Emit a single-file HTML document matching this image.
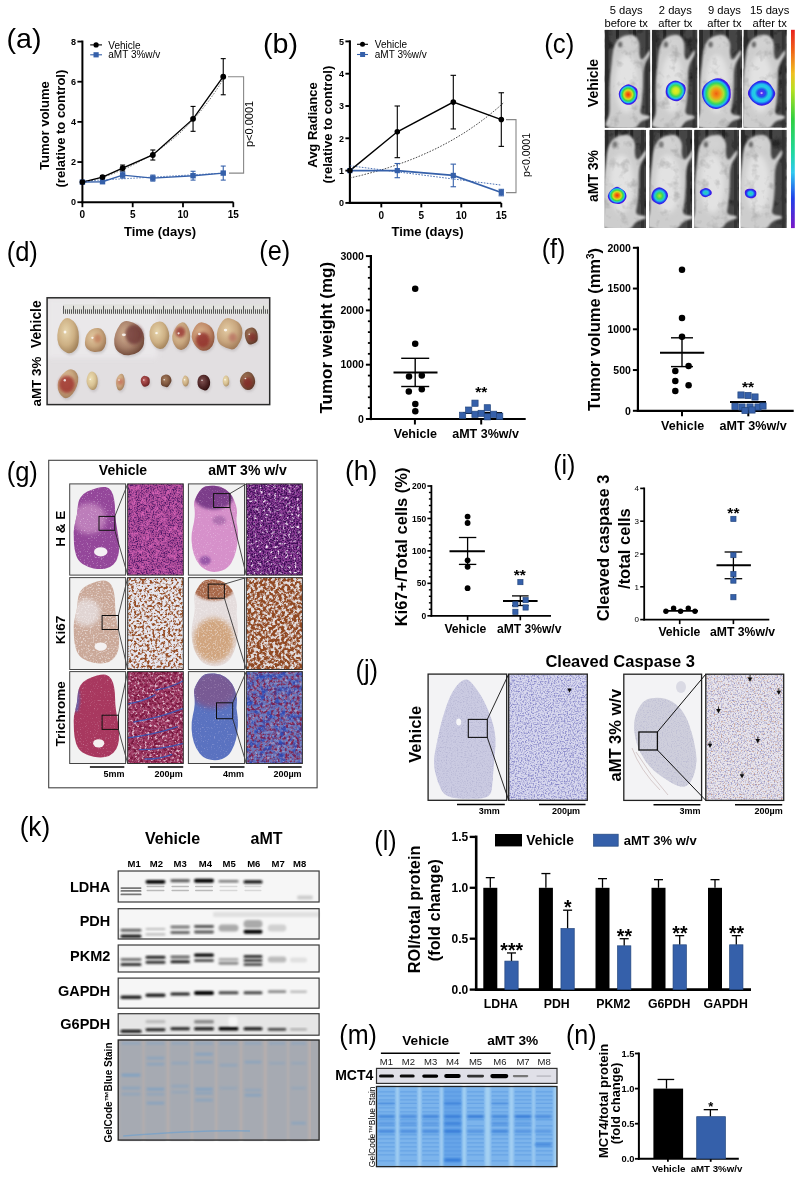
<!DOCTYPE html>
<html><head><meta charset="utf-8"><style>
html,body{margin:0;padding:0;background:#fff;}
svg{display:block;}
text{font-family:"Liberation Sans",sans-serif;}
</style></head><body>
<svg width="808" height="1178" viewBox="0 0 808 1178">
<defs><filter id="gblur" x="0" y="0" width="100%" height="100%"><feGaussianBlur stdDeviation="0.45"/></filter></defs>
<rect width="808" height="1178" fill="#fff"/>
<g filter="url(#gblur)">
<rect width="808" height="1178" fill="#fff"/>
<text transform="translate(6.48 47.97) scale(1.050 1)" font-size="27.27">(a)</text>
<text transform="translate(262.98 53.37) scale(1.050 1)" font-size="27.27">(b)</text>
<text transform="translate(544.25 53.28) scale(0.933 1)" font-size="27.70">(c)</text>
<text transform="translate(6.67 260.68) scale(0.922 1)" font-size="27.70">(d)</text>
<text transform="translate(259.28 260.48) scale(0.912 1)" font-size="27.70">(e)</text>
<text transform="translate(541.69 258.28) scale(0.911 1)" font-size="27.70">(f)</text>
<text transform="translate(6.67 480.68) scale(0.922 1)" font-size="27.70">(g)</text>
<text transform="translate(344.90 480.48) scale(0.962 1)" font-size="27.70">(h)</text>
<text transform="translate(553.19 474.18) scale(0.906 1)" font-size="27.70">(i)</text>
<text transform="translate(355.47 678.78) scale(0.920 1)" font-size="27.70">(j)</text>
<text transform="translate(19.63 835.68) scale(0.947 1)" font-size="27.70">(k)</text>
<text transform="translate(374.29 849.78) scale(0.906 1)" font-size="27.70">(l)</text>
<text transform="translate(339.29 1044.47) scale(0.920 1)" font-size="27.27">(m)</text>
<text transform="translate(565.99 1044.38) scale(0.909 1)" font-size="27.70">(n)</text>
<line x1="82.40" y1="40.56" x2="82.40" y2="203.20" stroke="#000" stroke-width="2"/>
<line x1="77.40" y1="202.20" x2="82.40" y2="202.20" stroke="#000" stroke-width="1.8"/>
<text x="75.90" y="205.44" font-size="9" font-weight="bold" text-anchor="end" fill="#000">0</text>
<line x1="77.40" y1="162.04" x2="82.40" y2="162.04" stroke="#000" stroke-width="1.8"/>
<text x="75.90" y="165.28" font-size="9" font-weight="bold" text-anchor="end" fill="#000">2</text>
<line x1="77.40" y1="121.88" x2="82.40" y2="121.88" stroke="#000" stroke-width="1.8"/>
<text x="75.90" y="125.12" font-size="9" font-weight="bold" text-anchor="end" fill="#000">4</text>
<line x1="77.40" y1="81.72" x2="82.40" y2="81.72" stroke="#000" stroke-width="1.8"/>
<text x="75.90" y="84.96" font-size="9" font-weight="bold" text-anchor="end" fill="#000">6</text>
<line x1="77.40" y1="41.56" x2="82.40" y2="41.56" stroke="#000" stroke-width="1.8"/>
<text x="75.90" y="44.80" font-size="9" font-weight="bold" text-anchor="end" fill="#000">8</text>
<line x1="81.40" y1="202.20" x2="233.40" y2="202.20" stroke="#000" stroke-width="2"/>
<line x1="82.40" y1="202.20" x2="82.40" y2="207.20" stroke="#000" stroke-width="1.8"/>
<text x="82.40" y="218.40" font-size="10" font-weight="bold" text-anchor="middle" fill="#000">0</text>
<line x1="132.70" y1="202.20" x2="132.70" y2="207.20" stroke="#000" stroke-width="1.8"/>
<text x="132.70" y="218.40" font-size="10" font-weight="bold" text-anchor="middle" fill="#000">5</text>
<line x1="183.00" y1="202.20" x2="183.00" y2="207.20" stroke="#000" stroke-width="1.8"/>
<text x="183.00" y="218.40" font-size="10" font-weight="bold" text-anchor="middle" fill="#000">10</text>
<line x1="233.30" y1="202.20" x2="233.30" y2="207.20" stroke="#000" stroke-width="1.8"/>
<text x="233.30" y="218.40" font-size="10" font-weight="bold" text-anchor="middle" fill="#000">15</text>
<text x="160.00" y="235.68" font-size="13" font-weight="bold" text-anchor="middle" fill="#000">Time (days)</text>
<text x="48.68" y="125.60" font-size="13" font-weight="bold" text-anchor="middle" fill="#000" transform="rotate(-90 48.68 125.60)">Tumor volume</text>
<text x="64.58" y="128.60" font-size="13" font-weight="bold" text-anchor="middle" fill="#000" transform="rotate(-90 64.58 128.60)">(relative to control)</text>
<path d="M82.4,183.1 L87.4,181.8 L92.5,180.4 L97.5,178.9 L102.5,177.3 L107.6,175.6 L112.6,173.8 L117.6,171.8 L122.6,169.7 L127.7,167.5 L132.7,165.1 L137.7,162.6 L142.8,159.8 L147.8,156.9 L152.8,153.8 L157.9,150.5 L162.9,146.9 L167.9,143.1 L172.9,139.1 L178.0,134.7 L183.0,130.1 L188.0,125.1 L193.1,119.8 L198.1,114.1 L203.1,108.1 L208.2,101.6 L213.2,94.7 L218.2,87.3 L223.2,79.4" fill="none" stroke="#555" stroke-width="0.8" stroke-dasharray="1.5,1.5"/>
<path d="M82.4,181.1 L223.2,173.1" fill="none" stroke="#3560aa" stroke-width="0.8" stroke-dasharray="1.5,1.5"/>
<line x1="102.52" y1="175.69" x2="102.52" y2="178.51" stroke="#000" stroke-width="1.1"/>
<line x1="100.02" y1="175.69" x2="105.02" y2="175.69" stroke="#000" stroke-width="1.1"/>
<line x1="100.02" y1="178.51" x2="105.02" y2="178.51" stroke="#000" stroke-width="1.1"/>
<line x1="122.64" y1="165.05" x2="122.64" y2="171.08" stroke="#000" stroke-width="1.1"/>
<line x1="120.14" y1="165.05" x2="125.14" y2="165.05" stroke="#000" stroke-width="1.1"/>
<line x1="120.14" y1="171.08" x2="125.14" y2="171.08" stroke="#000" stroke-width="1.1"/>
<line x1="152.82" y1="149.99" x2="152.82" y2="160.03" stroke="#000" stroke-width="1.1"/>
<line x1="150.32" y1="149.99" x2="155.32" y2="149.99" stroke="#000" stroke-width="1.1"/>
<line x1="150.32" y1="160.03" x2="155.32" y2="160.03" stroke="#000" stroke-width="1.1"/>
<line x1="193.06" y1="106.42" x2="193.06" y2="131.32" stroke="#000" stroke-width="1.1"/>
<line x1="190.56" y1="106.42" x2="195.56" y2="106.42" stroke="#000" stroke-width="1.1"/>
<line x1="190.56" y1="131.32" x2="195.56" y2="131.32" stroke="#000" stroke-width="1.1"/>
<line x1="223.24" y1="58.63" x2="223.24" y2="94.77" stroke="#000" stroke-width="1.1"/>
<line x1="220.74" y1="58.63" x2="225.74" y2="58.63" stroke="#000" stroke-width="1.1"/>
<line x1="220.74" y1="94.77" x2="225.74" y2="94.77" stroke="#000" stroke-width="1.1"/>
<line x1="102.52" y1="180.71" x2="102.52" y2="182.72" stroke="#3560aa" stroke-width="1.1"/>
<line x1="100.02" y1="180.71" x2="105.02" y2="180.71" stroke="#3560aa" stroke-width="1.1"/>
<line x1="100.02" y1="182.72" x2="105.02" y2="182.72" stroke="#3560aa" stroke-width="1.1"/>
<line x1="122.64" y1="172.08" x2="122.64" y2="178.10" stroke="#3560aa" stroke-width="1.1"/>
<line x1="120.14" y1="172.08" x2="125.14" y2="172.08" stroke="#3560aa" stroke-width="1.1"/>
<line x1="120.14" y1="178.10" x2="125.14" y2="178.10" stroke="#3560aa" stroke-width="1.1"/>
<line x1="152.82" y1="175.09" x2="152.82" y2="181.12" stroke="#3560aa" stroke-width="1.1"/>
<line x1="150.32" y1="175.09" x2="155.32" y2="175.09" stroke="#3560aa" stroke-width="1.1"/>
<line x1="150.32" y1="181.12" x2="155.32" y2="181.12" stroke="#3560aa" stroke-width="1.1"/>
<line x1="193.06" y1="171.28" x2="193.06" y2="180.11" stroke="#3560aa" stroke-width="1.1"/>
<line x1="190.56" y1="171.28" x2="195.56" y2="171.28" stroke="#3560aa" stroke-width="1.1"/>
<line x1="190.56" y1="180.11" x2="195.56" y2="180.11" stroke="#3560aa" stroke-width="1.1"/>
<line x1="223.24" y1="166.06" x2="223.24" y2="180.11" stroke="#3560aa" stroke-width="1.1"/>
<line x1="220.74" y1="166.06" x2="225.74" y2="166.06" stroke="#3560aa" stroke-width="1.1"/>
<line x1="220.74" y1="180.11" x2="225.74" y2="180.11" stroke="#3560aa" stroke-width="1.1"/>
<path d="M82.4,182.1 L102.5,177.1 L122.6,168.1 L152.8,155.0 L193.1,118.9 L223.2,76.7" fill="none" stroke="#000" stroke-width="1.4"/>
<path d="M82.4,182.1 L102.5,181.7 L122.6,175.1 L152.8,178.1 L193.1,175.7 L223.2,173.1" fill="none" stroke="#3560aa" stroke-width="1.4"/>
<rect x="79.70" y="179.42" width="5.40" height="5.40" fill="#3560aa"/>
<rect x="99.82" y="179.02" width="5.40" height="5.40" fill="#3560aa"/>
<rect x="119.94" y="172.39" width="5.40" height="5.40" fill="#3560aa"/>
<rect x="150.12" y="175.40" width="5.40" height="5.40" fill="#3560aa"/>
<rect x="190.36" y="172.99" width="5.40" height="5.40" fill="#3560aa"/>
<rect x="220.54" y="170.38" width="5.40" height="5.40" fill="#3560aa"/>
<circle cx="82.40" cy="182.12" r="2.90" fill="#000"/>
<circle cx="102.52" cy="177.10" r="2.90" fill="#000"/>
<circle cx="122.64" cy="168.06" r="2.90" fill="#000"/>
<circle cx="152.82" cy="155.01" r="2.90" fill="#000"/>
<circle cx="193.06" cy="118.87" r="2.90" fill="#000"/>
<circle cx="223.24" cy="76.70" r="2.90" fill="#000"/>
<line x1="90.20" y1="44.90" x2="102.00" y2="44.90" stroke="#000" stroke-width="1.1"/>
<circle cx="96.10" cy="44.90" r="2.60" fill="#000"/>
<text x="108.30" y="48.50" font-size="10" text-anchor="start" fill="#000">Vehicle</text>
<line x1="90.20" y1="54.80" x2="102.00" y2="54.80" stroke="#3560aa" stroke-width="1.1"/>
<rect x="93.50" y="52.20" width="5.20" height="5.20" fill="#3560aa"/>
<text x="108.30" y="58.40" font-size="10" text-anchor="start" fill="#000">aMT 3%w/v</text>
<path d="M228,76.7 L243.6,76.7 L243.6,173.1 L229,173.1" fill="none" stroke="#888" stroke-width="1.1"/>
<text x="252.97" y="123.90" font-size="11" text-anchor="middle" fill="#000" transform="rotate(-90 252.97 123.90)">p&lt;0.0001</text>
<line x1="349.90" y1="40.35" x2="349.90" y2="203.95" stroke="#000" stroke-width="2.1"/>
<line x1="345.40" y1="202.90" x2="349.90" y2="202.90" stroke="#000" stroke-width="1.8900000000000001"/>
<text x="343.90" y="206.14" font-size="9" font-weight="bold" text-anchor="end" fill="#000">0</text>
<line x1="345.40" y1="170.60" x2="349.90" y2="170.60" stroke="#000" stroke-width="1.8900000000000001"/>
<text x="343.90" y="173.84" font-size="9" font-weight="bold" text-anchor="end" fill="#000">1</text>
<line x1="345.40" y1="138.30" x2="349.90" y2="138.30" stroke="#000" stroke-width="1.8900000000000001"/>
<text x="343.90" y="141.54" font-size="9" font-weight="bold" text-anchor="end" fill="#000">2</text>
<line x1="345.40" y1="106.00" x2="349.90" y2="106.00" stroke="#000" stroke-width="1.8900000000000001"/>
<text x="343.90" y="109.24" font-size="9" font-weight="bold" text-anchor="end" fill="#000">3</text>
<line x1="345.40" y1="73.70" x2="349.90" y2="73.70" stroke="#000" stroke-width="1.8900000000000001"/>
<text x="343.90" y="76.94" font-size="9" font-weight="bold" text-anchor="end" fill="#000">4</text>
<line x1="345.40" y1="41.40" x2="349.90" y2="41.40" stroke="#000" stroke-width="1.8900000000000001"/>
<text x="343.90" y="44.64" font-size="9" font-weight="bold" text-anchor="end" fill="#000">5</text>
<line x1="348.85" y1="202.90" x2="501.30" y2="202.90" stroke="#000" stroke-width="2.1"/>
<line x1="381.30" y1="202.90" x2="381.30" y2="207.40" stroke="#000" stroke-width="1.8900000000000001"/>
<text x="381.30" y="218.90" font-size="10" font-weight="bold" text-anchor="middle" fill="#000">0</text>
<line x1="421.30" y1="202.90" x2="421.30" y2="207.40" stroke="#000" stroke-width="1.8900000000000001"/>
<text x="421.30" y="218.90" font-size="10" font-weight="bold" text-anchor="middle" fill="#000">5</text>
<line x1="461.30" y1="202.90" x2="461.30" y2="207.40" stroke="#000" stroke-width="1.8900000000000001"/>
<text x="461.30" y="218.90" font-size="10" font-weight="bold" text-anchor="middle" fill="#000">10</text>
<line x1="501.30" y1="202.90" x2="501.30" y2="207.40" stroke="#000" stroke-width="1.8900000000000001"/>
<text x="501.30" y="218.90" font-size="10" font-weight="bold" text-anchor="middle" fill="#000">15</text>
<text x="427.50" y="236.08" font-size="13" font-weight="bold" text-anchor="middle" fill="#000">Time (days)</text>
<text x="316.98" y="125.00" font-size="13" font-weight="bold" text-anchor="middle" fill="#000" transform="rotate(-90 316.98 125.00)">Avg Radiance</text>
<text x="331.68" y="124.60" font-size="13" font-weight="bold" text-anchor="middle" fill="#000" transform="rotate(-90 331.68 124.60)">(relative to control)</text>
<path d="M349.9,178.0 L353.1,177.3 L356.3,176.5 L359.5,175.8 L362.7,175.0 L365.9,174.1 L369.1,173.3 L372.3,172.4 L375.5,171.5 L378.7,170.6 L381.9,169.7 L385.1,168.7 L388.3,167.7 L391.5,166.6 L394.7,165.6 L397.9,164.5 L401.1,163.3 L404.3,162.2 L407.5,161.0 L410.7,159.7 L413.9,158.5 L417.1,157.2 L420.3,155.8 L423.5,154.4 L426.7,153.0 L429.9,151.5 L433.1,150.0 L436.3,148.5 L439.5,146.9 L442.7,145.2 L445.9,143.5 L449.1,141.8 L452.3,140.0 L455.5,138.1 L458.7,136.2 L461.9,134.3 L465.1,132.3 L468.3,130.2 L471.5,128.0 L474.7,125.8 L477.9,123.6 L481.1,121.2 L484.3,118.8 L487.5,116.4 L490.7,113.8 L493.9,111.2 L497.1,108.5 L500.3,105.7 L503.5,102.8" fill="none" stroke="#333" stroke-width="0.9" stroke-dasharray="1.6,1.4"/>
<path d="M349.9,165.8 L501.3,185.1" fill="none" stroke="#3560aa" stroke-width="0.9" stroke-dasharray="1.6,1.4"/>
<line x1="397.30" y1="106.00" x2="397.30" y2="157.68" stroke="#000" stroke-width="1.1"/>
<line x1="394.55" y1="106.00" x2="400.05" y2="106.00" stroke="#000" stroke-width="1.1"/>
<line x1="394.55" y1="157.68" x2="400.05" y2="157.68" stroke="#000" stroke-width="1.1"/>
<line x1="453.30" y1="75.32" x2="453.30" y2="128.93" stroke="#000" stroke-width="1.1"/>
<line x1="450.55" y1="75.32" x2="456.05" y2="75.32" stroke="#000" stroke-width="1.1"/>
<line x1="450.55" y1="128.93" x2="456.05" y2="128.93" stroke="#000" stroke-width="1.1"/>
<line x1="501.30" y1="92.76" x2="501.30" y2="146.38" stroke="#000" stroke-width="1.1"/>
<line x1="498.55" y1="92.76" x2="504.05" y2="92.76" stroke="#000" stroke-width="1.1"/>
<line x1="498.55" y1="146.38" x2="504.05" y2="146.38" stroke="#000" stroke-width="1.1"/>
<line x1="397.30" y1="163.49" x2="397.30" y2="177.71" stroke="#3560aa" stroke-width="1.1"/>
<line x1="394.55" y1="163.49" x2="400.05" y2="163.49" stroke="#3560aa" stroke-width="1.1"/>
<line x1="394.55" y1="177.71" x2="400.05" y2="177.71" stroke="#3560aa" stroke-width="1.1"/>
<line x1="453.30" y1="164.14" x2="453.30" y2="186.75" stroke="#3560aa" stroke-width="1.1"/>
<line x1="450.55" y1="164.14" x2="456.05" y2="164.14" stroke="#3560aa" stroke-width="1.1"/>
<line x1="450.55" y1="186.75" x2="456.05" y2="186.75" stroke="#3560aa" stroke-width="1.1"/>
<line x1="501.30" y1="189.33" x2="501.30" y2="195.79" stroke="#3560aa" stroke-width="1.1"/>
<line x1="498.55" y1="189.33" x2="504.05" y2="189.33" stroke="#3560aa" stroke-width="1.1"/>
<line x1="498.55" y1="195.79" x2="504.05" y2="195.79" stroke="#3560aa" stroke-width="1.1"/>
<path d="M349.9,170.6 L397.3,131.8 L453.3,102.1 L501.3,119.6" fill="none" stroke="#000" stroke-width="1.4"/>
<path d="M349.9,170.6 L397.3,170.6 L453.3,175.4 L501.3,192.6" fill="none" stroke="#3560aa" stroke-width="1.6"/>
<rect x="347.30" y="168.00" width="5.20" height="5.20" fill="#3560aa"/>
<rect x="394.70" y="168.00" width="5.20" height="5.20" fill="#3560aa"/>
<rect x="450.70" y="172.84" width="5.20" height="5.20" fill="#3560aa"/>
<rect x="498.70" y="189.96" width="5.20" height="5.20" fill="#3560aa"/>
<circle cx="349.90" cy="170.60" r="2.80" fill="#000"/>
<circle cx="397.30" cy="131.84" r="2.80" fill="#000"/>
<circle cx="453.30" cy="102.12" r="2.80" fill="#000"/>
<circle cx="501.30" cy="119.57" r="2.80" fill="#000"/>
<line x1="357.00" y1="44.30" x2="368.00" y2="44.30" stroke="#000" stroke-width="1.1"/>
<circle cx="362.50" cy="44.30" r="2.50" fill="#000"/>
<text x="374.80" y="47.90" font-size="10" text-anchor="start" fill="#000">Vehicle</text>
<line x1="357.00" y1="54.50" x2="368.00" y2="54.50" stroke="#3560aa" stroke-width="1.1"/>
<rect x="360.10" y="52.00" width="5.00" height="5.00" fill="#3560aa"/>
<text x="374.80" y="58.10" font-size="10" text-anchor="start" fill="#000">aMT 3%w/v</text>
<path d="M506,119.6 L516,119.6 L516,192.6 L506,192.6" fill="none" stroke="#888" stroke-width="1.1"/>
<text x="529.63" y="155.00" font-size="10.5" text-anchor="middle" fill="#000" transform="rotate(-90 529.63 155.00)">p&lt;0.0001</text>
<line x1="370.90" y1="255.00" x2="370.90" y2="420.10" stroke="#000" stroke-width="2.2"/>
<line x1="365.90" y1="419.00" x2="370.90" y2="419.00" stroke="#000" stroke-width="1.9800000000000002"/>
<text x="363.90" y="422.78" font-size="10.5" font-weight="bold" text-anchor="end" fill="#000">0</text>
<line x1="365.90" y1="364.70" x2="370.90" y2="364.70" stroke="#000" stroke-width="1.9800000000000002"/>
<text x="363.90" y="368.48" font-size="10.5" font-weight="bold" text-anchor="end" fill="#000">1000</text>
<line x1="365.90" y1="310.40" x2="370.90" y2="310.40" stroke="#000" stroke-width="1.9800000000000002"/>
<text x="363.90" y="314.18" font-size="10.5" font-weight="bold" text-anchor="end" fill="#000">2000</text>
<line x1="365.90" y1="256.10" x2="370.90" y2="256.10" stroke="#000" stroke-width="1.9800000000000002"/>
<text x="363.90" y="259.88" font-size="10.5" font-weight="bold" text-anchor="end" fill="#000">3000</text>
<line x1="367.90" y1="408.14" x2="370.90" y2="408.14" stroke="#000" stroke-width="1.7600000000000002"/>
<line x1="367.90" y1="397.28" x2="370.90" y2="397.28" stroke="#000" stroke-width="1.7600000000000002"/>
<line x1="367.90" y1="386.42" x2="370.90" y2="386.42" stroke="#000" stroke-width="1.7600000000000002"/>
<line x1="367.90" y1="375.56" x2="370.90" y2="375.56" stroke="#000" stroke-width="1.7600000000000002"/>
<line x1="367.90" y1="353.84" x2="370.90" y2="353.84" stroke="#000" stroke-width="1.7600000000000002"/>
<line x1="367.90" y1="342.98" x2="370.90" y2="342.98" stroke="#000" stroke-width="1.7600000000000002"/>
<line x1="367.90" y1="332.12" x2="370.90" y2="332.12" stroke="#000" stroke-width="1.7600000000000002"/>
<line x1="367.90" y1="321.26" x2="370.90" y2="321.26" stroke="#000" stroke-width="1.7600000000000002"/>
<line x1="367.90" y1="299.54" x2="370.90" y2="299.54" stroke="#000" stroke-width="1.7600000000000002"/>
<line x1="367.90" y1="288.68" x2="370.90" y2="288.68" stroke="#000" stroke-width="1.7600000000000002"/>
<line x1="367.90" y1="277.82" x2="370.90" y2="277.82" stroke="#000" stroke-width="1.7600000000000002"/>
<line x1="367.90" y1="266.96" x2="370.90" y2="266.96" stroke="#000" stroke-width="1.7600000000000002"/>
<line x1="369.80" y1="419.00" x2="525.70" y2="419.00" stroke="#000" stroke-width="2.2"/>
<line x1="414.90" y1="419.00" x2="414.90" y2="424.50" stroke="#000" stroke-width="1.9800000000000002"/>
<line x1="481.20" y1="419.00" x2="481.20" y2="424.50" stroke="#000" stroke-width="1.9800000000000002"/>
<text x="415.30" y="437.70" font-size="12.5" font-weight="bold" text-anchor="middle" fill="#000">Vehicle</text>
<text x="485.60" y="437.70" font-size="12.5" font-weight="bold" text-anchor="middle" fill="#000">aMT 3%w/v</text>
<text x="331.62" y="337.70" font-size="17" font-weight="bold" text-anchor="middle" fill="#000" transform="rotate(-90 331.62 337.70)">Tumor weight (mg)</text>
<line x1="393.50" y1="372.40" x2="437.50" y2="372.40" stroke="#000" stroke-width="2"/>
<line x1="415.20" y1="358.30" x2="415.20" y2="386.50" stroke="#000" stroke-width="1.4"/>
<line x1="401.20" y1="358.30" x2="429.20" y2="358.30" stroke="#000" stroke-width="1.4"/>
<line x1="401.20" y1="386.50" x2="429.20" y2="386.50" stroke="#000" stroke-width="1.4"/>
<circle cx="415.20" cy="288.80" r="3.25" fill="#000"/>
<circle cx="415.20" cy="343.80" r="3.25" fill="#000"/>
<circle cx="409.00" cy="376.50" r="3.25" fill="#000"/>
<circle cx="421.80" cy="375.50" r="3.25" fill="#000"/>
<circle cx="408.80" cy="391.50" r="3.25" fill="#000"/>
<circle cx="421.80" cy="389.30" r="3.25" fill="#000"/>
<circle cx="415.30" cy="404.10" r="3.25" fill="#000"/>
<circle cx="415.30" cy="411.20" r="3.25" fill="#000"/>
<line x1="463.00" y1="413.00" x2="502.00" y2="413.00" stroke="#000" stroke-width="2"/>
<rect x="471.90" y="400.10" width="6.20" height="6.20" fill="#3560aa" stroke="#24477f" stroke-width="0.7"/>
<rect x="465.60" y="407.00" width="6.20" height="6.20" fill="#3560aa" stroke="#24477f" stroke-width="0.7"/>
<rect x="459.50" y="412.20" width="6.20" height="6.20" fill="#3560aa" stroke="#24477f" stroke-width="0.7"/>
<rect x="471.90" y="411.20" width="6.20" height="6.20" fill="#3560aa" stroke="#24477f" stroke-width="0.7"/>
<rect x="478.10" y="410.30" width="6.20" height="6.20" fill="#3560aa" stroke="#24477f" stroke-width="0.7"/>
<rect x="484.20" y="404.70" width="6.20" height="6.20" fill="#3560aa" stroke="#24477f" stroke-width="0.7"/>
<rect x="484.20" y="413.70" width="6.20" height="6.20" fill="#3560aa" stroke="#24477f" stroke-width="0.7"/>
<rect x="490.50" y="411.20" width="6.20" height="6.20" fill="#3560aa" stroke="#24477f" stroke-width="0.7"/>
<rect x="496.60" y="413.10" width="6.20" height="6.20" fill="#3560aa" stroke="#24477f" stroke-width="0.7"/>
<text x="481.20" y="397.20" font-size="15.5" font-weight="bold" text-anchor="middle" fill="#000">**</text>
<line x1="637.90" y1="246.70" x2="637.90" y2="411.90" stroke="#000" stroke-width="2.2"/>
<line x1="632.90" y1="410.80" x2="637.90" y2="410.80" stroke="#000" stroke-width="1.9800000000000002"/>
<text x="630.90" y="414.58" font-size="10.5" font-weight="bold" text-anchor="end" fill="#000">0</text>
<line x1="632.90" y1="370.05" x2="637.90" y2="370.05" stroke="#000" stroke-width="1.9800000000000002"/>
<text x="630.90" y="373.83" font-size="10.5" font-weight="bold" text-anchor="end" fill="#000">500</text>
<line x1="632.90" y1="329.30" x2="637.90" y2="329.30" stroke="#000" stroke-width="1.9800000000000002"/>
<text x="630.90" y="333.08" font-size="10.5" font-weight="bold" text-anchor="end" fill="#000">1000</text>
<line x1="632.90" y1="288.55" x2="637.90" y2="288.55" stroke="#000" stroke-width="1.9800000000000002"/>
<text x="630.90" y="292.33" font-size="10.5" font-weight="bold" text-anchor="end" fill="#000">1500</text>
<line x1="632.90" y1="247.80" x2="637.90" y2="247.80" stroke="#000" stroke-width="1.9800000000000002"/>
<text x="630.90" y="251.58" font-size="10.5" font-weight="bold" text-anchor="end" fill="#000">2000</text>
<line x1="636.80" y1="410.80" x2="793.70" y2="410.80" stroke="#000" stroke-width="2.2"/>
<line x1="682.00" y1="410.80" x2="682.00" y2="416.30" stroke="#000" stroke-width="1.9800000000000002"/>
<line x1="748.30" y1="410.80" x2="748.30" y2="416.30" stroke="#000" stroke-width="1.9800000000000002"/>
<text x="682.60" y="430.20" font-size="12.5" font-weight="bold" text-anchor="middle" fill="#000">Vehicle</text>
<text x="753.10" y="430.24" font-size="12.6" font-weight="bold" text-anchor="middle" fill="#000">aMT 3%w/v</text>
<text x="600.04" y="329.40" font-size="16.5" font-weight="bold" text-anchor="middle" fill="#000" transform="rotate(-90 600.04 329.40)">Tumor volume (mm<tspan font-size="10" dy="-6">3</tspan><tspan dy="6">)</tspan></text>
<line x1="660.00" y1="352.70" x2="704.20" y2="352.70" stroke="#000" stroke-width="2"/>
<line x1="682.00" y1="337.80" x2="682.00" y2="366.60" stroke="#000" stroke-width="1.4"/>
<line x1="671.00" y1="337.80" x2="693.00" y2="337.80" stroke="#000" stroke-width="1.4"/>
<line x1="671.00" y1="366.60" x2="693.00" y2="366.60" stroke="#000" stroke-width="1.4"/>
<circle cx="682.00" cy="269.80" r="3.25" fill="#000"/>
<circle cx="682.00" cy="317.90" r="3.25" fill="#000"/>
<circle cx="682.00" cy="336.80" r="3.25" fill="#000"/>
<circle cx="688.60" cy="366.00" r="3.25" fill="#000"/>
<circle cx="675.30" cy="371.00" r="3.25" fill="#000"/>
<circle cx="675.30" cy="381.00" r="3.25" fill="#000"/>
<circle cx="688.60" cy="385.20" r="3.25" fill="#000"/>
<circle cx="675.30" cy="390.90" r="3.25" fill="#000"/>
<line x1="730.00" y1="402.00" x2="766.00" y2="402.00" stroke="#000" stroke-width="2"/>
<rect x="737.90" y="391.90" width="6.20" height="6.20" fill="#3560aa" stroke="#24477f" stroke-width="0.7"/>
<rect x="744.90" y="392.40" width="6.20" height="6.20" fill="#3560aa" stroke="#24477f" stroke-width="0.7"/>
<rect x="751.90" y="393.90" width="6.20" height="6.20" fill="#3560aa" stroke="#24477f" stroke-width="0.7"/>
<rect x="731.90" y="403.40" width="6.20" height="6.20" fill="#3560aa" stroke="#24477f" stroke-width="0.7"/>
<rect x="738.90" y="403.90" width="6.20" height="6.20" fill="#3560aa" stroke="#24477f" stroke-width="0.7"/>
<rect x="746.90" y="403.90" width="6.20" height="6.20" fill="#3560aa" stroke="#24477f" stroke-width="0.7"/>
<rect x="754.90" y="403.90" width="6.20" height="6.20" fill="#3560aa" stroke="#24477f" stroke-width="0.7"/>
<rect x="741.90" y="407.40" width="6.20" height="6.20" fill="#3560aa" stroke="#24477f" stroke-width="0.7"/>
<rect x="748.90" y="406.90" width="6.20" height="6.20" fill="#3560aa" stroke="#24477f" stroke-width="0.7"/>
<rect x="759.90" y="402.90" width="6.20" height="6.20" fill="#3560aa" stroke="#24477f" stroke-width="0.7"/>
<text x="748.00" y="392.10" font-size="15.5" font-weight="bold" text-anchor="middle" fill="#000">**</text>
<line x1="431.40" y1="485.10" x2="431.40" y2="616.70" stroke="#000" stroke-width="1.8"/>
<line x1="427.40" y1="615.80" x2="431.40" y2="615.80" stroke="#000" stroke-width="1.62"/>
<text x="426.20" y="618.86" font-size="8.5" font-weight="bold" text-anchor="end" fill="#000">0</text>
<line x1="427.40" y1="583.35" x2="431.40" y2="583.35" stroke="#000" stroke-width="1.62"/>
<text x="426.20" y="586.41" font-size="8.5" font-weight="bold" text-anchor="end" fill="#000">50</text>
<line x1="427.40" y1="550.90" x2="431.40" y2="550.90" stroke="#000" stroke-width="1.62"/>
<text x="426.20" y="553.96" font-size="8.5" font-weight="bold" text-anchor="end" fill="#000">100</text>
<line x1="427.40" y1="518.45" x2="431.40" y2="518.45" stroke="#000" stroke-width="1.62"/>
<text x="426.20" y="521.51" font-size="8.5" font-weight="bold" text-anchor="end" fill="#000">150</text>
<line x1="427.40" y1="486.00" x2="431.40" y2="486.00" stroke="#000" stroke-width="1.62"/>
<text x="426.20" y="489.06" font-size="8.5" font-weight="bold" text-anchor="end" fill="#000">200</text>
<line x1="428.90" y1="609.31" x2="431.40" y2="609.31" stroke="#000" stroke-width="1.4400000000000002"/>
<line x1="428.90" y1="602.82" x2="431.40" y2="602.82" stroke="#000" stroke-width="1.4400000000000002"/>
<line x1="428.90" y1="596.33" x2="431.40" y2="596.33" stroke="#000" stroke-width="1.4400000000000002"/>
<line x1="428.90" y1="589.84" x2="431.40" y2="589.84" stroke="#000" stroke-width="1.4400000000000002"/>
<line x1="428.90" y1="576.86" x2="431.40" y2="576.86" stroke="#000" stroke-width="1.4400000000000002"/>
<line x1="428.90" y1="570.37" x2="431.40" y2="570.37" stroke="#000" stroke-width="1.4400000000000002"/>
<line x1="428.90" y1="563.88" x2="431.40" y2="563.88" stroke="#000" stroke-width="1.4400000000000002"/>
<line x1="428.90" y1="557.39" x2="431.40" y2="557.39" stroke="#000" stroke-width="1.4400000000000002"/>
<line x1="428.90" y1="544.41" x2="431.40" y2="544.41" stroke="#000" stroke-width="1.4400000000000002"/>
<line x1="428.90" y1="537.92" x2="431.40" y2="537.92" stroke="#000" stroke-width="1.4400000000000002"/>
<line x1="428.90" y1="531.43" x2="431.40" y2="531.43" stroke="#000" stroke-width="1.4400000000000002"/>
<line x1="428.90" y1="524.94" x2="431.40" y2="524.94" stroke="#000" stroke-width="1.4400000000000002"/>
<line x1="428.90" y1="511.96" x2="431.40" y2="511.96" stroke="#000" stroke-width="1.4400000000000002"/>
<line x1="428.90" y1="505.47" x2="431.40" y2="505.47" stroke="#000" stroke-width="1.4400000000000002"/>
<line x1="428.90" y1="498.98" x2="431.40" y2="498.98" stroke="#000" stroke-width="1.4400000000000002"/>
<line x1="428.90" y1="492.49" x2="431.40" y2="492.49" stroke="#000" stroke-width="1.4400000000000002"/>
<line x1="430.50" y1="615.80" x2="551.00" y2="615.80" stroke="#000" stroke-width="1.8"/>
<line x1="467.60" y1="615.80" x2="467.60" y2="620.30" stroke="#000" stroke-width="1.62"/>
<line x1="520.30" y1="615.80" x2="520.30" y2="620.30" stroke="#000" stroke-width="1.62"/>
<text x="465.40" y="632.69" font-size="12.2" font-weight="bold" text-anchor="middle" fill="#000">Vehicle</text>
<text x="529.20" y="632.66" font-size="12.1" font-weight="bold" text-anchor="middle" fill="#000">aMT 3%w/v</text>
<text x="406.84" y="546.90" font-size="16.5" font-weight="bold" text-anchor="middle" fill="#000" transform="rotate(-90 406.84 546.90)">Ki67+/Total cells (%)</text>
<line x1="449.50" y1="551.20" x2="484.90" y2="551.20" stroke="#000" stroke-width="2"/>
<line x1="467.60" y1="537.50" x2="467.60" y2="564.40" stroke="#000" stroke-width="1.3"/>
<line x1="458.90" y1="537.50" x2="476.30" y2="537.50" stroke="#000" stroke-width="1.3"/>
<line x1="458.90" y1="564.40" x2="476.30" y2="564.40" stroke="#000" stroke-width="1.3"/>
<circle cx="467.60" cy="516.60" r="2.90" fill="#000"/>
<circle cx="467.60" cy="523.00" r="2.90" fill="#000"/>
<circle cx="467.60" cy="560.30" r="2.90" fill="#000"/>
<circle cx="467.60" cy="566.80" r="2.90" fill="#000"/>
<circle cx="467.60" cy="588.20" r="2.90" fill="#000"/>
<line x1="503.00" y1="601.00" x2="537.60" y2="601.00" stroke="#000" stroke-width="2"/>
<line x1="520.30" y1="595.90" x2="520.30" y2="605.50" stroke="#000" stroke-width="1.3"/>
<line x1="512.00" y1="595.90" x2="528.60" y2="595.90" stroke="#000" stroke-width="1.3"/>
<line x1="512.00" y1="605.50" x2="528.60" y2="605.50" stroke="#000" stroke-width="1.3"/>
<rect x="517.80" y="579.50" width="5.20" height="5.20" fill="#3560aa" stroke="#24477f" stroke-width="0.7"/>
<rect x="523.00" y="597.50" width="5.20" height="5.20" fill="#3560aa" stroke="#24477f" stroke-width="0.7"/>
<rect x="512.80" y="601.70" width="5.20" height="5.20" fill="#3560aa" stroke="#24477f" stroke-width="0.7"/>
<rect x="523.00" y="604.90" width="5.20" height="5.20" fill="#3560aa" stroke="#24477f" stroke-width="0.7"/>
<rect x="512.80" y="609.20" width="5.20" height="5.20" fill="#3560aa" stroke="#24477f" stroke-width="0.7"/>
<text x="519.70" y="580.40" font-size="15.5" font-weight="bold" text-anchor="middle" fill="#000">**</text>
<line x1="644.20" y1="487.50" x2="644.20" y2="620.50" stroke="#000" stroke-width="1.8"/>
<line x1="640.20" y1="619.60" x2="644.20" y2="619.60" stroke="#000" stroke-width="1.62"/>
<text x="639.00" y="622.48" font-size="8" text-anchor="end" fill="#000">0</text>
<line x1="640.20" y1="586.80" x2="644.20" y2="586.80" stroke="#000" stroke-width="1.62"/>
<text x="639.00" y="589.68" font-size="8" text-anchor="end" fill="#000">1</text>
<line x1="640.20" y1="554.00" x2="644.20" y2="554.00" stroke="#000" stroke-width="1.62"/>
<text x="639.00" y="556.88" font-size="8" text-anchor="end" fill="#000">2</text>
<line x1="640.20" y1="521.20" x2="644.20" y2="521.20" stroke="#000" stroke-width="1.62"/>
<text x="639.00" y="524.08" font-size="8" text-anchor="end" fill="#000">3</text>
<line x1="640.20" y1="488.40" x2="644.20" y2="488.40" stroke="#000" stroke-width="1.62"/>
<text x="639.00" y="491.28" font-size="8" text-anchor="end" fill="#000">4</text>
<line x1="643.30" y1="619.60" x2="769.30" y2="619.60" stroke="#000" stroke-width="1.8"/>
<line x1="679.70" y1="619.60" x2="679.70" y2="624.10" stroke="#000" stroke-width="1.62"/>
<line x1="733.40" y1="619.60" x2="733.40" y2="624.10" stroke="#000" stroke-width="1.62"/>
<text x="679.40" y="636.19" font-size="12.2" font-weight="bold" text-anchor="middle" fill="#000">Vehicle</text>
<text x="742.60" y="636.19" font-size="12.2" font-weight="bold" text-anchor="middle" fill="#000">aMT 3%w/v</text>
<text x="609.24" y="547.90" font-size="16.5" font-weight="bold" text-anchor="middle" fill="#000" transform="rotate(-90 609.24 547.90)">Cleaved caspase 3</text>
<text x="629.84" y="548.60" font-size="16.5" font-weight="bold" text-anchor="middle" fill="#000" transform="rotate(-90 629.84 548.60)">/total cells</text>
<line x1="664.00" y1="610.80" x2="698.00" y2="610.80" stroke="#000" stroke-width="1.8"/>
<circle cx="665.90" cy="611.30" r="2.70" fill="#000"/>
<circle cx="673.60" cy="608.30" r="2.70" fill="#000"/>
<circle cx="680.60" cy="611.30" r="2.70" fill="#000"/>
<circle cx="688.30" cy="608.30" r="2.70" fill="#000"/>
<circle cx="695.00" cy="611.30" r="2.70" fill="#000"/>
<line x1="716.50" y1="565.20" x2="750.90" y2="565.20" stroke="#000" stroke-width="2"/>
<line x1="733.40" y1="552.00" x2="733.40" y2="578.70" stroke="#000" stroke-width="1.3"/>
<line x1="724.60" y1="552.00" x2="742.20" y2="552.00" stroke="#000" stroke-width="1.3"/>
<line x1="724.60" y1="578.70" x2="742.20" y2="578.70" stroke="#000" stroke-width="1.3"/>
<rect x="730.80" y="516.30" width="5.20" height="5.20" fill="#3560aa" stroke="#24477f" stroke-width="0.7"/>
<rect x="730.80" y="552.50" width="5.20" height="5.20" fill="#3560aa" stroke="#24477f" stroke-width="0.7"/>
<rect x="730.80" y="571.50" width="5.20" height="5.20" fill="#3560aa" stroke="#24477f" stroke-width="0.7"/>
<rect x="730.80" y="578.00" width="5.20" height="5.20" fill="#3560aa" stroke="#24477f" stroke-width="0.7"/>
<rect x="730.80" y="594.60" width="5.20" height="5.20" fill="#3560aa" stroke="#24477f" stroke-width="0.7"/>
<text x="733.40" y="517.90" font-size="15.5" font-weight="bold" text-anchor="middle" fill="#000">**</text>
<line x1="476.20" y1="835.60" x2="476.20" y2="990.90" stroke="#000" stroke-width="2.6"/>
<line x1="469.70" y1="989.60" x2="476.20" y2="989.60" stroke="#000" stroke-width="2.3400000000000003"/>
<text x="468.20" y="993.92" font-size="12" font-weight="bold" text-anchor="end" fill="#000">0.0</text>
<line x1="469.70" y1="938.70" x2="476.20" y2="938.70" stroke="#000" stroke-width="2.3400000000000003"/>
<text x="468.20" y="943.02" font-size="12" font-weight="bold" text-anchor="end" fill="#000">0.5</text>
<line x1="469.70" y1="887.80" x2="476.20" y2="887.80" stroke="#000" stroke-width="2.3400000000000003"/>
<text x="468.20" y="892.12" font-size="12" font-weight="bold" text-anchor="end" fill="#000">1.0</text>
<line x1="469.70" y1="836.90" x2="476.20" y2="836.90" stroke="#000" stroke-width="2.3400000000000003"/>
<text x="468.20" y="841.22" font-size="12" font-weight="bold" text-anchor="end" fill="#000">1.5</text>
<line x1="474.90" y1="989.60" x2="751.00" y2="989.60" stroke="#000" stroke-width="2.6"/>
<line x1="490.30" y1="877.62" x2="490.30" y2="887.80" stroke="#000" stroke-width="1.3"/>
<line x1="485.80" y1="877.62" x2="494.80" y2="877.62" stroke="#000" stroke-width="1.3"/>
<rect x="483.30" y="887.80" width="14.00" height="101.80" fill="#000"/>
<line x1="511.50" y1="952.95" x2="511.50" y2="961.10" stroke="#000" stroke-width="1.3"/>
<line x1="507.00" y1="952.95" x2="516.00" y2="952.95" stroke="#000" stroke-width="1.3"/>
<rect x="504.85" y="961.10" width="13.30" height="28.50" fill="#3560aa" stroke="#24477f" stroke-width="0.7"/>
<text x="511.70" y="957.10" font-size="19.5" font-weight="bold" text-anchor="middle" fill="#000">***</text>
<text x="500.90" y="1007.83" font-size="12.3" font-weight="bold" text-anchor="middle" fill="#000">LDHA</text>
<line x1="545.90" y1="873.55" x2="545.90" y2="887.80" stroke="#000" stroke-width="1.3"/>
<line x1="541.40" y1="873.55" x2="550.40" y2="873.55" stroke="#000" stroke-width="1.3"/>
<rect x="538.90" y="887.80" width="14.00" height="101.80" fill="#000"/>
<line x1="567.60" y1="910.20" x2="567.60" y2="928.52" stroke="#000" stroke-width="1.3"/>
<line x1="563.10" y1="910.20" x2="572.10" y2="910.20" stroke="#000" stroke-width="1.3"/>
<rect x="560.95" y="928.52" width="13.30" height="61.08" fill="#3560aa" stroke="#24477f" stroke-width="0.7"/>
<text x="567.80" y="914.34" font-size="19.5" font-weight="bold" text-anchor="middle" fill="#000">*</text>
<text x="556.75" y="1007.83" font-size="12.3" font-weight="bold" text-anchor="middle" fill="#000">PDH</text>
<line x1="602.50" y1="878.64" x2="602.50" y2="887.80" stroke="#000" stroke-width="1.3"/>
<line x1="598.00" y1="878.64" x2="607.00" y2="878.64" stroke="#000" stroke-width="1.3"/>
<rect x="595.50" y="887.80" width="14.00" height="101.80" fill="#000"/>
<line x1="624.20" y1="938.70" x2="624.20" y2="945.83" stroke="#000" stroke-width="1.3"/>
<line x1="619.70" y1="938.70" x2="628.70" y2="938.70" stroke="#000" stroke-width="1.3"/>
<rect x="617.55" y="945.83" width="13.30" height="43.77" fill="#3560aa" stroke="#24477f" stroke-width="0.7"/>
<text x="624.40" y="942.85" font-size="19.5" font-weight="bold" text-anchor="middle" fill="#000">**</text>
<text x="613.35" y="1007.83" font-size="12.3" font-weight="bold" text-anchor="middle" fill="#000">PKM2</text>
<line x1="658.50" y1="879.66" x2="658.50" y2="887.80" stroke="#000" stroke-width="1.3"/>
<line x1="654.00" y1="879.66" x2="663.00" y2="879.66" stroke="#000" stroke-width="1.3"/>
<rect x="651.50" y="887.80" width="14.00" height="101.80" fill="#000"/>
<line x1="679.70" y1="935.65" x2="679.70" y2="944.81" stroke="#000" stroke-width="1.3"/>
<line x1="675.20" y1="935.65" x2="684.20" y2="935.65" stroke="#000" stroke-width="1.3"/>
<rect x="673.05" y="944.81" width="13.30" height="44.79" fill="#3560aa" stroke="#24477f" stroke-width="0.7"/>
<text x="679.90" y="939.79" font-size="19.5" font-weight="bold" text-anchor="middle" fill="#000">**</text>
<text x="669.10" y="1007.83" font-size="12.3" font-weight="bold" text-anchor="middle" fill="#000">G6PDH</text>
<line x1="715.00" y1="879.66" x2="715.00" y2="887.80" stroke="#000" stroke-width="1.3"/>
<line x1="710.50" y1="879.66" x2="719.50" y2="879.66" stroke="#000" stroke-width="1.3"/>
<rect x="708.00" y="887.80" width="14.00" height="101.80" fill="#000"/>
<line x1="736.30" y1="935.65" x2="736.30" y2="944.81" stroke="#000" stroke-width="1.3"/>
<line x1="731.80" y1="935.65" x2="740.80" y2="935.65" stroke="#000" stroke-width="1.3"/>
<rect x="729.65" y="944.81" width="13.30" height="44.79" fill="#3560aa" stroke="#24477f" stroke-width="0.7"/>
<text x="736.50" y="939.79" font-size="19.5" font-weight="bold" text-anchor="middle" fill="#000">**</text>
<text x="725.65" y="1007.83" font-size="12.3" font-weight="bold" text-anchor="middle" fill="#000">GAPDH</text>
<rect x="495.00" y="834.00" width="27.00" height="12.40" fill="#000"/>
<text x="526.30" y="845.27" font-size="13.8" font-weight="bold" text-anchor="start" fill="#000">Vehicle</text>
<rect x="593.60" y="834.20" width="24.60" height="12.00" fill="#3560aa" stroke="#24477f" stroke-width="0.7"/>
<text x="623.70" y="844.98" font-size="13" font-weight="bold" text-anchor="start" fill="#000">aMT 3% w/v</text>
<text x="420.27" y="909.40" font-size="16.3" font-weight="bold" text-anchor="middle" fill="#000" transform="rotate(-90 420.27 909.40)">ROI/total protein</text>
<text x="439.87" y="910.10" font-size="16.3" font-weight="bold" text-anchor="middle" fill="#000" transform="rotate(-90 439.87 910.10)">(fold change)</text>
<line x1="638.90" y1="1052.50" x2="638.90" y2="1159.80" stroke="#000" stroke-width="2"/>
<line x1="634.90" y1="1158.80" x2="638.90" y2="1158.80" stroke="#000" stroke-width="1.8"/>
<text x="634.50" y="1162.15" font-size="9.3" font-weight="bold" text-anchor="end" fill="#000">0.0</text>
<line x1="634.90" y1="1123.70" x2="638.90" y2="1123.70" stroke="#000" stroke-width="1.8"/>
<text x="634.50" y="1127.05" font-size="9.3" font-weight="bold" text-anchor="end" fill="#000">0.5</text>
<line x1="634.90" y1="1088.60" x2="638.90" y2="1088.60" stroke="#000" stroke-width="1.8"/>
<text x="634.50" y="1091.95" font-size="9.3" font-weight="bold" text-anchor="end" fill="#000">1.0</text>
<line x1="634.90" y1="1053.50" x2="638.90" y2="1053.50" stroke="#000" stroke-width="1.8"/>
<text x="634.50" y="1056.85" font-size="9.3" font-weight="bold" text-anchor="end" fill="#000">1.5</text>
<line x1="637.90" y1="1158.80" x2="738.80" y2="1158.80" stroke="#000" stroke-width="2"/>
<line x1="667.90" y1="1158.80" x2="667.90" y2="1161.80" stroke="#000" stroke-width="1.8"/>
<line x1="710.70" y1="1158.80" x2="710.70" y2="1161.80" stroke="#000" stroke-width="1.8"/>
<line x1="666.50" y1="1079.47" x2="666.50" y2="1088.60" stroke="#000" stroke-width="1.3"/>
<line x1="657.60" y1="1079.47" x2="674.20" y2="1079.47" stroke="#000" stroke-width="1.3"/>
<rect x="653.40" y="1088.60" width="29.70" height="70.20" fill="#000"/>
<line x1="710.40" y1="1109.66" x2="710.40" y2="1116.68" stroke="#000" stroke-width="1.3"/>
<line x1="703.70" y1="1109.66" x2="718.00" y2="1109.66" stroke="#000" stroke-width="1.3"/>
<rect x="696.70" y="1116.68" width="28.70" height="42.12" fill="#3560aa" stroke="#24477f" stroke-width="0.7"/>
<text x="710.80" y="1110.73" font-size="13" font-weight="bold" text-anchor="middle" fill="#000">*</text>
<text x="668.60" y="1172.29" font-size="9.7" font-weight="bold" text-anchor="middle" fill="#000">Vehicle</text>
<text x="716.50" y="1172.29" font-size="9.7" font-weight="bold" text-anchor="middle" fill="#000">aMT 3%w/v</text>
<text x="608.48" y="1100.90" font-size="13" font-weight="bold" text-anchor="middle" fill="#000" transform="rotate(-90 608.48 1100.90)">MCT4/total protein</text>
<text x="620.18" y="1103.50" font-size="13" font-weight="bold" text-anchor="middle" fill="#000" transform="rotate(-90 620.18 1103.50)">(fold change)</text>
<defs><filter id="b04" x="-50%" y="-50%" width="200%" height="200%"><feGaussianBlur stdDeviation="0.4"/></filter><filter id="b06" x="-50%" y="-50%" width="200%" height="200%"><feGaussianBlur stdDeviation="0.6"/></filter><filter id="b08" x="-50%" y="-50%" width="200%" height="200%"><feGaussianBlur stdDeviation="0.8"/></filter><filter id="b10" x="-50%" y="-50%" width="200%" height="200%"><feGaussianBlur stdDeviation="1.0"/></filter><filter id="b13" x="-50%" y="-50%" width="200%" height="200%"><feGaussianBlur stdDeviation="1.3"/></filter><filter id="b16" x="-50%" y="-50%" width="200%" height="200%"><feGaussianBlur stdDeviation="1.6"/></filter><filter id="b20" x="-50%" y="-50%" width="200%" height="200%"><feGaussianBlur stdDeviation="2.0"/></filter><filter id="b25" x="-50%" y="-50%" width="200%" height="200%"><feGaussianBlur stdDeviation="2.5"/></filter><filter id="nHEd" x="0" y="0" width="100%" height="100%" color-interpolation-filters="sRGB"><feTurbulence type="fractalNoise" baseFrequency="0.75" numOctaves="2" seed="3"/><feColorMatrix type="matrix" values="0 0 0 0 0.314 0 0 0 0 0.098 0 0 0 0 0.412 3.6 0 0 0 -1.5"/><feComposite in2="SourceGraphic" operator="in"/></filter><filter id="nHEp" x="0" y="0" width="100%" height="100%" color-interpolation-filters="sRGB"><feTurbulence type="fractalNoise" baseFrequency="0.22" numOctaves="2" seed="8"/><feColorMatrix type="matrix" values="0 0 0 0 0.922 0 0 0 0 0.431 0 0 0 0 0.765 0 3.2 0 0 -1.4"/><feComposite in2="SourceGraphic" operator="in"/></filter><filter id="nHEd2" x="0" y="0" width="100%" height="100%" color-interpolation-filters="sRGB"><feTurbulence type="fractalNoise" baseFrequency="0.65" numOctaves="2" seed="4"/><feColorMatrix type="matrix" values="0 0 0 0 0.235 0 0 0 0 0.059 0 0 0 0 0.333 3.8 0 0 0 -1.5"/><feComposite in2="SourceGraphic" operator="in"/></filter><filter id="nHEw" x="0" y="0" width="100%" height="100%" color-interpolation-filters="sRGB"><feTurbulence type="fractalNoise" baseFrequency="0.35" numOctaves="2" seed="5"/><feColorMatrix type="matrix" values="0 0 0 0 0.980 0 0 0 0 0.941 0 0 0 0 0.980 0 0 4.0 0 -2.3"/><feComposite in2="SourceGraphic" operator="in"/></filter><filter id="nKi" x="0" y="0" width="100%" height="100%" color-interpolation-filters="sRGB"><feTurbulence type="fractalNoise" baseFrequency="0.38" numOctaves="3" seed="4"/><feColorMatrix type="matrix" values="0 0 0 0 0.588 0 0 0 0 0.306 0 0 0 0 0.149 4.6 0 0 0 -2.1"/><feComposite in2="SourceGraphic" operator="in"/></filter><filter id="nKi2" x="0" y="0" width="100%" height="100%" color-interpolation-filters="sRGB"><feTurbulence type="fractalNoise" baseFrequency="0.33" numOctaves="3" seed="9"/><feColorMatrix type="matrix" values="0 0 0 0 0.569 0 0 0 0 0.282 0 0 0 0 0.137 4.5 0 0 0 -1.65"/><feComposite in2="SourceGraphic" operator="in"/></filter><filter id="nTr" x="0" y="0" width="100%" height="100%" color-interpolation-filters="sRGB"><feTurbulence type="fractalNoise" baseFrequency="0.4" numOctaves="2" seed="6"/><feColorMatrix type="matrix" values="0 0 0 0 0.980 0 0 0 0 0.922 0 0 0 0 0.961 4.0 0 0 0 -2.1"/><feComposite in2="SourceGraphic" operator="in"/></filter><filter id="nTrr" x="0" y="0" width="100%" height="100%" color-interpolation-filters="sRGB"><feTurbulence type="fractalNoise" baseFrequency="0.35" numOctaves="2" seed="7"/><feColorMatrix type="matrix" values="0 0 0 0 0.471 0 0 0 0 0.078 0 0 0 0 0.235 4.0 0 0 0 -1.7"/><feComposite in2="SourceGraphic" operator="in"/></filter><filter id="nTrr2" x="0" y="0" width="100%" height="100%" color-interpolation-filters="sRGB"><feTurbulence type="fractalNoise" baseFrequency="0.35" numOctaves="2" seed="17"/><feColorMatrix type="matrix" values="0 0 0 0 0.490 0 0 0 0 0.137 0 0 0 0 0.314 4.0 0 0 0 -1.7"/><feComposite in2="SourceGraphic" operator="in"/></filter><filter id="nTrb2" x="0" y="0" width="100%" height="100%" color-interpolation-filters="sRGB"><feTurbulence type="fractalNoise" baseFrequency="0.15" numOctaves="2" seed="18"/><feColorMatrix type="matrix" values="0 0 0 0 0.157 0 0 0 0 0.294 0 0 0 0 0.725 0 4.0 0 0 -2.0"/><feComposite in2="SourceGraphic" operator="in"/></filter><filter id="nCC" x="0" y="0" width="100%" height="100%" color-interpolation-filters="sRGB"><feTurbulence type="fractalNoise" baseFrequency="0.7" numOctaves="2" seed="12"/><feColorMatrix type="matrix" values="0 0 0 0 0.529 0 0 0 0 0.529 0 0 0 0 0.784 3.0 0 0 0 -1.3"/><feComposite in2="SourceGraphic" operator="in"/></filter><filter id="nCC2" x="0" y="0" width="100%" height="100%" color-interpolation-filters="sRGB"><feTurbulence type="fractalNoise" baseFrequency="0.7" numOctaves="2" seed="22"/><feColorMatrix type="matrix" values="0 0 0 0 0.588 0 0 0 0 0.580 0 0 0 0 0.765 3.0 0 0 0 -1.4"/><feComposite in2="SourceGraphic" operator="in"/></filter><filter id="nCCw" x="0" y="0" width="100%" height="100%" color-interpolation-filters="sRGB"><feTurbulence type="fractalNoise" baseFrequency="0.3" numOctaves="2" seed="13"/><feColorMatrix type="matrix" values="0 0 0 0 0.980 0 0 0 0 0.980 0 0 0 0 0.988 0 4.0 0 0 -2.0"/><feComposite in2="SourceGraphic" operator="in"/></filter><filter id="nCCbr" x="0" y="0" width="100%" height="100%" color-interpolation-filters="sRGB"><feTurbulence type="fractalNoise" baseFrequency="0.7" numOctaves="1" seed="14"/><feColorMatrix type="matrix" values="0 0 0 0 0.784 0 0 0 0 0.588 0 0 0 0 0.490 0 0 4.0 0 -2.3"/><feComposite in2="SourceGraphic" operator="in"/></filter><filter id="nWS" x="0" y="0" width="100%" height="100%" color-interpolation-filters="sRGB"><feTurbulence type="fractalNoise" baseFrequency="0.5" numOctaves="2" seed="21"/><feColorMatrix type="matrix" values="0 0 0 0 0.471 0 0 0 0 0.431 0 0 0 0 0.627 3.0 0 0 0 -1.5"/><feComposite in2="SourceGraphic" operator="in"/></filter><filter id="nMouse" x="0" y="0" width="100%" height="100%" color-interpolation-filters="sRGB"><feTurbulence type="fractalNoise" baseFrequency="0.08" numOctaves="3" seed="31"/><feColorMatrix type="matrix" values="0 0 0 0 0.118 0 0 0 0 0.118 0 0 0 0 0.118 3.0 0 0 0 -1.5"/><feComposite in2="SourceGraphic" operator="in"/></filter><filter id="nMouseL" x="0" y="0" width="100%" height="100%" color-interpolation-filters="sRGB"><feTurbulence type="fractalNoise" baseFrequency="0.1" numOctaves="3" seed="32"/><feColorMatrix type="matrix" values="0 0 0 0 0.588 0 0 0 0 0.588 0 0 0 0 0.588 0 3.0 0 0 -1.6"/><feComposite in2="SourceGraphic" operator="in"/></filter><filter id="nGel" x="0" y="0" width="100%" height="100%" color-interpolation-filters="sRGB"><feTurbulence type="fractalNoise" baseFrequency="0.5" numOctaves="1" seed="41"/><feColorMatrix type="matrix" values="0 0 0 0 1.000 0 0 0 0 1.000 0 0 0 0 1.000 0 0 3.0 0 -1.8"/><feComposite in2="SourceGraphic" operator="in"/></filter><filter id="nSecHE" x="0" y="0" width="100%" height="100%" color-interpolation-filters="sRGB"><feTurbulence type="fractalNoise" baseFrequency="0.7" numOctaves="2" seed="51"/><feColorMatrix type="matrix" values="0 0 0 0 0.980 0 0 0 0 0.922 0 0 0 0 0.980 3.5 0 0 0 -2.1"/><feComposite in2="SourceGraphic" operator="in"/></filter><filter id="nSecKi" x="0" y="0" width="100%" height="100%" color-interpolation-filters="sRGB"><feTurbulence type="fractalNoise" baseFrequency="0.6" numOctaves="2" seed="52"/><feColorMatrix type="matrix" values="0 0 0 0 0.961 0 0 0 0 0.941 0 0 0 0 0.941 3.5 0 0 0 -1.7"/><feComposite in2="SourceGraphic" operator="in"/></filter><filter id="nSecKi2" x="0" y="0" width="100%" height="100%" color-interpolation-filters="sRGB"><feTurbulence type="fractalNoise" baseFrequency="0.6" numOctaves="2" seed="53"/><feColorMatrix type="matrix" values="0 0 0 0 0.549 0 0 0 0 0.275 0 0 0 0 0.137 0 3.5 0 0 -1.8"/><feComposite in2="SourceGraphic" operator="in"/></filter><filter id="nSecJ" x="0" y="0" width="100%" height="100%" color-interpolation-filters="sRGB"><feTurbulence type="fractalNoise" baseFrequency="0.8" numOctaves="2" seed="54"/><feColorMatrix type="matrix" values="0 0 0 0 0.647 0 0 0 0 0.647 0 0 0 0 0.784 3.0 0 0 0 -1.4"/><feComposite in2="SourceGraphic" operator="in"/></filter><linearGradient id="cbar" x1="0" y1="0" x2="0" y2="1"><stop offset="0" stop-color="#e8221e"/><stop offset="0.1" stop-color="#f06018"/><stop offset="0.22" stop-color="#f0c020"/><stop offset="0.3" stop-color="#b8e020"/><stop offset="0.45" stop-color="#30d040"/><stop offset="0.62" stop-color="#20d8a0"/><stop offset="0.72" stop-color="#30c8f0"/><stop offset="0.85" stop-color="#2040e8"/><stop offset="1" stop-color="#7a18c8"/></linearGradient><radialGradient id="bl_hot" cx="0.5" cy="0.5" r="0.5"><stop offset="0" stop-color="#f03010"/><stop offset="0.25" stop-color="#f08010"/><stop offset="0.45" stop-color="#d0e020"/><stop offset="0.62" stop-color="#40d840"/><stop offset="0.78" stop-color="#20c8e0"/><stop offset="0.9" stop-color="#2030f0"/><stop offset="1" stop-color="#6010e0"/></radialGradient><radialGradient id="bl_yel" cx="0.5" cy="0.5" r="0.5"><stop offset="0" stop-color="#e8f020"/><stop offset="0.3" stop-color="#c8e828"/><stop offset="0.55" stop-color="#40d850"/><stop offset="0.75" stop-color="#20c8e8"/><stop offset="0.9" stop-color="#2030f0"/><stop offset="1" stop-color="#5010e0"/></radialGradient><radialGradient id="bl_big" cx="0.5" cy="0.5" r="0.5"><stop offset="0" stop-color="#f06010"/><stop offset="0.3" stop-color="#f0a018"/><stop offset="0.5" stop-color="#b0e030"/><stop offset="0.68" stop-color="#30d860"/><stop offset="0.82" stop-color="#20b8f0"/><stop offset="0.93" stop-color="#2030f0"/><stop offset="1" stop-color="#5010e0"/></radialGradient><radialGradient id="bl_ring" cx="0.5" cy="0.5" r="0.5"><stop offset="0" stop-color="#f0f0ff"/><stop offset="0.12" stop-color="#5030f0"/><stop offset="0.3" stop-color="#2050f0"/><stop offset="0.5" stop-color="#20d0e0"/><stop offset="0.7" stop-color="#20c0f0"/><stop offset="0.88" stop-color="#2030f0"/><stop offset="1" stop-color="#5010e0"/></radialGradient><radialGradient id="bl_g" cx="0.5" cy="0.5" r="0.5"><stop offset="0" stop-color="#c0e030"/><stop offset="0.35" stop-color="#40d850"/><stop offset="0.6" stop-color="#20c8e0"/><stop offset="0.85" stop-color="#2030f0"/><stop offset="1" stop-color="#5010e0"/></radialGradient><radialGradient id="bl_c" cx="0.5" cy="0.5" r="0.5"><stop offset="0" stop-color="#30d0a0"/><stop offset="0.4" stop-color="#20c0e8"/><stop offset="0.75" stop-color="#2030f0"/><stop offset="1" stop-color="#5010e0"/></radialGradient><radialGradient id="tu_beige" cx="0.4" cy="0.38" r="0.65"><stop offset="0" stop-color="#e6d4ac"/><stop offset="0.6" stop-color="#cdb084"/><stop offset="1" stop-color="#a4845c"/></radialGradient><radialGradient id="tu_beige2" cx="0.4" cy="0.38" r="0.65"><stop offset="0" stop-color="#e4cca4"/><stop offset="0.6" stop-color="#c8a67e"/><stop offset="1" stop-color="#a07a58"/></radialGradient><radialGradient id="tu_yel" cx="0.4" cy="0.38" r="0.65"><stop offset="0" stop-color="#eee0b4"/><stop offset="0.6" stop-color="#d8c294"/><stop offset="1" stop-color="#b09468"/></radialGradient><radialGradient id="tu_brn" cx="0.4" cy="0.38" r="0.65"><stop offset="0" stop-color="#a88060"/><stop offset="0.6" stop-color="#805840"/><stop offset="1" stop-color="#5a3828"/></radialGradient><radialGradient id="tu_pink" cx="0.4" cy="0.38" r="0.65"><stop offset="0" stop-color="#dcb890"/><stop offset="0.6" stop-color="#c08a68"/><stop offset="1" stop-color="#905840"/></radialGradient><radialGradient id="tu_red" cx="0.4" cy="0.38" r="0.65"><stop offset="0" stop-color="#c06060"/><stop offset="0.6" stop-color="#903838"/><stop offset="1" stop-color="#682020"/></radialGradient><radialGradient id="tu_dark" cx="0.4" cy="0.38" r="0.65"><stop offset="0" stop-color="#805050"/><stop offset="0.6" stop-color="#502828"/><stop offset="1" stop-color="#301010"/></radialGradient><radialGradient id="tu_big" cx="0.4" cy="0.38" r="0.65"><stop offset="0" stop-color="#d8b898"/><stop offset="0.6" stop-color="#a8806a"/><stop offset="1" stop-color="#704838"/></radialGradient><radialGradient id="mbody" cx="0.5" cy="0.5" r="0.55"><stop offset="0" stop-color="#e6e6e6"/><stop offset="0.75" stop-color="#d8d8d8"/><stop offset="1" stop-color="#b0b0b0"/></radialGradient></defs>
<text x="626.20" y="13.73" font-size="11.2" text-anchor="middle" fill="#000">5 days</text>
<text x="626.20" y="26.83" font-size="11.2" text-anchor="middle" fill="#000">before tx</text>
<text x="675.30" y="13.73" font-size="11.2" text-anchor="middle" fill="#000">2 days</text>
<text x="675.30" y="26.83" font-size="11.2" text-anchor="middle" fill="#000">after tx</text>
<text x="724.40" y="13.73" font-size="11.2" text-anchor="middle" fill="#000">9 days</text>
<text x="724.40" y="26.83" font-size="11.2" text-anchor="middle" fill="#000">after tx</text>
<text x="769.70" y="13.73" font-size="11.2" text-anchor="middle" fill="#000">15 days</text>
<text x="769.70" y="26.83" font-size="11.2" text-anchor="middle" fill="#000">after tx</text>
<text x="598.04" y="83.00" font-size="14" font-weight="bold" text-anchor="middle" fill="#000" transform="rotate(-90 598.04 83.00)">Vehicle</text>
<text x="598.04" y="176.00" font-size="14" font-weight="bold" text-anchor="middle" fill="#000" transform="rotate(-90 598.04 176.00)">aMT 3%</text>
<clipPath id="mc0"><rect x="604.5" y="29.8" width="45.9" height="98.0"/></clipPath>
<g clip-path="url(#mc0)">
<rect x="604.50" y="29.80" width="45.90" height="98.00" fill="#454545"/>
<rect x="604.50" y="29.80" width="45.90" height="98.00" fill="#000" filter="url(#nMouse)"/>
<rect x="605.00" y="29.80" width="3.50" height="98.00" fill="#2c2c2c" filter="url(#b06)"/>
<rect x="645.40" y="29.80" width="3.00" height="98.00" fill="#333" filter="url(#b06)"/>
<rect x="615.98" y="29.80" width="3.00" height="9.00" fill="#222"/>
<rect x="632.96" y="29.80" width="3.00" height="9.00" fill="#222"/>
<path d="M620.5,38.3 Q624.4,35.8 629.7,35.1 Q634.9,34.5 637.5,38.9 Q640.1,43.2 639.5,48.2 Q638.8,53.2 640.1,57.6 Q641.4,61.9 645.1,56.4 Q648.8,50.9 649.4,50.2 Q649.9,49.5 650.3,52.0 Q650.6,54.5 646.8,60.3 Q643.0,66.1 643.1,76.5 Q643.2,86.9 642.4,96.3 Q641.5,105.7 640.6,110.1 Q639.6,114.6 644.7,115.1 Q649.8,115.5 650.0,117.0 Q650.3,118.5 644.9,120.0 Q639.6,121.4 637.7,125.6 Q635.7,129.8 626.8,129.8 Q617.9,129.8 612.0,128.3 Q606.0,126.8 605.6,125.3 Q605.2,123.9 607.6,119.1 Q610.0,114.3 609.7,106.8 Q609.5,99.4 609.5,90.0 Q609.5,80.7 610.5,72.6 Q611.5,64.5 612.2,57.0 Q612.9,49.5 614.7,45.1 Q616.5,40.8 620.5,38.3 Z" fill="#cdcdcd" filter="url(#b08)"/>
<ellipse cx="626.5" cy="83.7" rx="11.5" ry="29.4" fill="#e2e2e2" filter="url(#b25)"/>
<ellipse cx="627.0" cy="43.5" rx="8.0" ry="6.9" fill="#d2d2d2" filter="url(#b20)"/>
<ellipse cx="620.2" cy="44.5" rx="2.2" ry="3" fill="#6a6a6a" filter="url(#b08)"/>
<path d="M620.5,38.3 Q624.4,35.8 629.7,35.1 Q634.9,34.5 637.5,38.9 Q640.1,43.2 639.5,48.2 Q638.8,53.2 640.1,57.6 Q641.4,61.9 645.1,56.4 Q648.8,50.9 649.4,50.2 Q649.9,49.5 650.3,52.0 Q650.6,54.5 646.8,60.3 Q643.0,66.1 643.1,76.5 Q643.2,86.9 642.4,96.3 Q641.5,105.7 640.6,110.1 Q639.6,114.6 644.7,115.1 Q649.8,115.5 650.0,117.0 Q650.3,118.5 644.9,120.0 Q639.6,121.4 637.7,125.6 Q635.7,129.8 626.8,129.8 Q617.9,129.8 612.0,128.3 Q606.0,126.8 605.6,125.3 Q605.2,123.9 607.6,119.1 Q610.0,114.3 609.7,106.8 Q609.5,99.4 609.5,90.0 Q609.5,80.7 610.5,72.6 Q611.5,64.5 612.2,57.0 Q612.9,49.5 614.7,45.1 Q616.5,40.8 620.5,38.3 Z" fill="#000" filter="url(#nMouseL)" opacity="0.5"/>
<path d="M637.3,96.9 Q636.9,99.5 635.3,101.6 Q633.6,103.8 631.1,104.5 Q628.5,105.1 626.0,104.4 Q623.4,103.7 621.8,101.6 Q620.1,99.5 619.2,96.9 Q618.2,94.3 619.1,91.7 Q620.0,89.0 621.9,87.4 Q623.9,85.8 626.2,84.8 Q628.5,83.9 630.8,84.9 Q633.0,85.9 635.3,87.3 Q637.6,88.7 637.7,91.5 Q637.7,94.3 637.3,96.9 Z" fill="url(#bl_hot)"/>
</g>
<clipPath id="mc1"><rect x="651.8" y="29.8" width="45.7" height="98.0"/></clipPath>
<g clip-path="url(#mc1)">
<rect x="651.80" y="29.80" width="45.70" height="98.00" fill="#454545"/>
<rect x="651.80" y="29.80" width="45.70" height="98.00" fill="#000" filter="url(#nMouse)"/>
<rect x="652.30" y="29.80" width="3.50" height="98.00" fill="#2c2c2c" filter="url(#b06)"/>
<rect x="692.50" y="29.80" width="3.00" height="98.00" fill="#333" filter="url(#b06)"/>
<rect x="663.22" y="29.80" width="3.00" height="9.00" fill="#222"/>
<rect x="680.13" y="29.80" width="3.00" height="9.00" fill="#222"/>
<path d="M666.2,38.3 Q670.0,35.8 675.0,35.1 Q680.1,34.5 682.6,38.9 Q685.1,43.2 684.5,48.2 Q683.9,53.2 685.1,57.6 Q686.4,61.9 689.9,56.4 Q693.5,50.9 694.0,50.2 Q694.5,49.5 694.9,52.0 Q695.2,54.5 691.5,60.3 Q687.9,66.1 688.0,76.5 Q688.1,86.9 687.3,96.3 Q686.5,105.7 685.5,110.1 Q684.6,114.6 689.5,115.1 Q694.4,115.5 694.6,117.0 Q694.9,118.5 689.7,120.0 Q684.6,121.4 682.7,125.6 Q680.9,129.8 672.3,129.8 Q663.7,129.8 658.0,128.3 Q652.3,126.8 651.9,125.3 Q651.5,123.9 653.8,119.1 Q656.1,114.3 655.9,106.8 Q655.7,99.4 655.7,90.0 Q655.7,80.7 656.6,72.6 Q657.5,64.5 658.2,57.0 Q658.9,49.5 660.7,45.1 Q662.4,40.8 666.2,38.3 Z" fill="#cdcdcd" filter="url(#b08)"/>
<ellipse cx="672.0" cy="83.7" rx="11.1" ry="29.4" fill="#e2e2e2" filter="url(#b25)"/>
<ellipse cx="672.5" cy="43.5" rx="7.7" ry="6.9" fill="#d2d2d2" filter="url(#b20)"/>
<ellipse cx="665.9" cy="44.5" rx="2.2" ry="3" fill="#6a6a6a" filter="url(#b08)"/>
<path d="M666.2,38.3 Q670.0,35.8 675.0,35.1 Q680.1,34.5 682.6,38.9 Q685.1,43.2 684.5,48.2 Q683.9,53.2 685.1,57.6 Q686.4,61.9 689.9,56.4 Q693.5,50.9 694.0,50.2 Q694.5,49.5 694.9,52.0 Q695.2,54.5 691.5,60.3 Q687.9,66.1 688.0,76.5 Q688.1,86.9 687.3,96.3 Q686.5,105.7 685.5,110.1 Q684.6,114.6 689.5,115.1 Q694.4,115.5 694.6,117.0 Q694.9,118.5 689.7,120.0 Q684.6,121.4 682.7,125.6 Q680.9,129.8 672.3,129.8 Q663.7,129.8 658.0,128.3 Q652.3,126.8 651.9,125.3 Q651.5,123.9 653.8,119.1 Q656.1,114.3 655.9,106.8 Q655.7,99.4 655.7,90.0 Q655.7,80.7 656.6,72.6 Q657.5,64.5 658.2,57.0 Q658.9,49.5 660.7,45.1 Q662.4,40.8 666.2,38.3 Z" fill="#000" filter="url(#nMouseL)" opacity="0.5"/>
<path d="M685.1,93.0 Q684.1,95.5 682.6,97.8 Q681.1,100.2 678.3,100.9 Q675.5,101.6 672.9,100.5 Q670.3,99.5 668.2,97.7 Q666.2,95.9 665.8,93.2 Q665.5,90.6 666.1,88.1 Q666.8,85.7 668.6,83.8 Q670.4,82.0 673.0,81.0 Q675.5,80.0 678.0,81.0 Q680.5,82.1 682.9,83.6 Q685.3,85.1 685.7,87.8 Q686.1,90.6 685.1,93.0 Z" fill="url(#bl_yel)"/>
</g>
<clipPath id="mc2"><rect x="699.0" y="29.8" width="43.2" height="98.0"/></clipPath>
<g clip-path="url(#mc2)">
<rect x="699.00" y="29.80" width="43.20" height="98.00" fill="#454545"/>
<rect x="699.00" y="29.80" width="43.20" height="98.00" fill="#000" filter="url(#nMouse)"/>
<rect x="699.50" y="29.80" width="3.50" height="98.00" fill="#2c2c2c" filter="url(#b06)"/>
<rect x="737.20" y="29.80" width="3.00" height="98.00" fill="#333" filter="url(#b06)"/>
<rect x="709.80" y="29.80" width="3.00" height="9.00" fill="#222"/>
<rect x="725.78" y="29.80" width="3.00" height="9.00" fill="#222"/>
<path d="M710.9,38.3 Q714.9,35.8 720.2,35.1 Q725.5,34.5 728.1,38.9 Q730.8,43.2 730.1,48.2 Q729.5,53.2 730.8,57.6 Q732.1,61.9 735.9,56.4 Q739.6,50.9 740.1,50.2 Q740.7,49.5 741.1,52.0 Q741.4,54.5 737.5,60.3 Q733.7,66.1 733.8,76.5 Q733.9,86.9 733.1,96.3 Q732.2,105.7 731.2,110.1 Q730.3,114.6 735.4,115.1 Q740.6,115.5 740.8,117.0 Q741.1,118.5 735.7,120.0 Q730.3,121.4 728.3,125.6 Q726.3,129.8 717.3,129.8 Q708.3,129.8 702.3,128.3 Q696.3,126.8 695.8,125.3 Q695.4,123.9 697.8,119.1 Q700.3,114.3 700.0,106.8 Q699.8,99.4 699.8,90.0 Q699.8,80.7 700.8,72.6 Q701.8,64.5 702.5,57.0 Q703.3,49.5 705.1,45.1 Q706.9,40.8 710.9,38.3 Z" fill="#cdcdcd" filter="url(#b08)"/>
<ellipse cx="717.0" cy="83.7" rx="11.7" ry="29.4" fill="#e2e2e2" filter="url(#b25)"/>
<ellipse cx="717.5" cy="43.5" rx="8.1" ry="6.9" fill="#d2d2d2" filter="url(#b20)"/>
<ellipse cx="710.6" cy="44.5" rx="2.2" ry="3" fill="#6a6a6a" filter="url(#b08)"/>
<path d="M710.9,38.3 Q714.9,35.8 720.2,35.1 Q725.5,34.5 728.1,38.9 Q730.8,43.2 730.1,48.2 Q729.5,53.2 730.8,57.6 Q732.1,61.9 735.9,56.4 Q739.6,50.9 740.1,50.2 Q740.7,49.5 741.1,52.0 Q741.4,54.5 737.5,60.3 Q733.7,66.1 733.8,76.5 Q733.9,86.9 733.1,96.3 Q732.2,105.7 731.2,110.1 Q730.3,114.6 735.4,115.1 Q740.6,115.5 740.8,117.0 Q741.1,118.5 735.7,120.0 Q730.3,121.4 728.3,125.6 Q726.3,129.8 717.3,129.8 Q708.3,129.8 702.3,128.3 Q696.3,126.8 695.8,125.3 Q695.4,123.9 697.8,119.1 Q700.3,114.3 700.0,106.8 Q699.8,99.4 699.8,90.0 Q699.8,80.7 700.8,72.6 Q701.8,64.5 702.5,57.0 Q703.3,49.5 705.1,45.1 Q706.9,40.8 710.9,38.3 Z" fill="#000" filter="url(#nMouseL)" opacity="0.5"/>
<path d="M730.6,97.5 Q730.1,101.5 727.0,104.0 Q723.9,106.5 720.3,108.1 Q716.7,109.8 712.8,108.6 Q709.0,107.4 706.4,104.3 Q703.8,101.3 702.5,97.4 Q701.2,93.5 702.3,89.5 Q703.4,85.5 706.5,83.2 Q709.7,80.8 713.2,79.2 Q716.7,77.6 720.6,78.6 Q724.4,79.6 727.2,82.6 Q729.9,85.6 730.5,89.5 Q731.0,93.5 730.6,97.5 Z" fill="url(#bl_big)"/>
</g>
<clipPath id="mc3"><rect x="743.4" y="29.8" width="43.4" height="98.0"/></clipPath>
<g clip-path="url(#mc3)">
<rect x="743.40" y="29.80" width="43.40" height="98.00" fill="#454545"/>
<rect x="743.40" y="29.80" width="43.40" height="98.00" fill="#000" filter="url(#nMouse)"/>
<rect x="743.90" y="29.80" width="3.50" height="98.00" fill="#2c2c2c" filter="url(#b06)"/>
<rect x="781.80" y="29.80" width="3.00" height="98.00" fill="#333" filter="url(#b06)"/>
<rect x="754.25" y="29.80" width="3.00" height="9.00" fill="#222"/>
<rect x="770.31" y="29.80" width="3.00" height="9.00" fill="#222"/>
<path d="M754.2,38.3 Q758.3,35.8 763.8,35.1 Q769.3,34.5 772.0,38.9 Q774.7,43.2 774.0,48.2 Q773.4,53.2 774.7,57.6 Q776.1,61.9 779.9,56.4 Q783.8,50.9 784.4,50.2 Q784.9,49.5 785.3,52.0 Q785.7,54.5 781.7,60.3 Q777.7,66.1 777.8,76.5 Q778.0,86.9 777.1,96.3 Q776.2,105.7 775.2,110.1 Q774.2,114.6 779.5,115.1 Q784.8,115.5 785.0,117.0 Q785.3,118.5 779.7,120.0 Q774.2,121.4 772.1,125.6 Q770.1,129.8 760.8,129.8 Q751.5,129.8 745.3,128.3 Q739.1,126.8 738.7,125.3 Q738.2,123.9 740.7,119.1 Q743.2,114.3 743.0,106.8 Q742.8,99.4 742.8,90.0 Q742.8,80.7 743.8,72.6 Q744.8,64.5 745.6,57.0 Q746.3,49.5 748.2,45.1 Q750.1,40.8 754.2,38.3 Z" fill="#cdcdcd" filter="url(#b08)"/>
<ellipse cx="760.5" cy="83.7" rx="12.0" ry="29.4" fill="#e2e2e2" filter="url(#b25)"/>
<ellipse cx="761.0" cy="43.5" rx="8.3" ry="6.9" fill="#d2d2d2" filter="url(#b20)"/>
<ellipse cx="753.9" cy="44.5" rx="2.2" ry="3" fill="#6a6a6a" filter="url(#b08)"/>
<path d="M754.2,38.3 Q758.3,35.8 763.8,35.1 Q769.3,34.5 772.0,38.9 Q774.7,43.2 774.0,48.2 Q773.4,53.2 774.7,57.6 Q776.1,61.9 779.9,56.4 Q783.8,50.9 784.4,50.2 Q784.9,49.5 785.3,52.0 Q785.7,54.5 781.7,60.3 Q777.7,66.1 777.8,76.5 Q778.0,86.9 777.1,96.3 Q776.2,105.7 775.2,110.1 Q774.2,114.6 779.5,115.1 Q784.8,115.5 785.0,117.0 Q785.3,118.5 779.7,120.0 Q774.2,121.4 772.1,125.6 Q770.1,129.8 760.8,129.8 Q751.5,129.8 745.3,128.3 Q739.1,126.8 738.7,125.3 Q738.2,123.9 740.7,119.1 Q743.2,114.3 743.0,106.8 Q742.8,99.4 742.8,90.0 Q742.8,80.7 743.8,72.6 Q744.8,64.5 745.6,57.0 Q746.3,49.5 748.2,45.1 Q750.1,40.8 754.2,38.3 Z" fill="#000" filter="url(#nMouseL)" opacity="0.5"/>
<path d="M774.6,96.3 Q773.1,99.4 770.7,101.9 Q768.3,104.4 764.8,105.3 Q761.2,106.2 757.9,104.9 Q754.6,103.5 752.3,101.3 Q750.1,99.0 748.6,96.1 Q747.2,93.2 748.6,90.3 Q750.0,87.3 752.2,85.0 Q754.4,82.6 757.8,81.2 Q761.2,79.9 764.9,80.8 Q768.5,81.7 770.5,84.5 Q772.4,87.3 774.2,90.3 Q776.1,93.2 774.6,96.3 Z" fill="url(#bl_ring)"/>
</g>
<clipPath id="mc4"><rect x="604.5" y="129.8" width="41.5" height="98.2"/></clipPath>
<g clip-path="url(#mc4)">
<rect x="604.50" y="129.80" width="41.50" height="98.20" fill="#454545"/>
<rect x="604.50" y="129.80" width="41.50" height="98.20" fill="#000" filter="url(#nMouse)"/>
<rect x="605.00" y="129.80" width="3.50" height="98.20" fill="#2c2c2c" filter="url(#b06)"/>
<rect x="641.00" y="129.80" width="3.00" height="98.20" fill="#333" filter="url(#b06)"/>
<rect x="614.88" y="129.80" width="3.00" height="9.00" fill="#222"/>
<rect x="630.23" y="129.80" width="3.00" height="9.00" fill="#222"/>
<path d="M615.2,138.3 Q619.3,135.8 624.8,135.2 Q630.3,134.5 633.0,138.9 Q635.7,143.3 635.0,148.3 Q634.4,153.3 635.7,157.6 Q637.1,162.0 640.9,156.5 Q644.8,150.9 645.4,150.2 Q645.9,149.5 646.3,152.0 Q646.7,154.5 642.7,160.3 Q638.7,166.1 638.8,176.6 Q639.0,187.1 638.1,196.4 Q637.2,205.8 636.2,210.3 Q635.2,214.7 640.5,215.2 Q645.8,215.7 646.0,217.2 Q646.3,218.7 640.7,220.1 Q635.2,221.6 633.1,225.8 Q631.1,230.0 621.8,230.0 Q612.5,230.0 606.3,228.5 Q600.1,227.0 599.7,225.5 Q599.2,224.1 601.7,219.3 Q604.2,214.4 604.0,207.0 Q603.8,199.5 603.8,190.1 Q603.8,180.8 604.8,172.7 Q605.8,164.6 606.6,157.1 Q607.3,149.5 609.2,145.2 Q611.1,140.8 615.2,138.3 Z" fill="#cdcdcd" filter="url(#b08)"/>
<ellipse cx="621.5" cy="183.8" rx="12.0" ry="29.5" fill="#e2e2e2" filter="url(#b25)"/>
<ellipse cx="622.0" cy="143.5" rx="8.3" ry="6.9" fill="#d2d2d2" filter="url(#b20)"/>
<ellipse cx="614.9" cy="144.5" rx="2.2" ry="3" fill="#6a6a6a" filter="url(#b08)"/>
<path d="M615.2,138.3 Q619.3,135.8 624.8,135.2 Q630.3,134.5 633.0,138.9 Q635.7,143.3 635.0,148.3 Q634.4,153.3 635.7,157.6 Q637.1,162.0 640.9,156.5 Q644.8,150.9 645.4,150.2 Q645.9,149.5 646.3,152.0 Q646.7,154.5 642.7,160.3 Q638.7,166.1 638.8,176.6 Q639.0,187.1 638.1,196.4 Q637.2,205.8 636.2,210.3 Q635.2,214.7 640.5,215.2 Q645.8,215.7 646.0,217.2 Q646.3,218.7 640.7,220.1 Q635.2,221.6 633.1,225.8 Q631.1,230.0 621.8,230.0 Q612.5,230.0 606.3,228.5 Q600.1,227.0 599.7,225.5 Q599.2,224.1 601.7,219.3 Q604.2,214.4 604.0,207.0 Q603.8,199.5 603.8,190.1 Q603.8,180.8 604.8,172.7 Q605.8,164.6 606.6,157.1 Q607.3,149.5 609.2,145.2 Q611.1,140.8 615.2,138.3 Z" fill="#000" filter="url(#nMouseL)" opacity="0.5"/>
<path d="M626.2,198.0 Q625.4,200.4 623.6,202.0 Q621.8,203.6 619.4,203.9 Q617.0,204.1 614.8,203.6 Q612.5,203.1 610.6,201.7 Q608.8,200.3 608.1,198.0 Q607.3,195.7 608.5,193.7 Q609.6,191.6 611.1,190.1 Q612.6,188.5 614.8,187.4 Q617.0,186.3 619.2,187.4 Q621.3,188.5 623.2,189.9 Q625.2,191.2 626.0,193.4 Q626.9,195.7 626.2,198.0 Z" fill="url(#bl_hot)"/>
</g>
<clipPath id="mc5"><rect x="649.3" y="129.8" width="42.9" height="98.2"/></clipPath>
<g clip-path="url(#mc5)">
<rect x="649.30" y="129.80" width="42.90" height="98.20" fill="#454545"/>
<rect x="649.30" y="129.80" width="42.90" height="98.20" fill="#000" filter="url(#nMouse)"/>
<rect x="649.80" y="129.80" width="3.50" height="98.20" fill="#2c2c2c" filter="url(#b06)"/>
<rect x="687.20" y="129.80" width="3.00" height="98.20" fill="#333" filter="url(#b06)"/>
<rect x="660.02" y="129.80" width="3.00" height="9.00" fill="#222"/>
<rect x="675.90" y="129.80" width="3.00" height="9.00" fill="#222"/>
<path d="M661.5,138.3 Q665.8,135.8 671.4,135.2 Q677.0,134.5 679.8,138.9 Q682.6,143.3 681.9,148.3 Q681.2,153.3 682.6,157.6 Q684.1,162.0 688.0,156.5 Q692.0,150.9 692.6,150.2 Q693.2,149.5 693.5,152.0 Q693.9,154.5 689.8,160.3 Q685.7,166.1 685.9,176.6 Q686.0,187.1 685.1,196.4 Q684.2,205.8 683.1,210.3 Q682.1,214.7 687.5,215.2 Q693.0,215.7 693.3,217.2 Q693.5,218.7 687.8,220.1 Q682.1,221.6 680.0,225.8 Q677.9,230.0 668.3,230.0 Q658.7,230.0 652.4,228.5 Q646.0,227.0 645.5,225.5 Q645.1,224.1 647.6,219.3 Q650.2,214.4 650.0,207.0 Q649.8,199.5 649.8,190.1 Q649.8,180.8 650.8,172.7 Q651.8,164.6 652.6,157.1 Q653.4,149.5 655.3,145.2 Q657.3,140.8 661.5,138.3 Z" fill="#cdcdcd" filter="url(#b08)"/>
<ellipse cx="668.0" cy="183.8" rx="12.4" ry="29.5" fill="#e2e2e2" filter="url(#b25)"/>
<ellipse cx="668.5" cy="143.5" rx="8.6" ry="6.9" fill="#d2d2d2" filter="url(#b20)"/>
<ellipse cx="661.2" cy="144.5" rx="2.2" ry="3" fill="#6a6a6a" filter="url(#b08)"/>
<path d="M661.5,138.3 Q665.8,135.8 671.4,135.2 Q677.0,134.5 679.8,138.9 Q682.6,143.3 681.9,148.3 Q681.2,153.3 682.6,157.6 Q684.1,162.0 688.0,156.5 Q692.0,150.9 692.6,150.2 Q693.2,149.5 693.5,152.0 Q693.9,154.5 689.8,160.3 Q685.7,166.1 685.9,176.6 Q686.0,187.1 685.1,196.4 Q684.2,205.8 683.1,210.3 Q682.1,214.7 687.5,215.2 Q693.0,215.7 693.3,217.2 Q693.5,218.7 687.8,220.1 Q682.1,221.6 680.0,225.8 Q677.9,230.0 668.3,230.0 Q658.7,230.0 652.4,228.5 Q646.0,227.0 645.5,225.5 Q645.1,224.1 647.6,219.3 Q650.2,214.4 650.0,207.0 Q649.8,199.5 649.8,190.1 Q649.8,180.8 650.8,172.7 Q651.8,164.6 652.6,157.1 Q653.4,149.5 655.3,145.2 Q657.3,140.8 661.5,138.3 Z" fill="#000" filter="url(#nMouseL)" opacity="0.5"/>
<path d="M667.5,197.8 Q666.6,199.8 665.2,201.6 Q663.8,203.4 661.6,204.1 Q659.4,204.8 657.3,203.8 Q655.3,202.8 653.5,201.5 Q651.7,200.1 651.4,197.9 Q651.1,195.7 651.8,193.7 Q652.4,191.7 653.8,190.1 Q655.3,188.5 657.3,187.7 Q659.4,186.9 661.4,187.8 Q663.4,188.8 665.2,190.0 Q666.9,191.3 667.7,193.5 Q668.4,195.7 667.5,197.8 Z" fill="url(#bl_g)"/>
</g>
<clipPath id="mc6"><rect x="694.2" y="129.8" width="44.8" height="98.2"/></clipPath>
<g clip-path="url(#mc6)">
<rect x="694.20" y="129.80" width="44.80" height="98.20" fill="#454545"/>
<rect x="694.20" y="129.80" width="44.80" height="98.20" fill="#000" filter="url(#nMouse)"/>
<rect x="694.70" y="129.80" width="3.50" height="98.20" fill="#2c2c2c" filter="url(#b06)"/>
<rect x="734.00" y="129.80" width="3.00" height="98.20" fill="#333" filter="url(#b06)"/>
<rect x="705.40" y="129.80" width="3.00" height="9.00" fill="#222"/>
<rect x="721.98" y="129.80" width="3.00" height="9.00" fill="#222"/>
<path d="M706.2,138.3 Q710.3,135.8 715.8,135.2 Q721.3,134.5 724.0,138.9 Q726.7,143.3 726.0,148.3 Q725.4,153.3 726.7,157.6 Q728.1,162.0 731.9,156.5 Q735.8,150.9 736.4,150.2 Q736.9,149.5 737.3,152.0 Q737.7,154.5 733.7,160.3 Q729.7,166.1 729.8,176.6 Q730.0,187.1 729.1,196.4 Q728.2,205.8 727.2,210.3 Q726.2,214.7 731.5,215.2 Q736.8,215.7 737.0,217.2 Q737.3,218.7 731.7,220.1 Q726.2,221.6 724.1,225.8 Q722.1,230.0 712.8,230.0 Q703.5,230.0 697.3,228.5 Q691.1,227.0 690.7,225.5 Q690.2,224.1 692.7,219.3 Q695.2,214.4 695.0,207.0 Q694.8,199.5 694.8,190.1 Q694.8,180.8 695.8,172.7 Q696.8,164.6 697.6,157.1 Q698.3,149.5 700.2,145.2 Q702.1,140.8 706.2,138.3 Z" fill="#cdcdcd" filter="url(#b08)"/>
<ellipse cx="712.5" cy="183.8" rx="12.0" ry="29.5" fill="#e2e2e2" filter="url(#b25)"/>
<ellipse cx="713.0" cy="143.5" rx="8.3" ry="6.9" fill="#d2d2d2" filter="url(#b20)"/>
<ellipse cx="705.9" cy="144.5" rx="2.2" ry="3" fill="#6a6a6a" filter="url(#b08)"/>
<path d="M706.2,138.3 Q710.3,135.8 715.8,135.2 Q721.3,134.5 724.0,138.9 Q726.7,143.3 726.0,148.3 Q725.4,153.3 726.7,157.6 Q728.1,162.0 731.9,156.5 Q735.8,150.9 736.4,150.2 Q736.9,149.5 737.3,152.0 Q737.7,154.5 733.7,160.3 Q729.7,166.1 729.8,176.6 Q730.0,187.1 729.1,196.4 Q728.2,205.8 727.2,210.3 Q726.2,214.7 731.5,215.2 Q736.8,215.7 737.0,217.2 Q737.3,218.7 731.7,220.1 Q726.2,221.6 724.1,225.8 Q722.1,230.0 712.8,230.0 Q703.5,230.0 697.3,228.5 Q691.1,227.0 690.7,225.5 Q690.2,224.1 692.7,219.3 Q695.2,214.4 695.0,207.0 Q694.8,199.5 694.8,190.1 Q694.8,180.8 695.8,172.7 Q696.8,164.6 697.6,157.1 Q698.3,149.5 700.2,145.2 Q702.1,140.8 706.2,138.3 Z" fill="#000" filter="url(#nMouseL)" opacity="0.5"/>
<path d="M711.7,193.8 Q711.3,195.0 709.9,195.6 Q708.6,196.2 707.2,196.8 Q705.8,197.4 704.2,197.1 Q702.6,196.7 701.8,195.7 Q701.0,194.7 700.2,193.6 Q699.5,192.6 699.9,191.4 Q700.4,190.2 701.7,189.6 Q702.9,188.9 704.4,188.3 Q705.8,187.8 707.3,188.3 Q708.7,188.8 709.8,189.6 Q711.0,190.4 711.5,191.5 Q712.0,192.6 711.7,193.8 Z" fill="url(#bl_c)"/>
</g>
<clipPath id="mc7"><rect x="740.7" y="129.8" width="46.1" height="98.2"/></clipPath>
<g clip-path="url(#mc7)">
<rect x="740.70" y="129.80" width="46.10" height="98.20" fill="#454545"/>
<rect x="740.70" y="129.80" width="46.10" height="98.20" fill="#000" filter="url(#nMouse)"/>
<rect x="741.20" y="129.80" width="3.50" height="98.20" fill="#2c2c2c" filter="url(#b06)"/>
<rect x="781.80" y="129.80" width="3.00" height="98.20" fill="#333" filter="url(#b06)"/>
<rect x="752.23" y="129.80" width="3.00" height="9.00" fill="#222"/>
<rect x="769.28" y="129.80" width="3.00" height="9.00" fill="#222"/>
<path d="M751.2,138.3 Q755.3,135.8 760.8,135.2 Q766.3,134.5 769.0,138.9 Q771.7,143.3 771.0,148.3 Q770.4,153.3 771.7,157.6 Q773.1,162.0 776.9,156.5 Q780.8,150.9 781.4,150.2 Q781.9,149.5 782.3,152.0 Q782.7,154.5 778.7,160.3 Q774.7,166.1 774.8,176.6 Q775.0,187.1 774.1,196.4 Q773.2,205.8 772.2,210.3 Q771.2,214.7 776.5,215.2 Q781.8,215.7 782.0,217.2 Q782.3,218.7 776.7,220.1 Q771.2,221.6 769.1,225.8 Q767.1,230.0 757.8,230.0 Q748.5,230.0 742.3,228.5 Q736.1,227.0 735.7,225.5 Q735.2,224.1 737.7,219.3 Q740.2,214.4 740.0,207.0 Q739.8,199.5 739.8,190.1 Q739.8,180.8 740.8,172.7 Q741.8,164.6 742.6,157.1 Q743.3,149.5 745.2,145.2 Q747.1,140.8 751.2,138.3 Z" fill="#cdcdcd" filter="url(#b08)"/>
<ellipse cx="757.5" cy="183.8" rx="12.0" ry="29.5" fill="#e2e2e2" filter="url(#b25)"/>
<ellipse cx="758.0" cy="143.5" rx="8.3" ry="6.9" fill="#d2d2d2" filter="url(#b20)"/>
<ellipse cx="750.9" cy="144.5" rx="2.2" ry="3" fill="#6a6a6a" filter="url(#b08)"/>
<path d="M751.2,138.3 Q755.3,135.8 760.8,135.2 Q766.3,134.5 769.0,138.9 Q771.7,143.3 771.0,148.3 Q770.4,153.3 771.7,157.6 Q773.1,162.0 776.9,156.5 Q780.8,150.9 781.4,150.2 Q781.9,149.5 782.3,152.0 Q782.7,154.5 778.7,160.3 Q774.7,166.1 774.8,176.6 Q775.0,187.1 774.1,196.4 Q773.2,205.8 772.2,210.3 Q771.2,214.7 776.5,215.2 Q781.8,215.7 782.0,217.2 Q782.3,218.7 776.7,220.1 Q771.2,221.6 769.1,225.8 Q767.1,230.0 757.8,230.0 Q748.5,230.0 742.3,228.5 Q736.1,227.0 735.7,225.5 Q735.2,224.1 737.7,219.3 Q740.2,214.4 740.0,207.0 Q739.8,199.5 739.8,190.1 Q739.8,180.8 740.8,172.7 Q741.8,164.6 742.6,157.1 Q743.3,149.5 745.2,145.2 Q747.1,140.8 751.2,138.3 Z" fill="#000" filter="url(#nMouseL)" opacity="0.5"/>
<path d="M756.3,194.7 Q756.0,195.9 755.0,197.0 Q753.9,198.1 752.3,198.3 Q750.6,198.5 749.1,198.1 Q747.5,197.7 746.5,196.8 Q745.4,195.8 745.1,194.6 Q744.8,193.4 744.8,192.1 Q744.8,190.7 746.1,189.8 Q747.4,188.9 749.0,188.7 Q750.6,188.6 752.2,188.8 Q753.7,189.0 754.9,189.9 Q756.1,190.8 756.3,192.1 Q756.5,193.4 756.3,194.7 Z" fill="url(#bl_c)"/>
</g>
<rect x="791.00" y="29.80" width="3.80" height="198.30" fill="url(#cbar)"/>
<rect x="47.10" y="297.80" width="222.60" height="106.80" fill="#e2dfe1"/>
<rect x="47.1" y="297.8" width="110" height="60" fill="#eeecee" opacity="0.7" filter="url(#b25)"/>
<rect x="63.50" y="304.30" width="205.00" height="9.90" fill="#e2e2de"/>
<line x1="63.50" y1="305.80" x2="63.50" y2="313.80" stroke="#333" stroke-width="0.8"/>
<line x1="65.50" y1="309.30" x2="65.50" y2="313.80" stroke="#333" stroke-width="0.8"/>
<line x1="67.50" y1="309.30" x2="67.50" y2="313.80" stroke="#333" stroke-width="0.8"/>
<line x1="69.50" y1="309.30" x2="69.50" y2="313.80" stroke="#333" stroke-width="0.8"/>
<line x1="71.50" y1="309.30" x2="71.50" y2="313.80" stroke="#333" stroke-width="0.8"/>
<line x1="73.50" y1="305.80" x2="73.50" y2="313.80" stroke="#333" stroke-width="0.8"/>
<line x1="75.50" y1="309.30" x2="75.50" y2="313.80" stroke="#333" stroke-width="0.8"/>
<line x1="77.50" y1="309.30" x2="77.50" y2="313.80" stroke="#333" stroke-width="0.8"/>
<line x1="79.50" y1="309.30" x2="79.50" y2="313.80" stroke="#333" stroke-width="0.8"/>
<line x1="81.50" y1="309.30" x2="81.50" y2="313.80" stroke="#333" stroke-width="0.8"/>
<line x1="83.50" y1="305.80" x2="83.50" y2="313.80" stroke="#333" stroke-width="0.8"/>
<line x1="85.50" y1="309.30" x2="85.50" y2="313.80" stroke="#333" stroke-width="0.8"/>
<line x1="87.50" y1="309.30" x2="87.50" y2="313.80" stroke="#333" stroke-width="0.8"/>
<line x1="89.50" y1="309.30" x2="89.50" y2="313.80" stroke="#333" stroke-width="0.8"/>
<line x1="91.50" y1="309.30" x2="91.50" y2="313.80" stroke="#333" stroke-width="0.8"/>
<line x1="93.50" y1="305.80" x2="93.50" y2="313.80" stroke="#333" stroke-width="0.8"/>
<line x1="95.50" y1="309.30" x2="95.50" y2="313.80" stroke="#333" stroke-width="0.8"/>
<line x1="97.50" y1="309.30" x2="97.50" y2="313.80" stroke="#333" stroke-width="0.8"/>
<line x1="99.50" y1="309.30" x2="99.50" y2="313.80" stroke="#333" stroke-width="0.8"/>
<line x1="101.50" y1="309.30" x2="101.50" y2="313.80" stroke="#333" stroke-width="0.8"/>
<line x1="103.50" y1="305.80" x2="103.50" y2="313.80" stroke="#333" stroke-width="0.8"/>
<line x1="105.50" y1="309.30" x2="105.50" y2="313.80" stroke="#333" stroke-width="0.8"/>
<line x1="107.50" y1="309.30" x2="107.50" y2="313.80" stroke="#333" stroke-width="0.8"/>
<line x1="109.50" y1="309.30" x2="109.50" y2="313.80" stroke="#333" stroke-width="0.8"/>
<line x1="111.50" y1="309.30" x2="111.50" y2="313.80" stroke="#333" stroke-width="0.8"/>
<line x1="113.50" y1="305.80" x2="113.50" y2="313.80" stroke="#333" stroke-width="0.8"/>
<line x1="115.50" y1="309.30" x2="115.50" y2="313.80" stroke="#333" stroke-width="0.8"/>
<line x1="117.50" y1="309.30" x2="117.50" y2="313.80" stroke="#333" stroke-width="0.8"/>
<line x1="119.50" y1="309.30" x2="119.50" y2="313.80" stroke="#333" stroke-width="0.8"/>
<line x1="121.50" y1="309.30" x2="121.50" y2="313.80" stroke="#333" stroke-width="0.8"/>
<line x1="123.50" y1="305.80" x2="123.50" y2="313.80" stroke="#333" stroke-width="0.8"/>
<line x1="125.50" y1="309.30" x2="125.50" y2="313.80" stroke="#333" stroke-width="0.8"/>
<line x1="127.50" y1="309.30" x2="127.50" y2="313.80" stroke="#333" stroke-width="0.8"/>
<line x1="129.50" y1="309.30" x2="129.50" y2="313.80" stroke="#333" stroke-width="0.8"/>
<line x1="131.50" y1="309.30" x2="131.50" y2="313.80" stroke="#333" stroke-width="0.8"/>
<line x1="133.50" y1="305.80" x2="133.50" y2="313.80" stroke="#333" stroke-width="0.8"/>
<line x1="135.50" y1="309.30" x2="135.50" y2="313.80" stroke="#333" stroke-width="0.8"/>
<line x1="137.50" y1="309.30" x2="137.50" y2="313.80" stroke="#333" stroke-width="0.8"/>
<line x1="139.50" y1="309.30" x2="139.50" y2="313.80" stroke="#333" stroke-width="0.8"/>
<line x1="141.50" y1="309.30" x2="141.50" y2="313.80" stroke="#333" stroke-width="0.8"/>
<line x1="143.50" y1="305.80" x2="143.50" y2="313.80" stroke="#333" stroke-width="0.8"/>
<line x1="145.50" y1="309.30" x2="145.50" y2="313.80" stroke="#333" stroke-width="0.8"/>
<line x1="147.50" y1="309.30" x2="147.50" y2="313.80" stroke="#333" stroke-width="0.8"/>
<line x1="149.50" y1="309.30" x2="149.50" y2="313.80" stroke="#333" stroke-width="0.8"/>
<line x1="151.50" y1="309.30" x2="151.50" y2="313.80" stroke="#333" stroke-width="0.8"/>
<line x1="153.50" y1="305.80" x2="153.50" y2="313.80" stroke="#333" stroke-width="0.8"/>
<line x1="155.50" y1="309.30" x2="155.50" y2="313.80" stroke="#333" stroke-width="0.8"/>
<line x1="157.50" y1="309.30" x2="157.50" y2="313.80" stroke="#333" stroke-width="0.8"/>
<line x1="159.50" y1="309.30" x2="159.50" y2="313.80" stroke="#333" stroke-width="0.8"/>
<line x1="161.50" y1="309.30" x2="161.50" y2="313.80" stroke="#333" stroke-width="0.8"/>
<line x1="163.50" y1="305.80" x2="163.50" y2="313.80" stroke="#333" stroke-width="0.8"/>
<line x1="165.50" y1="309.30" x2="165.50" y2="313.80" stroke="#333" stroke-width="0.8"/>
<line x1="167.50" y1="309.30" x2="167.50" y2="313.80" stroke="#333" stroke-width="0.8"/>
<line x1="169.50" y1="309.30" x2="169.50" y2="313.80" stroke="#333" stroke-width="0.8"/>
<line x1="171.50" y1="309.30" x2="171.50" y2="313.80" stroke="#333" stroke-width="0.8"/>
<line x1="173.50" y1="305.80" x2="173.50" y2="313.80" stroke="#333" stroke-width="0.8"/>
<line x1="175.50" y1="309.30" x2="175.50" y2="313.80" stroke="#333" stroke-width="0.8"/>
<line x1="177.50" y1="309.30" x2="177.50" y2="313.80" stroke="#333" stroke-width="0.8"/>
<line x1="179.50" y1="309.30" x2="179.50" y2="313.80" stroke="#333" stroke-width="0.8"/>
<line x1="181.50" y1="309.30" x2="181.50" y2="313.80" stroke="#333" stroke-width="0.8"/>
<line x1="183.50" y1="305.80" x2="183.50" y2="313.80" stroke="#333" stroke-width="0.8"/>
<line x1="185.50" y1="309.30" x2="185.50" y2="313.80" stroke="#333" stroke-width="0.8"/>
<line x1="187.50" y1="309.30" x2="187.50" y2="313.80" stroke="#333" stroke-width="0.8"/>
<line x1="189.50" y1="309.30" x2="189.50" y2="313.80" stroke="#333" stroke-width="0.8"/>
<line x1="191.50" y1="309.30" x2="191.50" y2="313.80" stroke="#333" stroke-width="0.8"/>
<line x1="193.50" y1="305.80" x2="193.50" y2="313.80" stroke="#333" stroke-width="0.8"/>
<line x1="195.50" y1="309.30" x2="195.50" y2="313.80" stroke="#333" stroke-width="0.8"/>
<line x1="197.50" y1="309.30" x2="197.50" y2="313.80" stroke="#333" stroke-width="0.8"/>
<line x1="199.50" y1="309.30" x2="199.50" y2="313.80" stroke="#333" stroke-width="0.8"/>
<line x1="201.50" y1="309.30" x2="201.50" y2="313.80" stroke="#333" stroke-width="0.8"/>
<line x1="203.50" y1="305.80" x2="203.50" y2="313.80" stroke="#333" stroke-width="0.8"/>
<line x1="205.50" y1="309.30" x2="205.50" y2="313.80" stroke="#333" stroke-width="0.8"/>
<line x1="207.50" y1="309.30" x2="207.50" y2="313.80" stroke="#333" stroke-width="0.8"/>
<line x1="209.50" y1="309.30" x2="209.50" y2="313.80" stroke="#333" stroke-width="0.8"/>
<line x1="211.50" y1="309.30" x2="211.50" y2="313.80" stroke="#333" stroke-width="0.8"/>
<line x1="213.50" y1="305.80" x2="213.50" y2="313.80" stroke="#333" stroke-width="0.8"/>
<line x1="215.50" y1="309.30" x2="215.50" y2="313.80" stroke="#333" stroke-width="0.8"/>
<line x1="217.50" y1="309.30" x2="217.50" y2="313.80" stroke="#333" stroke-width="0.8"/>
<line x1="219.50" y1="309.30" x2="219.50" y2="313.80" stroke="#333" stroke-width="0.8"/>
<line x1="221.50" y1="309.30" x2="221.50" y2="313.80" stroke="#333" stroke-width="0.8"/>
<line x1="223.50" y1="305.80" x2="223.50" y2="313.80" stroke="#333" stroke-width="0.8"/>
<line x1="225.50" y1="309.30" x2="225.50" y2="313.80" stroke="#333" stroke-width="0.8"/>
<line x1="227.50" y1="309.30" x2="227.50" y2="313.80" stroke="#333" stroke-width="0.8"/>
<line x1="229.50" y1="309.30" x2="229.50" y2="313.80" stroke="#333" stroke-width="0.8"/>
<line x1="231.50" y1="309.30" x2="231.50" y2="313.80" stroke="#333" stroke-width="0.8"/>
<line x1="233.50" y1="305.80" x2="233.50" y2="313.80" stroke="#333" stroke-width="0.8"/>
<line x1="235.50" y1="309.30" x2="235.50" y2="313.80" stroke="#333" stroke-width="0.8"/>
<line x1="237.50" y1="309.30" x2="237.50" y2="313.80" stroke="#333" stroke-width="0.8"/>
<line x1="239.50" y1="309.30" x2="239.50" y2="313.80" stroke="#333" stroke-width="0.8"/>
<line x1="241.50" y1="309.30" x2="241.50" y2="313.80" stroke="#333" stroke-width="0.8"/>
<line x1="243.50" y1="305.80" x2="243.50" y2="313.80" stroke="#333" stroke-width="0.8"/>
<line x1="245.50" y1="309.30" x2="245.50" y2="313.80" stroke="#333" stroke-width="0.8"/>
<line x1="247.50" y1="309.30" x2="247.50" y2="313.80" stroke="#333" stroke-width="0.8"/>
<line x1="249.50" y1="309.30" x2="249.50" y2="313.80" stroke="#333" stroke-width="0.8"/>
<line x1="251.50" y1="309.30" x2="251.50" y2="313.80" stroke="#333" stroke-width="0.8"/>
<line x1="253.50" y1="305.80" x2="253.50" y2="313.80" stroke="#333" stroke-width="0.8"/>
<line x1="255.50" y1="309.30" x2="255.50" y2="313.80" stroke="#333" stroke-width="0.8"/>
<line x1="257.50" y1="309.30" x2="257.50" y2="313.80" stroke="#333" stroke-width="0.8"/>
<line x1="259.50" y1="309.30" x2="259.50" y2="313.80" stroke="#333" stroke-width="0.8"/>
<line x1="261.50" y1="309.30" x2="261.50" y2="313.80" stroke="#333" stroke-width="0.8"/>
<line x1="263.50" y1="305.80" x2="263.50" y2="313.80" stroke="#333" stroke-width="0.8"/>
<line x1="265.50" y1="309.30" x2="265.50" y2="313.80" stroke="#333" stroke-width="0.8"/>
<line x1="267.50" y1="309.30" x2="267.50" y2="313.80" stroke="#333" stroke-width="0.8"/>
<path d="M79.6,344.2 Q78.9,350.0 75.4,353.1 Q71.9,356.3 68.3,354.9 Q64.8,353.6 62.0,350.5 Q59.1,347.5 58.5,342.1 Q57.9,336.7 59.2,331.2 Q60.5,325.8 63.8,322.3 Q67.1,318.8 70.6,320.6 Q74.0,322.3 76.4,325.6 Q78.7,328.8 79.5,333.6 Q80.2,338.5 79.6,344.2 Z" fill="#bbb6b8" opacity="0.6" filter="url(#b13)"/>
<path d="M78.6,342.2 Q77.9,348.0 74.4,351.1 Q70.9,354.3 67.3,352.9 Q63.8,351.6 61.0,348.5 Q58.1,345.5 57.5,340.1 Q56.9,334.7 58.2,329.2 Q59.5,323.8 62.8,320.3 Q66.1,316.8 69.6,318.6 Q73.0,320.3 75.4,323.6 Q77.7,326.8 78.5,331.6 Q79.2,336.5 78.6,342.2 Z" fill="url(#tu_beige)"/>
<ellipse cx="65.0" cy="332.0" rx="1.4" ry="1.5" fill="#fff" opacity="0.8"/>
<path d="M105.7,348.9 Q103.8,352.9 100.4,353.6 Q97.0,354.3 94.2,353.8 Q91.4,353.3 88.7,351.2 Q86.0,349.1 85.9,344.7 Q85.8,340.3 87.7,336.5 Q89.6,332.7 92.8,331.3 Q96.0,329.9 99.1,330.1 Q102.3,330.2 104.4,333.2 Q106.5,336.2 107.1,340.5 Q107.7,344.8 105.7,348.9 Z" fill="#bbb6b8" opacity="0.6" filter="url(#b13)"/>
<path d="M104.7,346.9 Q102.8,350.9 99.4,351.6 Q96.0,352.3 93.2,351.8 Q90.4,351.3 87.7,349.2 Q85.0,347.1 84.9,342.7 Q84.8,338.3 86.7,334.5 Q88.6,330.7 91.8,329.3 Q95.0,327.9 98.1,328.1 Q101.3,328.2 103.4,331.2 Q105.5,334.2 106.1,338.5 Q106.7,342.8 104.7,346.9 Z" fill="url(#tu_beige2)"/>
<ellipse cx="97.5" cy="338.5" rx="4" ry="4.4" fill="#c07858" opacity="0.75" filter="url(#b16)"/>
<ellipse cx="92.4" cy="337.8" rx="1.2" ry="1.1" fill="#fff" opacity="0.8"/>
<path d="M144.9,345.7 Q143.9,351.0 139.5,353.9 Q135.1,356.8 129.9,357.3 Q124.6,357.8 120.2,354.5 Q115.8,351.2 115.3,345.8 Q114.8,340.4 116.3,335.8 Q117.9,331.2 121.1,326.6 Q124.3,322.1 129.6,323.3 Q134.9,324.4 138.9,327.5 Q142.9,330.6 144.4,335.5 Q145.9,340.4 144.9,345.7 Z" fill="#bbb6b8" opacity="0.6" filter="url(#b13)"/>
<path d="M143.9,343.7 Q142.9,349.0 138.5,351.9 Q134.1,354.8 128.9,355.3 Q123.6,355.8 119.2,352.5 Q114.8,349.2 114.3,343.8 Q113.8,338.4 115.3,333.8 Q116.9,329.2 120.1,324.6 Q123.3,320.1 128.6,321.3 Q133.9,322.4 137.9,325.5 Q141.9,328.6 143.4,333.5 Q144.9,338.4 143.9,343.7 Z" fill="url(#tu_big)"/>
<ellipse cx="134" cy="334.4" rx="9" ry="9.9" fill="#6a3030" opacity="0.75" filter="url(#b16)"/>
<ellipse cx="123.9" cy="334.8" rx="2.0" ry="1.4" fill="#fff" opacity="0.8"/>
<path d="M169.7,341.8 Q168.6,345.7 166.3,348.5 Q164.0,351.4 160.8,351.0 Q157.6,350.6 155.3,348.1 Q152.9,345.6 151.5,341.8 Q150.2,338.0 150.6,333.3 Q151.1,328.7 154.1,326.0 Q157.1,323.3 160.7,323.4 Q164.2,323.4 166.6,326.8 Q168.9,330.1 169.8,334.1 Q170.8,338.0 169.7,341.8 Z" fill="#bbb6b8" opacity="0.6" filter="url(#b13)"/>
<path d="M168.7,339.8 Q167.6,343.7 165.3,346.5 Q163.0,349.4 159.8,349.0 Q156.6,348.6 154.3,346.1 Q151.9,343.6 150.5,339.8 Q149.2,336.0 149.6,331.3 Q150.1,326.7 153.1,324.0 Q156.1,321.3 159.7,321.4 Q163.2,321.4 165.6,324.8 Q167.9,328.1 168.8,332.1 Q169.8,336.0 168.7,339.8 Z" fill="url(#tu_beige)"/>
<ellipse cx="156.5" cy="333.1" rx="1.3" ry="1.2" fill="#fff" opacity="0.8"/>
<path d="M190.8,342.2 Q190.0,346.4 187.6,349.1 Q185.3,351.7 182.3,352.0 Q179.2,352.2 176.9,349.3 Q174.6,346.4 173.5,342.2 Q172.4,338.0 174.1,334.5 Q175.8,331.0 177.7,328.1 Q179.5,325.3 182.5,324.5 Q185.4,323.8 187.6,326.8 Q189.8,329.8 190.7,333.9 Q191.6,338.0 190.8,342.2 Z" fill="#bbb6b8" opacity="0.6" filter="url(#b13)"/>
<path d="M189.8,340.2 Q189.0,344.4 186.6,347.1 Q184.3,349.7 181.3,350.0 Q178.2,350.2 175.9,347.3 Q173.6,344.4 172.5,340.2 Q171.4,336.0 173.1,332.5 Q174.8,329.0 176.7,326.1 Q178.5,323.3 181.5,322.5 Q184.4,321.8 186.6,324.8 Q188.8,327.8 189.7,331.9 Q190.6,336.0 189.8,340.2 Z" fill="url(#tu_beige2)"/>
<ellipse cx="180.3" cy="332" rx="5" ry="5.5" fill="#902828" opacity="0.75" filter="url(#b16)"/>
<ellipse cx="178.6" cy="333.3" rx="1.1" ry="1.1" fill="#fff" opacity="0.8"/>
<path d="M215.0,343.7 Q213.8,348.5 210.6,350.9 Q207.3,353.2 203.9,352.8 Q200.4,352.4 198.0,349.6 Q195.6,346.8 193.7,342.9 Q191.9,339.0 193.2,334.6 Q194.6,330.2 197.3,327.0 Q200.0,323.8 203.6,324.5 Q207.2,325.2 210.5,327.4 Q213.7,329.6 214.9,334.3 Q216.1,339.0 215.0,343.7 Z" fill="#bbb6b8" opacity="0.6" filter="url(#b13)"/>
<path d="M214.0,341.7 Q212.8,346.5 209.6,348.9 Q206.3,351.2 202.9,350.8 Q199.4,350.4 197.0,347.6 Q194.6,344.8 192.7,340.9 Q190.9,337.0 192.2,332.6 Q193.6,328.2 196.3,325.0 Q199.0,321.8 202.6,322.5 Q206.2,323.2 209.5,325.4 Q212.7,327.6 213.9,332.3 Q215.1,337.0 214.0,341.7 Z" fill="url(#tu_pink)"/>
<ellipse cx="202.8" cy="340" rx="7" ry="7.700000000000001" fill="#8a2020" opacity="0.75" filter="url(#b16)"/>
<ellipse cx="199.4" cy="334.0" rx="1.4" ry="1.2" fill="#fff" opacity="0.8"/>
<path d="M242.6,340.1 Q241.1,344.7 238.1,348.5 Q235.2,352.3 231.0,351.1 Q226.8,350.0 223.0,347.8 Q219.3,345.6 218.2,340.5 Q217.2,335.5 218.9,331.0 Q220.6,326.6 223.5,322.9 Q226.4,319.3 230.5,320.2 Q234.5,321.1 238.2,323.4 Q241.8,325.7 243.0,330.6 Q244.1,335.5 242.6,340.1 Z" fill="#bbb6b8" opacity="0.6" filter="url(#b13)"/>
<path d="M241.6,338.1 Q240.1,342.7 237.1,346.5 Q234.2,350.3 230.0,349.1 Q225.8,348.0 222.0,345.8 Q218.3,343.6 217.2,338.5 Q216.2,333.5 217.9,329.0 Q219.6,324.6 222.5,320.9 Q225.4,317.3 229.5,318.2 Q233.5,319.1 237.2,321.4 Q240.8,323.7 242.0,328.6 Q243.1,333.5 241.6,338.1 Z" fill="url(#tu_beige2)"/>
<ellipse cx="232.7" cy="337.5" rx="4" ry="4.4" fill="#b87060" opacity="0.75" filter="url(#b16)"/>
<ellipse cx="225.5" cy="330.1" rx="1.7" ry="1.4" fill="#fff" opacity="0.8"/>
<path d="M258.7,340.9 Q258.6,343.9 256.4,344.8 Q254.3,345.8 252.1,346.4 Q250.0,347.0 248.6,344.9 Q247.2,342.8 246.5,340.4 Q245.7,338.0 245.8,335.0 Q246.0,332.1 248.1,331.1 Q250.3,330.0 252.4,329.6 Q254.5,329.1 256.2,331.0 Q257.9,332.8 258.4,335.4 Q258.8,338.0 258.7,340.9 Z" fill="#bbb6b8" opacity="0.6" filter="url(#b13)"/>
<path d="M257.7,338.9 Q257.6,341.9 255.4,342.8 Q253.3,343.8 251.1,344.4 Q249.0,345.0 247.6,342.9 Q246.2,340.8 245.5,338.4 Q244.7,336.0 244.8,333.0 Q245.0,330.1 247.1,329.1 Q249.3,328.0 251.4,327.6 Q253.5,327.1 255.2,329.0 Q256.9,330.8 257.4,333.4 Q257.8,336.0 257.7,338.9 Z" fill="url(#tu_brn)"/>
<ellipse cx="252.3" cy="337" rx="4" ry="4.4" fill="#802828" opacity="0.75" filter="url(#b16)"/>
<ellipse cx="249.2" cy="334.2" rx="0.8" ry="0.8" fill="#fff" opacity="0.8"/>
<path d="M76.1,392.1 Q74.0,396.2 70.7,398.7 Q67.4,401.2 64.5,399.5 Q61.7,397.8 60.1,394.5 Q58.4,391.2 58.7,386.7 Q59.0,382.2 61.6,378.7 Q64.1,375.2 67.1,372.9 Q70.1,370.6 73.1,371.4 Q76.2,372.1 78.0,375.4 Q79.9,378.7 79.1,383.4 Q78.2,388.1 76.1,392.1 Z" fill="#bbb6b8" opacity="0.6" filter="url(#b13)"/>
<path d="M75.1,390.1 Q73.0,394.2 69.7,396.7 Q66.4,399.2 63.5,397.5 Q60.7,395.8 59.1,392.5 Q57.4,389.2 57.7,384.7 Q58.0,380.2 60.6,376.7 Q63.1,373.2 66.1,370.9 Q69.1,368.6 72.1,369.4 Q75.2,370.1 77.0,373.4 Q78.9,376.7 78.1,381.4 Q77.2,386.1 75.1,390.1 Z" fill="url(#tu_beige2)"/>
<ellipse cx="66.8" cy="384.2" rx="8" ry="8.8" fill="#982020" opacity="0.75" filter="url(#b16)"/>
<ellipse cx="64.8" cy="380.2" rx="1.2" ry="1.2" fill="#fff" opacity="0.8"/>
<path d="M98.5,386.0 Q98.0,388.9 96.5,390.7 Q94.9,392.5 93.1,391.9 Q91.3,391.4 90.0,389.7 Q88.7,388.0 87.9,385.6 Q87.2,383.1 87.8,380.5 Q88.4,377.8 89.7,375.6 Q91.0,373.4 93.0,373.5 Q94.9,373.7 96.5,375.5 Q98.0,377.4 98.5,380.2 Q99.0,383.1 98.5,386.0 Z" fill="#bbb6b8" opacity="0.6" filter="url(#b13)"/>
<path d="M97.5,384.0 Q97.0,386.9 95.5,388.7 Q93.9,390.5 92.1,389.9 Q90.3,389.4 89.0,387.7 Q87.7,386.0 86.9,383.6 Q86.2,381.1 86.8,378.5 Q87.4,375.8 88.7,373.6 Q90.0,371.4 92.0,371.5 Q93.9,371.7 95.5,373.5 Q97.0,375.4 97.5,378.2 Q98.0,381.1 97.5,384.0 Z" fill="url(#tu_yel)"/>
<ellipse cx="90.2" cy="379.2" rx="0.8" ry="0.8" fill="#fff" opacity="0.8"/>
<path d="M125.4,386.8 Q124.9,389.4 123.5,390.9 Q122.1,392.4 120.5,392.4 Q118.9,392.4 118.1,390.2 Q117.4,388.0 117.1,385.7 Q116.9,383.4 117.6,381.1 Q118.3,378.9 119.5,377.5 Q120.8,376.1 122.3,375.8 Q123.8,375.5 124.6,377.5 Q125.4,379.6 125.6,381.9 Q125.9,384.3 125.4,386.8 Z" fill="#bbb6b8" opacity="0.6" filter="url(#b13)"/>
<path d="M124.4,384.8 Q123.9,387.4 122.5,388.9 Q121.1,390.4 119.5,390.4 Q117.9,390.4 117.1,388.2 Q116.4,386.0 116.1,383.7 Q115.9,381.4 116.6,379.1 Q117.3,376.9 118.5,375.5 Q119.8,374.1 121.3,373.8 Q122.8,373.5 123.6,375.5 Q124.4,377.6 124.6,379.9 Q124.9,382.3 124.4,384.8 Z" fill="url(#tu_beige2)"/>
<ellipse cx="120.4" cy="381.8" rx="3" ry="3.3000000000000003" fill="#c06050" opacity="0.75" filter="url(#b16)"/>
<ellipse cx="119.0" cy="380.1" rx="0.8" ry="0.8" fill="#fff" opacity="0.8"/>
<path d="M150.7,384.8 Q150.5,386.5 149.2,387.5 Q147.9,388.5 146.2,388.7 Q144.6,388.9 143.5,387.5 Q142.5,386.2 142.0,384.6 Q141.6,383.1 141.8,381.4 Q142.0,379.7 143.4,378.7 Q144.7,377.7 146.2,377.9 Q147.8,378.1 149.1,378.9 Q150.5,379.7 150.7,381.4 Q150.8,383.1 150.7,384.8 Z" fill="#bbb6b8" opacity="0.6" filter="url(#b13)"/>
<path d="M149.7,382.8 Q149.5,384.5 148.2,385.5 Q146.9,386.5 145.2,386.7 Q143.6,386.9 142.5,385.5 Q141.5,384.2 141.0,382.6 Q140.6,381.1 140.8,379.4 Q141.0,377.7 142.4,376.7 Q143.7,375.7 145.2,375.9 Q146.8,376.1 148.1,376.9 Q149.5,377.7 149.7,379.4 Q149.8,381.1 149.7,382.8 Z" fill="url(#tu_red)"/>
<ellipse cx="143.8" cy="380.0" rx="0.8" ry="0.8" fill="#fff" opacity="0.8"/>
<path d="M171.8,384.7 Q170.7,386.4 169.7,388.0 Q168.6,389.5 166.9,389.1 Q165.2,388.7 163.5,388.0 Q161.8,387.3 161.9,385.1 Q161.9,383.0 161.9,380.9 Q161.9,378.8 163.5,377.7 Q165.0,376.5 166.8,376.4 Q168.6,376.3 170.2,377.5 Q171.8,378.7 172.3,380.9 Q172.9,383.0 171.8,384.7 Z" fill="#bbb6b8" opacity="0.6" filter="url(#b13)"/>
<path d="M170.8,382.7 Q169.7,384.4 168.7,386.0 Q167.6,387.5 165.9,387.1 Q164.2,386.7 162.5,386.0 Q160.8,385.3 160.9,383.1 Q160.9,381.0 160.9,378.9 Q160.9,376.8 162.5,375.7 Q164.0,374.5 165.8,374.4 Q167.6,374.3 169.2,375.5 Q170.8,376.7 171.3,378.9 Q171.9,381.0 170.8,382.7 Z" fill="url(#tu_brn)"/>
<ellipse cx="164.2" cy="379.7" rx="0.8" ry="0.8" fill="#fff" opacity="0.8"/>
<path d="M189.7,384.8 Q189.4,386.5 188.5,387.6 Q187.7,388.6 186.6,388.6 Q185.5,388.6 184.7,387.5 Q183.8,386.5 183.4,384.7 Q183.0,383.0 183.4,381.3 Q183.9,379.7 184.7,378.4 Q185.5,377.1 186.5,377.5 Q187.6,378.0 188.4,378.8 Q189.3,379.6 189.6,381.3 Q190.0,383.0 189.7,384.8 Z" fill="#bbb6b8" opacity="0.6" filter="url(#b13)"/>
<path d="M188.7,382.8 Q188.4,384.5 187.5,385.6 Q186.7,386.6 185.6,386.6 Q184.5,386.6 183.7,385.5 Q182.8,384.5 182.4,382.7 Q182.0,381.0 182.4,379.3 Q182.9,377.7 183.7,376.4 Q184.5,375.1 185.5,375.5 Q186.6,376.0 187.4,376.8 Q188.3,377.6 188.6,379.3 Q189.0,381.0 188.7,382.8 Z" fill="url(#tu_beige)"/>
<ellipse cx="184.5" cy="379.8" rx="0.8" ry="0.8" fill="#fff" opacity="0.8"/>
<path d="M211.0,386.7 Q210.5,389.4 208.8,391.2 Q207.1,393.0 205.1,392.3 Q203.0,391.7 201.1,390.5 Q199.3,389.3 198.7,386.7 Q198.1,384.0 198.8,381.4 Q199.4,378.8 201.3,377.7 Q203.1,376.7 204.9,376.8 Q206.7,376.8 208.3,378.0 Q210.0,379.1 210.7,381.6 Q211.4,384.0 211.0,386.7 Z" fill="#bbb6b8" opacity="0.6" filter="url(#b13)"/>
<path d="M210.0,384.7 Q209.5,387.4 207.8,389.2 Q206.1,391.0 204.1,390.3 Q202.0,389.7 200.1,388.5 Q198.3,387.3 197.7,384.7 Q197.1,382.0 197.8,379.4 Q198.4,376.8 200.3,375.7 Q202.1,374.7 203.9,374.8 Q205.7,374.8 207.3,376.0 Q209.0,377.1 209.7,379.6 Q210.4,382.0 210.0,384.7 Z" fill="url(#tu_dark)"/>
<ellipse cx="202.0" cy="380.3" rx="0.8" ry="0.8" fill="#fff" opacity="0.8"/>
<path d="M230.2,384.8 Q230.0,386.7 229.1,387.6 Q228.1,388.5 227.1,388.4 Q226.1,388.3 225.2,387.4 Q224.3,386.5 223.9,384.8 Q223.6,383.0 223.9,381.2 Q224.3,379.5 225.2,378.4 Q226.0,377.4 227.1,377.5 Q228.1,377.6 228.9,378.6 Q229.8,379.7 230.0,381.3 Q230.3,383.0 230.2,384.8 Z" fill="#bbb6b8" opacity="0.6" filter="url(#b13)"/>
<path d="M229.2,382.8 Q229.0,384.7 228.1,385.6 Q227.1,386.5 226.1,386.4 Q225.1,386.3 224.2,385.4 Q223.3,384.5 222.9,382.8 Q222.6,381.0 222.9,379.2 Q223.3,377.5 224.2,376.4 Q225.0,375.4 226.1,375.5 Q227.1,375.6 227.9,376.6 Q228.8,377.7 229.0,379.3 Q229.3,381.0 229.2,382.8 Z" fill="url(#tu_yel)"/>
<ellipse cx="225.0" cy="379.8" rx="0.8" ry="0.8" fill="#fff" opacity="0.8"/>
<path d="M255.9,385.6 Q255.2,388.8 253.1,390.4 Q251.0,392.1 248.7,392.0 Q246.4,392.0 244.6,390.1 Q242.8,388.2 241.5,385.4 Q240.3,382.5 241.6,379.7 Q242.9,376.9 244.8,375.4 Q246.6,373.8 248.7,373.7 Q250.9,373.5 252.7,375.2 Q254.4,377.0 255.5,379.7 Q256.5,382.5 255.9,385.6 Z" fill="#bbb6b8" opacity="0.6" filter="url(#b13)"/>
<path d="M254.9,383.6 Q254.2,386.8 252.1,388.4 Q250.0,390.1 247.7,390.0 Q245.4,390.0 243.6,388.1 Q241.8,386.2 240.5,383.4 Q239.3,380.5 240.6,377.7 Q241.9,374.9 243.8,373.4 Q245.6,371.8 247.7,371.7 Q249.9,371.5 251.7,373.2 Q253.4,375.0 254.5,377.7 Q255.5,380.5 254.9,383.6 Z" fill="url(#tu_brn)"/>
<ellipse cx="247.7" cy="382.5" rx="5" ry="5.5" fill="#802020" opacity="0.75" filter="url(#b16)"/>
<ellipse cx="245.4" cy="378.5" rx="0.9" ry="0.8" fill="#fff" opacity="0.8"/>
<rect x="47.10" y="297.80" width="222.60" height="106.80" fill="none" stroke="#2a2a2a" stroke-width="1.5"/>
<text x="41.37" y="324.20" font-size="13.8" font-weight="bold" text-anchor="middle" fill="#000" transform="rotate(-90 41.37 324.20)">Vehicle</text>
<text x="41.22" y="381.60" font-size="13.4" font-weight="bold" text-anchor="middle" fill="#000" transform="rotate(-90 41.22 381.60)">aMT 3%</text>
<rect x="48.70" y="460.30" width="268.40" height="327.50" fill="none" stroke="#444" stroke-width="1.1"/>
<text x="123.00" y="475.04" font-size="14" font-weight="bold" text-anchor="middle" fill="#000">Vehicle</text>
<text x="247.50" y="475.04" font-size="14" font-weight="bold" text-anchor="middle" fill="#000">aMT 3% w/v</text>
<text x="64.86" y="528.80" font-size="13.5" font-weight="bold" text-anchor="middle" fill="#000" transform="rotate(-90 64.86 528.80)">H &amp; E</text>
<text x="64.86" y="630.00" font-size="13.5" font-weight="bold" text-anchor="middle" fill="#000" transform="rotate(-90 64.86 630.00)">Ki67</text>
<text x="64.86" y="713.80" font-size="13.5" font-weight="bold" text-anchor="middle" fill="#000" transform="rotate(-90 64.86 713.80)">Trichrome</text>
<rect x="69.70" y="483.90" width="55.90" height="91.20" fill="#f2f2f2"/>
<rect x="127.70" y="483.90" width="55.60" height="91.20" fill="#b4509c"/>
<rect x="127.70" y="483.90" width="55.60" height="91.20" fill="#000" filter="url(#nHEd)"/>
<rect x="127.70" y="483.90" width="55.60" height="91.20" fill="#000" filter="url(#nHEp)" opacity="0.6"/>
<rect x="188.40" y="483.90" width="56.10" height="91.20" fill="#f2f2f2"/>
<rect x="246.30" y="483.90" width="56.10" height="91.20" fill="#90409a"/>
<rect x="246.30" y="483.90" width="56.10" height="91.20" fill="#000" filter="url(#nHEd2)"/>
<rect x="246.30" y="483.90" width="56.10" height="91.20" fill="#000" filter="url(#nHEw)"/>
<rect x="69.70" y="577.60" width="55.90" height="91.90" fill="#f2f2f2"/>
<rect x="127.70" y="577.60" width="55.60" height="91.90" fill="#e6e6ee"/>
<rect x="127.70" y="577.60" width="55.60" height="91.90" fill="#000" filter="url(#nKi)"/>
<rect x="188.40" y="577.60" width="56.10" height="91.90" fill="#f2f2f2"/>
<rect x="246.30" y="577.60" width="56.10" height="91.90" fill="#e2dcdc"/>
<rect x="246.30" y="577.60" width="56.10" height="91.90" fill="#000" filter="url(#nKi2)"/>
<rect x="69.70" y="671.60" width="55.90" height="91.90" fill="#f2f2f2"/>
<rect x="127.70" y="671.60" width="55.60" height="91.90" fill="#a03c66"/>
<rect x="127.70" y="671.60" width="55.60" height="91.90" fill="#000" filter="url(#nTrr)"/>
<rect x="127.70" y="671.60" width="55.60" height="91.90" fill="#000" filter="url(#nTr)" opacity="0.75"/>
<path d="M127.7,703.8 Q141.6,702.2 155.5,694.6" fill="none" stroke="#3a5ab8" stroke-width="1.3" opacity="0.9"/>
<path d="M133.3,722.1 Q158.3,718.3 183.3,708.4" fill="none" stroke="#3a5ab8" stroke-width="1.3" opacity="0.9"/>
<path d="M127.7,737.8 Q152.7,735.3 177.7,726.7" fill="none" stroke="#3a5ab8" stroke-width="1.3" opacity="0.9"/>
<path d="M138.8,749.7 Q161.1,749.5 183.3,743.3" fill="none" stroke="#3a5ab8" stroke-width="1.3" opacity="0.9"/>
<path d="M155.5,690.0 Q169.4,688.4 183.3,680.8" fill="none" stroke="#3a5ab8" stroke-width="1.3" opacity="0.9"/>
<path d="M144.4,758.9 Q158.3,759.6 172.2,754.3" fill="none" stroke="#3a5ab8" stroke-width="1.3" opacity="0.9"/>
<rect x="188.40" y="671.60" width="56.10" height="91.90" fill="#f2f2f2"/>
<rect x="246.30" y="671.60" width="56.10" height="91.90" fill="#6a78bc"/>
<rect x="246.30" y="671.60" width="56.10" height="91.90" fill="#000" filter="url(#nTrr2)"/>
<rect x="246.30" y="671.60" width="56.10" height="91.90" fill="#000" filter="url(#nTrb2)" opacity="0.85"/>
<rect x="246.30" y="671.60" width="56.10" height="91.90" fill="#000" filter="url(#nTr)" opacity="0.35"/>
<path d="M105.8,487.1 Q109.2,487.7 111.3,491.1 Q113.4,494.5 114.2,500.0 Q115.1,505.4 115.1,510.5 Q115.1,515.5 115.9,521.5 Q116.8,527.4 117.8,533.3 Q118.9,539.2 119.1,545.5 Q119.3,551.8 118.0,556.5 Q116.8,561.1 113.4,564.5 Q110.0,567.9 105.0,568.8 Q99.9,569.6 93.6,568.4 Q87.3,567.1 82.6,564.1 Q78.0,561.1 76.1,555.3 Q74.2,549.4 74.0,543.5 Q73.8,537.5 73.7,533.1 Q73.5,528.6 75.3,522.1 Q77.2,515.5 77.6,508.4 Q78.0,501.2 80.5,497.4 Q83.1,493.6 87.3,491.5 Q91.5,489.4 97.0,487.9 Q102.4,486.5 105.8,487.1 Z" fill="#94479a"/>
<clipPath id="cpv0"><path d="M105.8,487.1 Q109.2,487.7 111.3,491.1 Q113.4,494.5 114.2,500.0 Q115.1,505.4 115.1,510.5 Q115.1,515.5 115.9,521.5 Q116.8,527.4 117.8,533.3 Q118.9,539.2 119.1,545.5 Q119.3,551.8 118.0,556.5 Q116.8,561.1 113.4,564.5 Q110.0,567.9 105.0,568.8 Q99.9,569.6 93.6,568.4 Q87.3,567.1 82.6,564.1 Q78.0,561.1 76.1,555.3 Q74.2,549.4 74.0,543.5 Q73.8,537.5 73.7,533.1 Q73.5,528.6 75.3,522.1 Q77.2,515.5 77.6,508.4 Q78.0,501.2 80.5,497.4 Q83.1,493.6 87.3,491.5 Q91.5,489.4 97.0,487.9 Q102.4,486.5 105.8,487.1 Z"/></clipPath>
<g clip-path="url(#cpv0)"><ellipse cx="89.19999999999999" cy="518.5559999999999" rx="16.8" ry="15.504000000000001" fill="#c488c0" opacity="0.85" filter="url(#b25)"/></g>
<path d="M105.8,487.1 Q109.2,487.7 111.3,491.1 Q113.4,494.5 114.2,500.0 Q115.1,505.4 115.1,510.5 Q115.1,515.5 115.9,521.5 Q116.8,527.4 117.8,533.3 Q118.9,539.2 119.1,545.5 Q119.3,551.8 118.0,556.5 Q116.8,561.1 113.4,564.5 Q110.0,567.9 105.0,568.8 Q99.9,569.6 93.6,568.4 Q87.3,567.1 82.6,564.1 Q78.0,561.1 76.1,555.3 Q74.2,549.4 74.0,543.5 Q73.8,537.5 73.7,533.1 Q73.5,528.6 75.3,522.1 Q77.2,515.5 77.6,508.4 Q78.0,501.2 80.5,497.4 Q83.1,493.6 87.3,491.5 Q91.5,489.4 97.0,487.9 Q102.4,486.5 105.8,487.1 Z" fill="#000" filter="url(#nSecHE)" opacity="0.55"/>
<ellipse cx="100.73599999999999" cy="551.8439999999999" rx="6.72" ry="4.5600000000000005" fill="#f4f0f4" filter="url(#b06)"/>
<path d="M214.4,485.8 Q220.5,486.2 225.2,489.3 Q229.8,492.4 232.1,496.3 Q234.5,500.1 236.0,505.6 Q237.5,511.0 236.8,515.6 Q236.0,520.2 237.2,525.6 Q238.3,531.1 237.9,538.0 Q237.5,544.9 236.0,551.1 Q234.5,557.3 231.4,562.7 Q228.3,568.2 222.1,570.5 Q215.9,572.8 209.7,571.3 Q203.5,569.7 199.7,565.1 Q195.8,560.4 193.9,554.2 Q191.9,548.0 191.6,541.0 Q191.2,534.1 192.7,527.9 Q194.3,521.7 194.7,516.4 Q195.0,511.0 194.3,507.1 Q193.5,503.2 195.0,499.4 Q196.6,495.5 199.3,491.6 Q202.0,487.7 205.1,486.6 Q208.2,485.5 214.4,485.8 Z" fill="#d690ca"/>
<clipPath id="cpa0"><path d="M214.4,485.8 Q220.5,486.2 225.2,489.3 Q229.8,492.4 232.1,496.3 Q234.5,500.1 236.0,505.6 Q237.5,511.0 236.8,515.6 Q236.0,520.2 237.2,525.6 Q238.3,531.1 237.9,538.0 Q237.5,544.9 236.0,551.1 Q234.5,557.3 231.4,562.7 Q228.3,568.2 222.1,570.5 Q215.9,572.8 209.7,571.3 Q203.5,569.7 199.7,565.1 Q195.8,560.4 193.9,554.2 Q191.9,548.0 191.6,541.0 Q191.2,534.1 192.7,527.9 Q194.3,521.7 194.7,516.4 Q195.0,511.0 194.3,507.1 Q193.5,503.2 195.0,499.4 Q196.6,495.5 199.3,491.6 Q202.0,487.7 205.1,486.6 Q208.2,485.5 214.4,485.8 Z"/></clipPath>
<g clip-path="url(#cpa0)"><ellipse cx="213.645" cy="495.756" rx="20.196" ry="13.68" fill="#7c3c8a" filter="url(#b16)"/><ellipse cx="205.23000000000002" cy="560.508" rx="5.61" ry="4.5600000000000005" fill="#9a58a8" filter="url(#b13)"/><ellipse cx="219.255" cy="520.38" rx="6.732" ry="4.5600000000000005" fill="#b070b0" filter="url(#b13)"/></g>
<path d="M214.4,485.8 Q220.5,486.2 225.2,489.3 Q229.8,492.4 232.1,496.3 Q234.5,500.1 236.0,505.6 Q237.5,511.0 236.8,515.6 Q236.0,520.2 237.2,525.6 Q238.3,531.1 237.9,538.0 Q237.5,544.9 236.0,551.1 Q234.5,557.3 231.4,562.7 Q228.3,568.2 222.1,570.5 Q215.9,572.8 209.7,571.3 Q203.5,569.7 199.7,565.1 Q195.8,560.4 193.9,554.2 Q191.9,548.0 191.6,541.0 Q191.2,534.1 192.7,527.9 Q194.3,521.7 194.7,516.4 Q195.0,511.0 194.3,507.1 Q193.5,503.2 195.0,499.4 Q196.6,495.5 199.3,491.6 Q202.0,487.7 205.1,486.6 Q208.2,485.5 214.4,485.8 Z" fill="#000" filter="url(#nSecHE)" opacity="0.45"/>
<path d="M105.8,580.8 Q109.2,581.5 111.3,584.9 Q113.4,588.3 114.2,593.8 Q115.1,599.3 115.1,604.4 Q115.1,609.5 115.9,615.5 Q116.8,621.4 117.8,627.4 Q118.9,633.3 119.1,639.7 Q119.3,646.1 118.0,650.8 Q116.8,655.4 113.4,658.8 Q110.0,662.2 105.0,663.1 Q99.9,664.0 93.6,662.7 Q87.3,661.4 82.6,658.4 Q78.0,655.4 76.1,649.5 Q74.2,643.6 74.0,637.6 Q73.8,631.6 73.7,627.1 Q73.5,622.6 75.3,616.1 Q77.2,609.5 77.6,602.3 Q78.0,595.1 80.5,591.2 Q83.1,587.3 87.3,585.2 Q91.5,583.1 97.0,581.6 Q102.4,580.2 105.8,580.8 Z" fill="#caa898"/>
<clipPath id="cpv1"><path d="M105.8,580.8 Q109.2,581.5 111.3,584.9 Q113.4,588.3 114.2,593.8 Q115.1,599.3 115.1,604.4 Q115.1,609.5 115.9,615.5 Q116.8,621.4 117.8,627.4 Q118.9,633.3 119.1,639.7 Q119.3,646.1 118.0,650.8 Q116.8,655.4 113.4,658.8 Q110.0,662.2 105.0,663.1 Q99.9,664.0 93.6,662.7 Q87.3,661.4 82.6,658.4 Q78.0,655.4 76.1,649.5 Q74.2,643.6 74.0,637.6 Q73.8,631.6 73.7,627.1 Q73.5,622.6 75.3,616.1 Q77.2,609.5 77.6,602.3 Q78.0,595.1 80.5,591.2 Q83.1,587.3 87.3,585.2 Q91.5,583.1 97.0,581.6 Q102.4,580.2 105.8,580.8 Z"/></clipPath>
<g clip-path="url(#cpv1)"><ellipse cx="86.39999999999999" cy="612.522" rx="14.0" ry="13.785" fill="#e4dcdc" opacity="0.85" filter="url(#b25)"/></g>
<path d="M105.8,580.8 Q109.2,581.5 111.3,584.9 Q113.4,588.3 114.2,593.8 Q115.1,599.3 115.1,604.4 Q115.1,609.5 115.9,615.5 Q116.8,621.4 117.8,627.4 Q118.9,633.3 119.1,639.7 Q119.3,646.1 118.0,650.8 Q116.8,655.4 113.4,658.8 Q110.0,662.2 105.0,663.1 Q99.9,664.0 93.6,662.7 Q87.3,661.4 82.6,658.4 Q78.0,655.4 76.1,649.5 Q74.2,643.6 74.0,637.6 Q73.8,631.6 73.7,627.1 Q73.5,622.6 75.3,616.1 Q77.2,609.5 77.6,602.3 Q78.0,595.1 80.5,591.2 Q83.1,587.3 87.3,585.2 Q91.5,583.1 97.0,581.6 Q102.4,580.2 105.8,580.8 Z" fill="#000" filter="url(#nSecKi)" opacity="0.6"/>
<ellipse cx="100.73599999999999" cy="646.5250000000001" rx="6.16" ry="4.1355" fill="#f4f0f0" filter="url(#b06)"/>
<path d="M214.4,579.5 Q220.5,579.9 225.2,583.0 Q229.8,586.1 232.1,590.1 Q234.5,594.0 236.0,599.4 Q237.5,604.9 236.8,609.5 Q236.0,614.2 237.2,619.6 Q238.3,625.1 237.9,632.1 Q237.5,639.1 236.0,645.3 Q234.5,651.6 231.4,657.0 Q228.3,662.5 222.1,664.9 Q215.9,667.2 209.7,665.6 Q203.5,664.1 199.7,659.4 Q195.8,654.7 193.9,648.5 Q191.9,642.2 191.6,635.2 Q191.2,628.1 192.7,621.9 Q194.3,615.7 194.7,610.3 Q195.0,604.9 194.3,601.0 Q193.5,597.1 195.0,593.2 Q196.6,589.3 199.3,585.4 Q202.0,581.5 205.1,580.3 Q208.2,579.2 214.4,579.5 Z" fill="#e4dcdc"/>
<clipPath id="cpa1"><path d="M214.4,579.5 Q220.5,579.9 225.2,583.0 Q229.8,586.1 232.1,590.1 Q234.5,594.0 236.0,599.4 Q237.5,604.9 236.8,609.5 Q236.0,614.2 237.2,619.6 Q238.3,625.1 237.9,632.1 Q237.5,639.1 236.0,645.3 Q234.5,651.6 231.4,657.0 Q228.3,662.5 222.1,664.9 Q215.9,667.2 209.7,665.6 Q203.5,664.1 199.7,659.4 Q195.8,654.7 193.9,648.5 Q191.9,642.2 191.6,635.2 Q191.2,628.1 192.7,621.9 Q194.3,615.7 194.7,610.3 Q195.0,604.9 194.3,601.0 Q193.5,597.1 195.0,593.2 Q196.6,589.3 199.3,585.4 Q202.0,581.5 205.1,580.3 Q208.2,579.2 214.4,579.5 Z"/></clipPath>
<g clip-path="url(#cpa1)"><ellipse cx="213.645" cy="586.7900000000001" rx="21.318" ry="13.785" fill="#a86848" filter="url(#b13)"/><ellipse cx="213.645" cy="640.092" rx="20.196" ry="22.056" fill="#d0a47e" filter="url(#b25)"/></g>
<path d="M214.4,579.5 Q220.5,579.9 225.2,583.0 Q229.8,586.1 232.1,590.1 Q234.5,594.0 236.0,599.4 Q237.5,604.9 236.8,609.5 Q236.0,614.2 237.2,619.6 Q238.3,625.1 237.9,632.1 Q237.5,639.1 236.0,645.3 Q234.5,651.6 231.4,657.0 Q228.3,662.5 222.1,664.9 Q215.9,667.2 209.7,665.6 Q203.5,664.1 199.7,659.4 Q195.8,654.7 193.9,648.5 Q191.9,642.2 191.6,635.2 Q191.2,628.1 192.7,621.9 Q194.3,615.7 194.7,610.3 Q195.0,604.9 194.3,601.0 Q193.5,597.1 195.0,593.2 Q196.6,589.3 199.3,585.4 Q202.0,581.5 205.1,580.3 Q208.2,579.2 214.4,579.5 Z" fill="#000" filter="url(#nSecKi)" opacity="0.5"/>
<path d="M105.8,674.8 Q109.2,675.5 111.3,678.9 Q113.4,682.3 114.2,687.8 Q115.1,693.3 115.1,698.4 Q115.1,703.5 115.9,709.5 Q116.8,715.4 117.8,721.4 Q118.9,727.3 119.1,733.7 Q119.3,740.1 118.0,744.8 Q116.8,749.4 113.4,752.8 Q110.0,756.2 105.0,757.1 Q99.9,758.0 93.6,756.7 Q87.3,755.4 82.6,752.4 Q78.0,749.4 76.1,743.5 Q74.2,737.6 74.0,731.6 Q73.8,725.6 73.7,721.1 Q73.5,716.6 75.3,710.1 Q77.2,703.5 77.6,696.3 Q78.0,689.1 80.5,685.2 Q83.1,681.3 87.3,679.2 Q91.5,677.1 97.0,675.6 Q102.4,674.2 105.8,674.8 Z" fill="#a8385e"/>
<clipPath id="cpv2"><path d="M105.8,674.8 Q109.2,675.5 111.3,678.9 Q113.4,682.3 114.2,687.8 Q115.1,693.3 115.1,698.4 Q115.1,703.5 115.9,709.5 Q116.8,715.4 117.8,721.4 Q118.9,727.3 119.1,733.7 Q119.3,740.1 118.0,744.8 Q116.8,749.4 113.4,752.8 Q110.0,756.2 105.0,757.1 Q99.9,758.0 93.6,756.7 Q87.3,755.4 82.6,752.4 Q78.0,749.4 76.1,743.5 Q74.2,737.6 74.0,731.6 Q73.8,725.6 73.7,721.1 Q73.5,716.6 75.3,710.1 Q77.2,703.5 77.6,696.3 Q78.0,689.1 80.5,685.2 Q83.1,681.3 87.3,679.2 Q91.5,677.1 97.0,675.6 Q102.4,674.2 105.8,674.8 Z"/></clipPath>
<g clip-path="url(#cpv2)"><ellipse cx="76.32" cy="699.1700000000001" rx="3.36" ry="12.866000000000001" fill="#5a6ab8" opacity="0.8" filter="url(#b13)"/></g>
<path d="M105.8,674.8 Q109.2,675.5 111.3,678.9 Q113.4,682.3 114.2,687.8 Q115.1,693.3 115.1,698.4 Q115.1,703.5 115.9,709.5 Q116.8,715.4 117.8,721.4 Q118.9,727.3 119.1,733.7 Q119.3,740.1 118.0,744.8 Q116.8,749.4 113.4,752.8 Q110.0,756.2 105.0,757.1 Q99.9,758.0 93.6,756.7 Q87.3,755.4 82.6,752.4 Q78.0,749.4 76.1,743.5 Q74.2,737.6 74.0,731.6 Q73.8,725.6 73.7,721.1 Q73.5,716.6 75.3,710.1 Q77.2,703.5 77.6,696.3 Q78.0,689.1 80.5,685.2 Q83.1,681.3 87.3,679.2 Q91.5,677.1 97.0,675.6 Q102.4,674.2 105.8,674.8 Z" fill="#000" filter="url(#nSecHE)" opacity="0.35"/>
<ellipse cx="98.72" cy="743.282" rx="5.6000000000000005" ry="4.1355" fill="#f4f0f0" filter="url(#b06)"/>
<path d="M214.4,673.5 Q220.5,673.9 225.2,677.0 Q229.8,680.1 232.1,684.1 Q234.5,688.0 236.0,693.4 Q237.5,698.9 236.8,703.5 Q236.0,708.2 237.2,713.6 Q238.3,719.1 237.9,726.1 Q237.5,733.1 236.0,739.3 Q234.5,745.6 231.4,751.0 Q228.3,756.5 222.1,758.9 Q215.9,761.2 209.7,759.6 Q203.5,758.1 199.7,753.4 Q195.8,748.7 193.9,742.5 Q191.9,736.2 191.6,729.2 Q191.2,722.1 192.7,715.9 Q194.3,709.7 194.7,704.3 Q195.0,698.9 194.3,695.0 Q193.5,691.1 195.0,687.2 Q196.6,683.3 199.3,679.4 Q202.0,675.5 205.1,674.3 Q208.2,673.2 214.4,673.5 Z" fill="#5a72c0"/>
<clipPath id="cpa2"><path d="M214.4,673.5 Q220.5,673.9 225.2,677.0 Q229.8,680.1 232.1,684.1 Q234.5,688.0 236.0,693.4 Q237.5,698.9 236.8,703.5 Q236.0,708.2 237.2,713.6 Q238.3,719.1 237.9,726.1 Q237.5,733.1 236.0,739.3 Q234.5,745.6 231.4,751.0 Q228.3,756.5 222.1,758.9 Q215.9,761.2 209.7,759.6 Q203.5,758.1 199.7,753.4 Q195.8,748.7 193.9,742.5 Q191.9,736.2 191.6,729.2 Q191.2,722.1 192.7,715.9 Q194.3,709.7 194.7,704.3 Q195.0,698.9 194.3,695.0 Q193.5,691.1 195.0,687.2 Q196.6,683.3 199.3,679.4 Q202.0,675.5 205.1,674.3 Q208.2,673.2 214.4,673.5 Z"/></clipPath>
<g clip-path="url(#cpa2)"><ellipse cx="213.645" cy="689.98" rx="23.562" ry="18.380000000000003" fill="#7c5890" opacity="0.9" filter="url(#b25)"/></g>
<path d="M214.4,673.5 Q220.5,673.9 225.2,677.0 Q229.8,680.1 232.1,684.1 Q234.5,688.0 236.0,693.4 Q237.5,698.9 236.8,703.5 Q236.0,708.2 237.2,713.6 Q238.3,719.1 237.9,726.1 Q237.5,733.1 236.0,739.3 Q234.5,745.6 231.4,751.0 Q228.3,756.5 222.1,758.9 Q215.9,761.2 209.7,759.6 Q203.5,758.1 199.7,753.4 Q195.8,748.7 193.9,742.5 Q191.9,736.2 191.6,729.2 Q191.2,722.1 192.7,715.9 Q194.3,709.7 194.7,704.3 Q195.0,698.9 194.3,695.0 Q193.5,691.1 195.0,687.2 Q196.6,683.3 199.3,679.4 Q202.0,675.5 205.1,674.3 Q208.2,673.2 214.4,673.5 Z" fill="#000" filter="url(#nSecHE)" opacity="0.35"/>
<rect x="99.00" y="516.40" width="15.80" height="13.90" fill="none" stroke="#111" stroke-width="1"/>
<line x1="114.80" y1="516.40" x2="127.70" y2="483.90" stroke="#222" stroke-width="0.8"/>
<line x1="114.80" y1="530.30" x2="127.70" y2="575.10" stroke="#222" stroke-width="0.8"/>
<rect x="102.10" y="615.50" width="16.30" height="14.00" fill="none" stroke="#111" stroke-width="1"/>
<line x1="118.40" y1="615.50" x2="127.70" y2="577.60" stroke="#222" stroke-width="0.8"/>
<line x1="118.40" y1="629.50" x2="127.70" y2="669.50" stroke="#222" stroke-width="0.8"/>
<rect x="102.10" y="715.20" width="16.30" height="14.20" fill="none" stroke="#111" stroke-width="1"/>
<line x1="118.40" y1="715.20" x2="127.70" y2="671.60" stroke="#222" stroke-width="0.8"/>
<line x1="118.40" y1="729.40" x2="127.70" y2="763.50" stroke="#222" stroke-width="0.8"/>
<rect x="213.60" y="493.60" width="16.30" height="13.90" fill="none" stroke="#111" stroke-width="1"/>
<line x1="229.90" y1="493.60" x2="246.30" y2="483.90" stroke="#222" stroke-width="0.8"/>
<line x1="229.90" y1="507.50" x2="246.30" y2="575.10" stroke="#222" stroke-width="0.8"/>
<rect x="208.20" y="584.10" width="16.20" height="14.10" fill="none" stroke="#111" stroke-width="1"/>
<line x1="224.40" y1="584.10" x2="246.30" y2="577.60" stroke="#222" stroke-width="0.8"/>
<line x1="224.40" y1="598.20" x2="246.30" y2="669.50" stroke="#222" stroke-width="0.8"/>
<rect x="216.50" y="702.80" width="16.20" height="15.90" fill="none" stroke="#111" stroke-width="1"/>
<line x1="232.70" y1="702.80" x2="246.30" y2="671.60" stroke="#222" stroke-width="0.8"/>
<line x1="232.70" y1="718.70" x2="246.30" y2="763.50" stroke="#222" stroke-width="0.8"/>
<rect x="69.70" y="483.90" width="55.90" height="91.20" fill="none" stroke="#444" stroke-width="1"/>
<rect x="127.70" y="483.90" width="55.60" height="91.20" fill="none" stroke="#333" stroke-width="1"/>
<rect x="188.40" y="483.90" width="56.10" height="91.20" fill="none" stroke="#444" stroke-width="1"/>
<rect x="246.30" y="483.90" width="56.10" height="91.20" fill="none" stroke="#333" stroke-width="1"/>
<rect x="69.70" y="577.60" width="55.90" height="91.90" fill="none" stroke="#444" stroke-width="1"/>
<rect x="127.70" y="577.60" width="55.60" height="91.90" fill="none" stroke="#333" stroke-width="1"/>
<rect x="188.40" y="577.60" width="56.10" height="91.90" fill="none" stroke="#444" stroke-width="1"/>
<rect x="246.30" y="577.60" width="56.10" height="91.90" fill="none" stroke="#333" stroke-width="1"/>
<rect x="69.70" y="671.60" width="55.90" height="91.90" fill="none" stroke="#444" stroke-width="1"/>
<rect x="127.70" y="671.60" width="55.60" height="91.90" fill="none" stroke="#333" stroke-width="1"/>
<rect x="188.40" y="671.60" width="56.10" height="91.90" fill="none" stroke="#444" stroke-width="1"/>
<rect x="246.30" y="671.60" width="56.10" height="91.90" fill="none" stroke="#333" stroke-width="1"/>
<line x1="89.90" y1="767.00" x2="124.30" y2="767.00" stroke="#000" stroke-width="1.5"/>
<text x="114.00" y="776.74" font-size="9" font-weight="bold" text-anchor="middle" fill="#000">5mm</text>
<line x1="147.80" y1="767.00" x2="183.20" y2="767.00" stroke="#000" stroke-width="1.5"/>
<text x="168.70" y="776.74" font-size="9" font-weight="bold" text-anchor="middle" fill="#000">200µm</text>
<line x1="210.00" y1="767.00" x2="244.50" y2="767.00" stroke="#000" stroke-width="1.5"/>
<text x="233.40" y="776.74" font-size="9" font-weight="bold" text-anchor="middle" fill="#000">4mm</text>
<line x1="268.00" y1="767.00" x2="301.70" y2="767.00" stroke="#000" stroke-width="1.5"/>
<text x="287.50" y="776.74" font-size="9" font-weight="bold" text-anchor="middle" fill="#000">200µm</text>
<text x="620.20" y="666.64" font-size="16.5" font-weight="bold" text-anchor="middle" fill="#000">Cleaved Caspase 3</text>
<text x="421.24" y="734.30" font-size="16.5" font-weight="bold" text-anchor="middle" fill="#000" transform="rotate(-90 421.24 734.30)">Vehicle</text>
<text x="621.44" y="735.20" font-size="16.5" font-weight="bold" text-anchor="middle" fill="#000" transform="rotate(-90 621.44 735.20)">aMT 3% w/v</text>
<rect x="428.10" y="674.10" width="78.60" height="126.20" fill="#f3f3f5"/>
<path d="M470.5,681.7 Q475.3,686.7 480.8,695.6 Q486.3,704.4 491.4,718.9 Q496.5,733.4 495.3,747.9 Q494.1,762.4 493.3,771.9 Q492.6,781.4 491.8,789.6 Q491.0,797.8 481.2,798.4 Q471.3,799.0 458.4,798.4 Q445.4,797.8 441.5,790.2 Q437.5,782.6 435.2,772.5 Q432.8,762.4 435.2,751.1 Q437.5,739.7 439.5,730.3 Q441.5,720.8 446.6,705.6 Q451.7,690.5 458.8,683.6 Q465.8,676.6 470.5,681.7 Z" fill="#cbcbe2"/>
<path d="M470.5,681.7 Q475.3,686.7 480.8,695.6 Q486.3,704.4 491.4,718.9 Q496.5,733.4 495.3,747.9 Q494.1,762.4 493.3,771.9 Q492.6,781.4 491.8,789.6 Q491.0,797.8 481.2,798.4 Q471.3,799.0 458.4,798.4 Q445.4,797.8 441.5,790.2 Q437.5,782.6 435.2,772.5 Q432.8,762.4 435.2,751.1 Q437.5,739.7 439.5,730.3 Q441.5,720.8 446.6,705.6 Q451.7,690.5 458.8,683.6 Q465.8,676.6 470.5,681.7 Z" fill="#000" filter="url(#nSecJ)" opacity="0.5"/>
<ellipse cx="458.7" cy="722" rx="2.5" ry="3.5" fill="#f6f6f8"/>
<rect x="428.10" y="674.10" width="78.60" height="126.20" fill="none" stroke="#222" stroke-width="1.3"/>
<rect x="508.70" y="674.10" width="78.60" height="126.20" fill="#d8d8ee"/>
<rect x="508.70" y="674.10" width="78.60" height="126.20" fill="#000" filter="url(#nCC)"/>
<rect x="508.70" y="674.10" width="78.60" height="126.20" fill="none" stroke="#222" stroke-width="1.3"/>
<rect x="468.30" y="719.40" width="19.00" height="18.00" fill="none" stroke="#111" stroke-width="1.1"/>
<line x1="487.30" y1="719.40" x2="508.70" y2="674.10" stroke="#111" stroke-width="0.9"/>
<line x1="487.30" y1="737.40" x2="508.70" y2="800.30" stroke="#111" stroke-width="0.9"/>
<rect x="623.80" y="674.20" width="77.80" height="126.20" fill="#f3f3f5"/>
<path d="M651.0,698.2 Q658.8,696.9 665.4,698.8 Q672.0,700.7 678.3,706.4 Q684.5,712.1 689.2,724.7 Q693.8,737.3 695.8,751.2 Q697.7,765.1 693.8,775.2 Q689.9,785.3 684.9,786.5 Q679.8,787.8 671.3,782.7 Q662.7,777.7 654.9,771.4 Q647.1,765.1 641.3,754.3 Q635.5,743.6 634.3,731.0 Q633.1,718.4 638.2,708.9 Q643.2,699.4 651.0,698.2 Z" fill="#cfcfdc"/>
<path d="M651.0,698.2 Q658.8,696.9 665.4,698.8 Q672.0,700.7 678.3,706.4 Q684.5,712.1 689.2,724.7 Q693.8,737.3 695.8,751.2 Q697.7,765.1 693.8,775.2 Q689.9,785.3 684.9,786.5 Q679.8,787.8 671.3,782.7 Q662.7,777.7 654.9,771.4 Q647.1,765.1 641.3,754.3 Q635.5,743.6 634.3,731.0 Q633.1,718.4 638.2,708.9 Q643.2,699.4 651.0,698.2 Z" fill="#000" filter="url(#nSecJ)" opacity="0.4"/>
<ellipse cx="681" cy="687" rx="5" ry="6" fill="#dadae4"/>
<path d="M632,748 Q640,770 660,790 M636,752 Q650,775 668,795" fill="none" stroke="#c8b8b8" stroke-width="0.7"/>
<rect x="623.80" y="674.20" width="77.80" height="126.20" fill="none" stroke="#222" stroke-width="1.3"/>
<rect x="705.80" y="674.20" width="77.90" height="126.20" fill="#e8e5ec"/>
<rect x="705.80" y="674.20" width="77.90" height="126.20" fill="#000" filter="url(#nCC2)"/>
<rect x="705.80" y="674.20" width="77.90" height="126.20" fill="#000" filter="url(#nCCbr)"/>
<rect x="705.80" y="674.20" width="77.90" height="126.20" fill="none" stroke="#222" stroke-width="1.3"/>
<rect x="638.90" y="732.00" width="18.50" height="18.00" fill="none" stroke="#111" stroke-width="1.3"/>
<line x1="657.40" y1="732.00" x2="705.80" y2="674.20" stroke="#111" stroke-width="1"/>
<line x1="657.40" y1="750.00" x2="705.80" y2="800.40" stroke="#111" stroke-width="1"/>
<path d="M567.3,688.5 L571.7,688.5 L569.5,692.7 Z" fill="#111"/>
<path d="M747.7,677.5 L752.3,677.5 L750,681.9 Z" fill="#111"/>
<line x1="750.00" y1="675.00" x2="750.00" y2="678.50" stroke="#111" stroke-width="0.8"/>
<path d="M776.5,690.7 L781.0999999999999,690.7 L778.8,695.1 Z" fill="#111"/>
<line x1="778.80" y1="688.20" x2="778.80" y2="691.70" stroke="#111" stroke-width="0.8"/>
<path d="M716.2,709 L720.8,709 L718.5,713.4 Z" fill="#111"/>
<line x1="718.50" y1="706.50" x2="718.50" y2="710.00" stroke="#111" stroke-width="0.8"/>
<path d="M755.5,739.1 L760.0999999999999,739.1 L757.8,743.5 Z" fill="#111"/>
<line x1="757.80" y1="736.60" x2="757.80" y2="740.10" stroke="#111" stroke-width="0.8"/>
<path d="M707.7,743.7 L712.3,743.7 L710,748.1 Z" fill="#111"/>
<line x1="710.00" y1="741.20" x2="710.00" y2="744.70" stroke="#111" stroke-width="0.8"/>
<path d="M739.7,774.2 L744.3,774.2 L742,778.6 Z" fill="#111"/>
<line x1="742.00" y1="771.70" x2="742.00" y2="775.20" stroke="#111" stroke-width="0.8"/>
<line x1="457.00" y1="804.50" x2="504.80" y2="804.50" stroke="#000" stroke-width="1.5"/>
<text x="489.30" y="814.44" font-size="9" font-weight="bold" text-anchor="middle" fill="#000">3mm</text>
<line x1="539.00" y1="804.50" x2="585.50" y2="804.50" stroke="#000" stroke-width="1.5"/>
<text x="566.00" y="814.44" font-size="9" font-weight="bold" text-anchor="middle" fill="#000">200µm</text>
<line x1="653.50" y1="804.70" x2="700.40" y2="804.70" stroke="#000" stroke-width="1.5"/>
<text x="690.00" y="814.44" font-size="9" font-weight="bold" text-anchor="middle" fill="#000">3mm</text>
<line x1="735.00" y1="804.70" x2="782.20" y2="804.70" stroke="#000" stroke-width="1.5"/>
<text x="768.60" y="814.44" font-size="9" font-weight="bold" text-anchor="middle" fill="#000">200µm</text>
<text x="172.60" y="843.66" font-size="16" font-weight="bold" text-anchor="middle" fill="#000">Vehicle</text>
<text x="266.60" y="843.66" font-size="16" font-weight="bold" text-anchor="middle" fill="#000">aMT</text>
<text x="134.20" y="866.82" font-size="9.5" font-weight="bold" text-anchor="middle" fill="#000">M1</text>
<text x="156.40" y="866.82" font-size="9.5" font-weight="bold" text-anchor="middle" fill="#000">M2</text>
<text x="180.20" y="866.82" font-size="9.5" font-weight="bold" text-anchor="middle" fill="#000">M3</text>
<text x="205.40" y="866.82" font-size="9.5" font-weight="bold" text-anchor="middle" fill="#000">M4</text>
<text x="229.20" y="866.82" font-size="9.5" font-weight="bold" text-anchor="middle" fill="#000">M5</text>
<text x="253.80" y="866.82" font-size="9.5" font-weight="bold" text-anchor="middle" fill="#000">M6</text>
<text x="278.20" y="866.82" font-size="9.5" font-weight="bold" text-anchor="middle" fill="#000">M7</text>
<text x="299.60" y="866.82" font-size="9.5" font-weight="bold" text-anchor="middle" fill="#000">M8</text>
<text x="110.30" y="892.32" font-size="14.5" font-weight="bold" text-anchor="end" fill="#000">LDHA</text>
<text x="110.30" y="926.02" font-size="14.5" font-weight="bold" text-anchor="end" fill="#000">PDH</text>
<text x="110.30" y="960.92" font-size="14.5" font-weight="bold" text-anchor="end" fill="#000">PKM2</text>
<text x="110.30" y="995.52" font-size="14.5" font-weight="bold" text-anchor="end" fill="#000">GAPDH</text>
<text x="110.30" y="1029.22" font-size="14.5" font-weight="bold" text-anchor="end" fill="#000">G6PDH</text>
<rect x="118.20" y="871.00" width="200.90" height="31.00" fill="#f6f6f6"/>
<rect x="118.20" y="908.70" width="200.90" height="30.30" fill="#f6f6f6"/>
<rect x="118.20" y="945.00" width="200.90" height="27.00" fill="#f6f6f6"/>
<rect x="118.20" y="978.10" width="200.90" height="30.10" fill="#f6f6f6"/>
<rect x="118.20" y="1013.70" width="200.90" height="21.50" fill="#e6e6e6"/>
<rect x="120.5" y="887.2" width="21.0" height="1.8" rx="0.9" fill="#777" opacity="1" filter="url(#b06)"/>
<rect x="120.5" y="890.0" width="21.0" height="1.8" rx="0.9" fill="#777" opacity="1" filter="url(#b06)"/>
<rect x="120.5" y="893.5" width="21.0" height="1.8" rx="0.9" fill="#777" opacity="1" filter="url(#b06)"/>
<rect x="145.5" y="879.9" width="20.0" height="3.9" rx="2.0" fill="#000" opacity="1" filter="url(#b08)"/>
<rect x="146.5" y="885.8" width="18.0" height="1.5" rx="0.8" fill="#aaa" opacity="0.8" filter="url(#b06)"/>
<rect x="146.5" y="889.8" width="18.0" height="1.5" rx="0.8" fill="#aaa" opacity="0.8" filter="url(#b06)"/>
<rect x="170.4" y="879.3" width="19.5" height="2.9" rx="1.5" fill="#555" opacity="1" filter="url(#b08)"/>
<rect x="171.4" y="885.8" width="17.6" height="1.5" rx="0.8" fill="#aaa" opacity="0.8" filter="url(#b06)"/>
<rect x="171.4" y="889.8" width="17.6" height="1.5" rx="0.8" fill="#aaa" opacity="0.8" filter="url(#b06)"/>
<rect x="194.0" y="878.8" width="20.0" height="3.9" rx="2.0" fill="#000" opacity="1" filter="url(#b08)"/>
<rect x="195.0" y="885.8" width="18.0" height="1.5" rx="0.8" fill="#aaa" opacity="0.8" filter="url(#b06)"/>
<rect x="195.0" y="889.8" width="18.0" height="1.5" rx="0.8" fill="#aaa" opacity="0.8" filter="url(#b06)"/>
<rect x="218.5" y="880.0" width="20.0" height="2.5" rx="1.2" fill="#777" opacity="1" filter="url(#b08)"/>
<rect x="219.5" y="885.8" width="18.0" height="1.5" rx="0.8" fill="#aaa" opacity="0.4" filter="url(#b06)"/>
<rect x="219.5" y="889.8" width="18.0" height="1.5" rx="0.8" fill="#aaa" opacity="0.4" filter="url(#b06)"/>
<rect x="243.5" y="880.2" width="19.0" height="3.3" rx="1.6" fill="#111" opacity="1" filter="url(#b08)"/>
<rect x="244.4" y="885.8" width="17.1" height="1.5" rx="0.8" fill="#aaa" opacity="0.4" filter="url(#b06)"/>
<rect x="244.4" y="889.8" width="17.1" height="1.5" rx="0.8" fill="#aaa" opacity="0.4" filter="url(#b06)"/>
<rect x="297.0" y="895.5" width="16.0" height="4.0" rx="2.0" fill="#ccc" opacity="1" filter="url(#b13)"/>
<rect x="120.5" y="928.8" width="21.0" height="2.9" rx="1.5" fill="#666" opacity="1" filter="url(#b08)"/>
<rect x="120.5" y="934.6" width="21.0" height="3.3" rx="1.6" fill="#222" opacity="1" filter="url(#b08)"/>
<rect x="145.5" y="927.9" width="20.0" height="2.2" rx="1.1" fill="#bbb" opacity="1" filter="url(#b08)"/>
<rect x="145.5" y="933.3" width="20.0" height="2.2" rx="1.1" fill="#bbb" opacity="1" filter="url(#b08)"/>
<rect x="170.4" y="925.5" width="19.5" height="2.9" rx="1.5" fill="#777" opacity="1" filter="url(#b08)"/>
<rect x="170.4" y="931.0" width="19.5" height="2.9" rx="1.5" fill="#666" opacity="1" filter="url(#b08)"/>
<rect x="194.0" y="925.0" width="20.0" height="2.9" rx="1.5" fill="#555" opacity="1" filter="url(#b08)"/>
<rect x="194.0" y="930.5" width="20.0" height="2.9" rx="1.5" fill="#555" opacity="1" filter="url(#b08)"/>
<rect x="218.5" y="924.5" width="20.0" height="7.0" rx="3.5" fill="#aaa" opacity="1" filter="url(#b13)"/>
<rect x="243.5" y="929.7" width="19.0" height="4.1" rx="2.0" fill="#000" opacity="1" filter="url(#b08)"/>
<rect x="243.5" y="920.0" width="19.0" height="8.0" rx="4.0" fill="#aaa" opacity="1" filter="url(#b13)"/>
<rect x="267.8" y="924.5" width="18.5" height="7.0" rx="3.5" fill="#d0d0d0" opacity="1" filter="url(#b13)"/>
<rect x="213.20" y="912.00" width="105.90" height="5.00" fill="#e0e0e0" filter="url(#b13)"/>
<rect x="120.5" y="958.1" width="21.0" height="2.9" rx="1.5" fill="#777" opacity="1" filter="url(#b08)"/>
<rect x="120.5" y="963.0" width="21.0" height="3.1" rx="1.5" fill="#333" opacity="1" filter="url(#b08)"/>
<rect x="145.5" y="955.7" width="20.0" height="3.1" rx="1.5" fill="#222" opacity="1" filter="url(#b08)"/>
<rect x="145.5" y="960.7" width="20.0" height="3.1" rx="1.5" fill="#333" opacity="1" filter="url(#b08)"/>
<rect x="170.4" y="955.5" width="19.5" height="2.9" rx="1.5" fill="#666" opacity="1" filter="url(#b08)"/>
<rect x="170.4" y="960.2" width="19.5" height="3.1" rx="1.5" fill="#222" opacity="1" filter="url(#b08)"/>
<rect x="194.0" y="953.4" width="20.0" height="3.3" rx="1.6" fill="#000" opacity="1" filter="url(#b08)"/>
<rect x="194.0" y="958.9" width="20.0" height="3.1" rx="1.5" fill="#555" opacity="1" filter="url(#b08)"/>
<rect x="218.5" y="958.1" width="20.0" height="2.7" rx="1.4" fill="#aaa" opacity="1" filter="url(#b08)"/>
<rect x="218.5" y="961.8" width="20.0" height="2.9" rx="1.5" fill="#888" opacity="1" filter="url(#b08)"/>
<rect x="243.5" y="955.0" width="19.0" height="3.1" rx="1.5" fill="#333" opacity="1" filter="url(#b08)"/>
<rect x="243.5" y="959.0" width="19.0" height="3.1" rx="1.5" fill="#444" opacity="1" filter="url(#b08)"/>
<rect x="243.5" y="963.0" width="19.0" height="3.1" rx="1.5" fill="#555" opacity="1" filter="url(#b08)"/>
<rect x="267.8" y="956.5" width="18.5" height="6.0" rx="3.0" fill="#bbb" opacity="1" filter="url(#b13)"/>
<rect x="290.0" y="957.5" width="17.0" height="5.0" rx="2.5" fill="#e0e0e0" opacity="1" filter="url(#b13)"/>
<rect x="120.5" y="995.6" width="21.0" height="3.3" rx="1.6" fill="#222" opacity="1" filter="url(#b08)"/>
<rect x="145.5" y="993.6" width="20.0" height="3.3" rx="1.6" fill="#222" opacity="1" filter="url(#b08)"/>
<rect x="170.4" y="992.5" width="19.5" height="3.1" rx="1.5" fill="#222" opacity="1" filter="url(#b08)"/>
<rect x="194.0" y="991.0" width="20.0" height="3.9" rx="2.0" fill="#000" opacity="1" filter="url(#b08)"/>
<rect x="218.5" y="991.2" width="20.0" height="3.1" rx="1.5" fill="#444" opacity="1" filter="url(#b08)"/>
<rect x="243.5" y="991.2" width="19.0" height="3.1" rx="1.5" fill="#444" opacity="1" filter="url(#b08)"/>
<rect x="267.8" y="990.2" width="18.5" height="2.9" rx="1.5" fill="#888" opacity="1" filter="url(#b08)"/>
<rect x="290.0" y="990.6" width="17.0" height="2.3" rx="1.1" fill="#bbb" opacity="1" filter="url(#b08)"/>
<rect x="120.5" y="1029.7" width="21.0" height="3.1" rx="1.5" fill="#111" opacity="1" filter="url(#b08)"/>
<rect x="145.5" y="1028.3" width="20.0" height="2.9" rx="1.5" fill="#222" opacity="1" filter="url(#b08)"/>
<rect x="145.5" y="1020.1" width="20.0" height="3.2" rx="1.6" fill="#bbb" opacity="1" filter="url(#b08)"/>
<rect x="170.4" y="1027.3" width="19.5" height="2.9" rx="1.5" fill="#222" opacity="1" filter="url(#b08)"/>
<rect x="194.0" y="1027.2" width="20.0" height="3.1" rx="1.5" fill="#111" opacity="1" filter="url(#b08)"/>
<rect x="194.0" y="1020.1" width="20.0" height="3.3" rx="1.6" fill="#888" opacity="1" filter="url(#b08)"/>
<rect x="218.5" y="1027.1" width="20.0" height="3.3" rx="1.6" fill="#000" opacity="1" filter="url(#b08)"/>
<rect x="243.5" y="1027.2" width="19.0" height="3.1" rx="1.5" fill="#111" opacity="1" filter="url(#b08)"/>
<rect x="267.8" y="1028.0" width="18.5" height="2.7" rx="1.4" fill="#444" opacity="1" filter="url(#b08)"/>
<rect x="290.0" y="1028.3" width="17.0" height="2.3" rx="1.1" fill="#aaa" opacity="1" filter="url(#b08)"/>
<rect x="228.5" y="1016.5" width="9.0" height="9.0" rx="2.2" fill="#f6f6f6" opacity="1" filter="url(#b10)"/>
<rect x="118.20" y="871.00" width="200.90" height="31.00" fill="none" stroke="#3a3a3a" stroke-width="1.2"/>
<rect x="118.20" y="908.70" width="200.90" height="30.30" fill="none" stroke="#3a3a3a" stroke-width="1.2"/>
<rect x="118.20" y="945.00" width="200.90" height="27.00" fill="none" stroke="#3a3a3a" stroke-width="1.2"/>
<rect x="118.20" y="978.10" width="200.90" height="30.10" fill="none" stroke="#3a3a3a" stroke-width="1.2"/>
<rect x="118.20" y="1013.70" width="200.90" height="21.50" fill="none" stroke="#3a3a3a" stroke-width="1.2"/>
<rect x="118.20" y="1040.00" width="200.90" height="100.10" fill="#b6aeae"/>
<rect x="119.50" y="1040.00" width="23.00" height="100.10" fill="#a6aab2" filter="url(#b10)"/>
<rect x="144.50" y="1040.00" width="22.00" height="100.10" fill="#a6aab2" filter="url(#b10)"/>
<rect x="169.45" y="1040.00" width="21.50" height="100.10" fill="#a6aab2" filter="url(#b10)"/>
<rect x="193.00" y="1040.00" width="22.00" height="100.10" fill="#a6aab2" filter="url(#b10)"/>
<rect x="217.50" y="1040.00" width="22.00" height="100.10" fill="#a6aab2" filter="url(#b10)"/>
<rect x="242.50" y="1040.00" width="21.00" height="100.10" fill="#a6aab2" filter="url(#b10)"/>
<rect x="266.75" y="1040.00" width="20.50" height="100.10" fill="#a6aab2" filter="url(#b10)"/>
<rect x="289.00" y="1040.00" width="19.00" height="100.10" fill="#a6aab2" filter="url(#b10)"/>
<rect x="311.00" y="1040.00" width="8.00" height="100.10" fill="#a8aab0" filter="url(#b06)"/>
<rect x="121.5" y="1042.3" width="19.0" height="2.3" rx="1.1" fill="#7aa0c8" opacity="0.5" filter="url(#b08)"/>
<rect x="146.5" y="1042.3" width="18.0" height="2.3" rx="1.1" fill="#7aa0c8" opacity="0.5" filter="url(#b08)"/>
<rect x="171.4" y="1042.3" width="17.5" height="2.3" rx="1.1" fill="#7aa0c8" opacity="0.5" filter="url(#b08)"/>
<rect x="195.0" y="1042.3" width="18.0" height="2.3" rx="1.1" fill="#7aa0c8" opacity="0.5" filter="url(#b08)"/>
<rect x="219.5" y="1042.3" width="18.0" height="2.3" rx="1.1" fill="#7aa0c8" opacity="0.5" filter="url(#b08)"/>
<rect x="244.5" y="1042.3" width="17.0" height="2.3" rx="1.1" fill="#7aa0c8" opacity="0.5" filter="url(#b08)"/>
<rect x="268.8" y="1042.3" width="16.5" height="2.3" rx="1.1" fill="#7aa0c8" opacity="0.5" filter="url(#b08)"/>
<rect x="291.0" y="1042.3" width="15.0" height="2.3" rx="1.1" fill="#7aa0c8" opacity="0.5" filter="url(#b08)"/>
<rect x="121.5" y="1073.7" width="19.0" height="2.7" rx="1.4" fill="#6a9ccc" opacity="0.6400000000000001" filter="url(#b08)"/>
<rect x="121.5" y="1086.7" width="19.0" height="2.7" rx="1.4" fill="#6a9ccc" opacity="0.4" filter="url(#b08)"/>
<rect x="121.5" y="1092.7" width="19.0" height="2.7" rx="1.4" fill="#6a9ccc" opacity="0.32000000000000006" filter="url(#b08)"/>
<rect x="146.5" y="1056.7" width="18.0" height="2.7" rx="1.4" fill="#6a9ccc" opacity="0.4" filter="url(#b08)"/>
<rect x="146.5" y="1062.7" width="18.0" height="2.7" rx="1.4" fill="#6a9ccc" opacity="0.4" filter="url(#b08)"/>
<rect x="146.5" y="1087.7" width="18.0" height="2.7" rx="1.4" fill="#6a9ccc" opacity="0.5599999999999999" filter="url(#b08)"/>
<rect x="146.5" y="1092.7" width="18.0" height="2.7" rx="1.4" fill="#6a9ccc" opacity="0.32000000000000006" filter="url(#b08)"/>
<rect x="146.5" y="1101.7" width="18.0" height="2.7" rx="1.4" fill="#6a9ccc" opacity="0.48" filter="url(#b08)"/>
<rect x="171.4" y="1061.7" width="17.5" height="2.7" rx="1.4" fill="#6a9ccc" opacity="0.32000000000000006" filter="url(#b08)"/>
<rect x="171.4" y="1084.7" width="17.5" height="2.7" rx="1.4" fill="#6a9ccc" opacity="0.32000000000000006" filter="url(#b08)"/>
<rect x="171.4" y="1090.7" width="17.5" height="2.7" rx="1.4" fill="#6a9ccc" opacity="0.24" filter="url(#b08)"/>
<rect x="195.0" y="1052.7" width="18.0" height="2.7" rx="1.4" fill="#6a9ccc" opacity="0.48" filter="url(#b08)"/>
<rect x="195.0" y="1060.7" width="18.0" height="2.7" rx="1.4" fill="#6a9ccc" opacity="0.4" filter="url(#b08)"/>
<rect x="195.0" y="1087.7" width="18.0" height="2.7" rx="1.4" fill="#6a9ccc" opacity="0.5599999999999999" filter="url(#b08)"/>
<rect x="195.0" y="1091.7" width="18.0" height="2.7" rx="1.4" fill="#6a9ccc" opacity="0.4" filter="url(#b08)"/>
<rect x="195.0" y="1098.7" width="18.0" height="2.7" rx="1.4" fill="#6a9ccc" opacity="0.4" filter="url(#b08)"/>
<rect x="219.5" y="1063.7" width="18.0" height="2.7" rx="1.4" fill="#6a9ccc" opacity="0.32000000000000006" filter="url(#b08)"/>
<rect x="219.5" y="1086.7" width="18.0" height="2.7" rx="1.4" fill="#6a9ccc" opacity="0.24" filter="url(#b08)"/>
<rect x="244.5" y="1060.7" width="17.0" height="2.7" rx="1.4" fill="#6a9ccc" opacity="0.4" filter="url(#b08)"/>
<rect x="244.5" y="1088.7" width="17.0" height="2.7" rx="1.4" fill="#6a9ccc" opacity="0.32000000000000006" filter="url(#b08)"/>
<rect x="244.5" y="1093.7" width="17.0" height="2.7" rx="1.4" fill="#6a9ccc" opacity="0.48" filter="url(#b08)"/>
<rect x="268.8" y="1061.7" width="16.5" height="2.7" rx="1.4" fill="#6a9ccc" opacity="0.24" filter="url(#b08)"/>
<rect x="291.0" y="1061.7" width="15.0" height="2.7" rx="1.4" fill="#6a9ccc" opacity="0.24" filter="url(#b08)"/>
<rect x="291.0" y="1086.7" width="15.0" height="2.7" rx="1.4" fill="#6a9ccc" opacity="0.24" filter="url(#b08)"/>
<rect x="291.0" y="1121.7" width="15.0" height="2.7" rx="1.4" fill="#6a9ccc" opacity="0.4" filter="url(#b08)"/>
<path d="M123.2,1136 Q200,1130 250,1131" fill="none" stroke="#6aa0d0" stroke-width="1.5" opacity="0.6" filter="url(#b06)"/>
<rect x="118.20" y="1040.00" width="200.90" height="100.10" fill="none" stroke="#222" stroke-width="1.3"/>
<text x="112.20" y="1092.50" font-size="10" font-weight="bold" text-anchor="middle" fill="#000" transform="rotate(-90 112.20 1092.50)">GelCode™Blue Stain</text>
<text x="425.70" y="1045.20" font-size="13.6" font-weight="bold" text-anchor="middle" fill="#000">Vehicle</text>
<text x="512.70" y="1045.23" font-size="13.7" font-weight="bold" text-anchor="middle" fill="#000">aMT 3%</text>
<line x1="380.90" y1="1053.20" x2="459.70" y2="1053.20" stroke="#000" stroke-width="1.6"/>
<line x1="470.00" y1="1053.20" x2="550.70" y2="1053.20" stroke="#000" stroke-width="1.6"/>
<text x="386.40" y="1065.12" font-size="9.5" text-anchor="middle" fill="#222">M1</text>
<text x="408.40" y="1065.12" font-size="9.5" text-anchor="middle" fill="#222">M2</text>
<text x="430.60" y="1065.12" font-size="9.5" text-anchor="middle" fill="#222">M3</text>
<text x="452.70" y="1065.12" font-size="9.5" text-anchor="middle" fill="#222">M4</text>
<text x="475.50" y="1065.12" font-size="9.5" text-anchor="middle" fill="#222">M5</text>
<text x="499.90" y="1065.12" font-size="9.5" text-anchor="middle" fill="#222">M6</text>
<text x="523.00" y="1065.12" font-size="9.5" text-anchor="middle" fill="#222">M7</text>
<text x="544.20" y="1065.12" font-size="9.5" text-anchor="middle" fill="#222">M8</text>
<text x="373.30" y="1080.24" font-size="14" font-weight="bold" text-anchor="end" fill="#000">MCT4</text>
<rect x="376.50" y="1068.40" width="180.50" height="15.00" fill="#e0e0e8"/>
<rect x="379.0" y="1074.6" width="15.0" height="3.0" rx="1.5" fill="#111" opacity="1" filter="url(#b06)"/>
<rect x="399.7" y="1074.6" width="15.0" height="3.0" rx="1.5" fill="#111" opacity="1" filter="url(#b06)"/>
<rect x="422.2" y="1074.4" width="16.0" height="3.4" rx="1.7" fill="#000" opacity="1" filter="url(#b06)"/>
<rect x="444.2" y="1074.1" width="16.5" height="4.0" rx="2.0" fill="#000" opacity="1" filter="url(#b06)"/>
<rect x="467.0" y="1074.8" width="17.0" height="2.6" rx="1.3" fill="#333" opacity="1" filter="url(#b06)"/>
<rect x="490.3" y="1074.0" width="18.0" height="4.2" rx="2.1" fill="#000" opacity="1" filter="url(#b06)"/>
<rect x="512.8" y="1075.0" width="15.5" height="2.2" rx="1.1" fill="#777" opacity="1" filter="url(#b06)"/>
<rect x="536.3" y="1075.3" width="15.0" height="1.6" rx="0.8" fill="#c0c0c8" opacity="1" filter="url(#b06)"/>
<rect x="376.50" y="1068.40" width="180.50" height="15.00" fill="none" stroke="#333" stroke-width="1.2"/>
<rect x="376.50" y="1086.50" width="180.50" height="80.10" fill="#a4d0f2"/>
<rect x="376.90" y="1086.50" width="19.00" height="80.10" fill="#7cb4ec" filter="url(#b10)"/>
<rect x="398.90" y="1086.50" width="19.00" height="80.10" fill="#7cb4ec" filter="url(#b10)"/>
<rect x="421.10" y="1086.50" width="19.00" height="80.10" fill="#7cb4ec" filter="url(#b10)"/>
<rect x="443.20" y="1086.50" width="19.00" height="80.10" fill="#66a4e8" filter="url(#b10)"/>
<rect x="466.00" y="1086.50" width="19.00" height="80.10" fill="#7cb4ec" filter="url(#b10)"/>
<rect x="490.40" y="1086.50" width="19.00" height="80.10" fill="#7cb4ec" filter="url(#b10)"/>
<rect x="513.50" y="1086.50" width="19.00" height="80.10" fill="#7cb4ec" filter="url(#b10)"/>
<rect x="534.70" y="1086.50" width="19.00" height="80.10" fill="#7cb4ec" filter="url(#b10)"/>
<rect x="377.9" y="1091.3" width="17.0" height="1.3" rx="0.7" fill="#4f92e0" opacity="0.45" filter="url(#b06)"/>
<rect x="377.9" y="1095.3" width="17.0" height="1.3" rx="0.7" fill="#4f92e0" opacity="0.45" filter="url(#b06)"/>
<rect x="377.9" y="1099.3" width="17.0" height="1.3" rx="0.7" fill="#4f92e0" opacity="0.45" filter="url(#b06)"/>
<rect x="377.9" y="1102.8" width="17.0" height="1.3" rx="0.7" fill="#4f92e0" opacity="0.45" filter="url(#b06)"/>
<rect x="377.9" y="1107.3" width="17.0" height="1.3" rx="0.7" fill="#4f92e0" opacity="0.45" filter="url(#b06)"/>
<rect x="377.9" y="1111.3" width="17.0" height="1.3" rx="0.7" fill="#4f92e0" opacity="0.45" filter="url(#b06)"/>
<rect x="377.9" y="1119.3" width="17.0" height="1.3" rx="0.7" fill="#4f92e0" opacity="0.45" filter="url(#b06)"/>
<rect x="377.9" y="1125.3" width="17.0" height="1.3" rx="0.7" fill="#4f92e0" opacity="0.45" filter="url(#b06)"/>
<rect x="377.9" y="1134.3" width="17.0" height="1.3" rx="0.7" fill="#4f92e0" opacity="0.45" filter="url(#b06)"/>
<rect x="377.9" y="1138.3" width="17.0" height="1.3" rx="0.7" fill="#4f92e0" opacity="0.45" filter="url(#b06)"/>
<rect x="377.9" y="1142.3" width="17.0" height="1.3" rx="0.7" fill="#4f92e0" opacity="0.45" filter="url(#b06)"/>
<rect x="377.9" y="1146.3" width="17.0" height="1.3" rx="0.7" fill="#4f92e0" opacity="0.45" filter="url(#b06)"/>
<rect x="377.9" y="1150.3" width="17.0" height="1.3" rx="0.7" fill="#4f92e0" opacity="0.45" filter="url(#b06)"/>
<rect x="377.9" y="1154.3" width="17.0" height="1.3" rx="0.7" fill="#4f92e0" opacity="0.45" filter="url(#b06)"/>
<rect x="377.9" y="1160.3" width="17.0" height="1.3" rx="0.7" fill="#4f92e0" opacity="0.45" filter="url(#b06)"/>
<rect x="399.9" y="1091.3" width="17.0" height="1.3" rx="0.7" fill="#4f92e0" opacity="0.45" filter="url(#b06)"/>
<rect x="399.9" y="1095.3" width="17.0" height="1.3" rx="0.7" fill="#4f92e0" opacity="0.45" filter="url(#b06)"/>
<rect x="399.9" y="1099.3" width="17.0" height="1.3" rx="0.7" fill="#4f92e0" opacity="0.45" filter="url(#b06)"/>
<rect x="399.9" y="1102.8" width="17.0" height="1.3" rx="0.7" fill="#4f92e0" opacity="0.45" filter="url(#b06)"/>
<rect x="399.9" y="1107.3" width="17.0" height="1.3" rx="0.7" fill="#4f92e0" opacity="0.45" filter="url(#b06)"/>
<rect x="399.9" y="1111.3" width="17.0" height="1.3" rx="0.7" fill="#4f92e0" opacity="0.45" filter="url(#b06)"/>
<rect x="399.9" y="1119.3" width="17.0" height="1.3" rx="0.7" fill="#4f92e0" opacity="0.45" filter="url(#b06)"/>
<rect x="399.9" y="1125.3" width="17.0" height="1.3" rx="0.7" fill="#4f92e0" opacity="0.45" filter="url(#b06)"/>
<rect x="399.9" y="1134.3" width="17.0" height="1.3" rx="0.7" fill="#4f92e0" opacity="0.45" filter="url(#b06)"/>
<rect x="399.9" y="1138.3" width="17.0" height="1.3" rx="0.7" fill="#4f92e0" opacity="0.45" filter="url(#b06)"/>
<rect x="399.9" y="1142.3" width="17.0" height="1.3" rx="0.7" fill="#4f92e0" opacity="0.45" filter="url(#b06)"/>
<rect x="399.9" y="1146.3" width="17.0" height="1.3" rx="0.7" fill="#4f92e0" opacity="0.45" filter="url(#b06)"/>
<rect x="399.9" y="1150.3" width="17.0" height="1.3" rx="0.7" fill="#4f92e0" opacity="0.45" filter="url(#b06)"/>
<rect x="399.9" y="1154.3" width="17.0" height="1.3" rx="0.7" fill="#4f92e0" opacity="0.45" filter="url(#b06)"/>
<rect x="399.9" y="1160.3" width="17.0" height="1.3" rx="0.7" fill="#4f92e0" opacity="0.45" filter="url(#b06)"/>
<rect x="422.1" y="1091.3" width="17.0" height="1.3" rx="0.7" fill="#4f92e0" opacity="0.45" filter="url(#b06)"/>
<rect x="422.1" y="1095.3" width="17.0" height="1.3" rx="0.7" fill="#4f92e0" opacity="0.45" filter="url(#b06)"/>
<rect x="422.1" y="1099.3" width="17.0" height="1.3" rx="0.7" fill="#4f92e0" opacity="0.45" filter="url(#b06)"/>
<rect x="422.1" y="1102.8" width="17.0" height="1.3" rx="0.7" fill="#4f92e0" opacity="0.45" filter="url(#b06)"/>
<rect x="422.1" y="1107.3" width="17.0" height="1.3" rx="0.7" fill="#4f92e0" opacity="0.45" filter="url(#b06)"/>
<rect x="422.1" y="1111.3" width="17.0" height="1.3" rx="0.7" fill="#4f92e0" opacity="0.45" filter="url(#b06)"/>
<rect x="422.1" y="1119.3" width="17.0" height="1.3" rx="0.7" fill="#4f92e0" opacity="0.45" filter="url(#b06)"/>
<rect x="422.1" y="1125.3" width="17.0" height="1.3" rx="0.7" fill="#4f92e0" opacity="0.45" filter="url(#b06)"/>
<rect x="422.1" y="1134.3" width="17.0" height="1.3" rx="0.7" fill="#4f92e0" opacity="0.45" filter="url(#b06)"/>
<rect x="422.1" y="1138.3" width="17.0" height="1.3" rx="0.7" fill="#4f92e0" opacity="0.45" filter="url(#b06)"/>
<rect x="422.1" y="1142.3" width="17.0" height="1.3" rx="0.7" fill="#4f92e0" opacity="0.45" filter="url(#b06)"/>
<rect x="422.1" y="1146.3" width="17.0" height="1.3" rx="0.7" fill="#4f92e0" opacity="0.45" filter="url(#b06)"/>
<rect x="422.1" y="1150.3" width="17.0" height="1.3" rx="0.7" fill="#4f92e0" opacity="0.45" filter="url(#b06)"/>
<rect x="422.1" y="1154.3" width="17.0" height="1.3" rx="0.7" fill="#4f92e0" opacity="0.45" filter="url(#b06)"/>
<rect x="422.1" y="1160.3" width="17.0" height="1.3" rx="0.7" fill="#4f92e0" opacity="0.45" filter="url(#b06)"/>
<rect x="444.2" y="1091.3" width="17.0" height="1.3" rx="0.7" fill="#4f92e0" opacity="0.45" filter="url(#b06)"/>
<rect x="444.2" y="1095.3" width="17.0" height="1.3" rx="0.7" fill="#4f92e0" opacity="0.45" filter="url(#b06)"/>
<rect x="444.2" y="1099.3" width="17.0" height="1.3" rx="0.7" fill="#4f92e0" opacity="0.45" filter="url(#b06)"/>
<rect x="444.2" y="1102.8" width="17.0" height="1.3" rx="0.7" fill="#4f92e0" opacity="0.45" filter="url(#b06)"/>
<rect x="444.2" y="1107.3" width="17.0" height="1.3" rx="0.7" fill="#4f92e0" opacity="0.45" filter="url(#b06)"/>
<rect x="444.2" y="1111.3" width="17.0" height="1.3" rx="0.7" fill="#4f92e0" opacity="0.45" filter="url(#b06)"/>
<rect x="444.2" y="1119.3" width="17.0" height="1.3" rx="0.7" fill="#4f92e0" opacity="0.45" filter="url(#b06)"/>
<rect x="444.2" y="1125.3" width="17.0" height="1.3" rx="0.7" fill="#4f92e0" opacity="0.45" filter="url(#b06)"/>
<rect x="444.2" y="1134.3" width="17.0" height="1.3" rx="0.7" fill="#4f92e0" opacity="0.45" filter="url(#b06)"/>
<rect x="444.2" y="1138.3" width="17.0" height="1.3" rx="0.7" fill="#4f92e0" opacity="0.45" filter="url(#b06)"/>
<rect x="444.2" y="1142.3" width="17.0" height="1.3" rx="0.7" fill="#4f92e0" opacity="0.45" filter="url(#b06)"/>
<rect x="444.2" y="1146.3" width="17.0" height="1.3" rx="0.7" fill="#4f92e0" opacity="0.45" filter="url(#b06)"/>
<rect x="444.2" y="1150.3" width="17.0" height="1.3" rx="0.7" fill="#4f92e0" opacity="0.45" filter="url(#b06)"/>
<rect x="444.2" y="1154.3" width="17.0" height="1.3" rx="0.7" fill="#4f92e0" opacity="0.45" filter="url(#b06)"/>
<rect x="444.2" y="1160.3" width="17.0" height="1.3" rx="0.7" fill="#4f92e0" opacity="0.45" filter="url(#b06)"/>
<rect x="467.0" y="1091.3" width="17.0" height="1.3" rx="0.7" fill="#4f92e0" opacity="0.45" filter="url(#b06)"/>
<rect x="467.0" y="1095.3" width="17.0" height="1.3" rx="0.7" fill="#4f92e0" opacity="0.45" filter="url(#b06)"/>
<rect x="467.0" y="1099.3" width="17.0" height="1.3" rx="0.7" fill="#4f92e0" opacity="0.45" filter="url(#b06)"/>
<rect x="467.0" y="1102.8" width="17.0" height="1.3" rx="0.7" fill="#4f92e0" opacity="0.45" filter="url(#b06)"/>
<rect x="467.0" y="1107.3" width="17.0" height="1.3" rx="0.7" fill="#4f92e0" opacity="0.45" filter="url(#b06)"/>
<rect x="467.0" y="1111.3" width="17.0" height="1.3" rx="0.7" fill="#4f92e0" opacity="0.45" filter="url(#b06)"/>
<rect x="467.0" y="1119.3" width="17.0" height="1.3" rx="0.7" fill="#4f92e0" opacity="0.45" filter="url(#b06)"/>
<rect x="467.0" y="1125.3" width="17.0" height="1.3" rx="0.7" fill="#4f92e0" opacity="0.45" filter="url(#b06)"/>
<rect x="467.0" y="1134.3" width="17.0" height="1.3" rx="0.7" fill="#4f92e0" opacity="0.45" filter="url(#b06)"/>
<rect x="467.0" y="1138.3" width="17.0" height="1.3" rx="0.7" fill="#4f92e0" opacity="0.45" filter="url(#b06)"/>
<rect x="467.0" y="1142.3" width="17.0" height="1.3" rx="0.7" fill="#4f92e0" opacity="0.45" filter="url(#b06)"/>
<rect x="467.0" y="1146.3" width="17.0" height="1.3" rx="0.7" fill="#4f92e0" opacity="0.45" filter="url(#b06)"/>
<rect x="467.0" y="1150.3" width="17.0" height="1.3" rx="0.7" fill="#4f92e0" opacity="0.45" filter="url(#b06)"/>
<rect x="467.0" y="1154.3" width="17.0" height="1.3" rx="0.7" fill="#4f92e0" opacity="0.45" filter="url(#b06)"/>
<rect x="467.0" y="1160.3" width="17.0" height="1.3" rx="0.7" fill="#4f92e0" opacity="0.45" filter="url(#b06)"/>
<rect x="491.4" y="1091.3" width="17.0" height="1.3" rx="0.7" fill="#4f92e0" opacity="0.45" filter="url(#b06)"/>
<rect x="491.4" y="1095.3" width="17.0" height="1.3" rx="0.7" fill="#4f92e0" opacity="0.45" filter="url(#b06)"/>
<rect x="491.4" y="1099.3" width="17.0" height="1.3" rx="0.7" fill="#4f92e0" opacity="0.45" filter="url(#b06)"/>
<rect x="491.4" y="1102.8" width="17.0" height="1.3" rx="0.7" fill="#4f92e0" opacity="0.45" filter="url(#b06)"/>
<rect x="491.4" y="1107.3" width="17.0" height="1.3" rx="0.7" fill="#4f92e0" opacity="0.45" filter="url(#b06)"/>
<rect x="491.4" y="1111.3" width="17.0" height="1.3" rx="0.7" fill="#4f92e0" opacity="0.45" filter="url(#b06)"/>
<rect x="491.4" y="1119.3" width="17.0" height="1.3" rx="0.7" fill="#4f92e0" opacity="0.45" filter="url(#b06)"/>
<rect x="491.4" y="1125.3" width="17.0" height="1.3" rx="0.7" fill="#4f92e0" opacity="0.45" filter="url(#b06)"/>
<rect x="491.4" y="1134.3" width="17.0" height="1.3" rx="0.7" fill="#4f92e0" opacity="0.45" filter="url(#b06)"/>
<rect x="491.4" y="1138.3" width="17.0" height="1.3" rx="0.7" fill="#4f92e0" opacity="0.45" filter="url(#b06)"/>
<rect x="491.4" y="1142.3" width="17.0" height="1.3" rx="0.7" fill="#4f92e0" opacity="0.45" filter="url(#b06)"/>
<rect x="491.4" y="1146.3" width="17.0" height="1.3" rx="0.7" fill="#4f92e0" opacity="0.45" filter="url(#b06)"/>
<rect x="491.4" y="1150.3" width="17.0" height="1.3" rx="0.7" fill="#4f92e0" opacity="0.45" filter="url(#b06)"/>
<rect x="491.4" y="1154.3" width="17.0" height="1.3" rx="0.7" fill="#4f92e0" opacity="0.45" filter="url(#b06)"/>
<rect x="491.4" y="1160.3" width="17.0" height="1.3" rx="0.7" fill="#4f92e0" opacity="0.45" filter="url(#b06)"/>
<rect x="514.5" y="1091.3" width="17.0" height="1.3" rx="0.7" fill="#4f92e0" opacity="0.45" filter="url(#b06)"/>
<rect x="514.5" y="1095.3" width="17.0" height="1.3" rx="0.7" fill="#4f92e0" opacity="0.45" filter="url(#b06)"/>
<rect x="514.5" y="1099.3" width="17.0" height="1.3" rx="0.7" fill="#4f92e0" opacity="0.45" filter="url(#b06)"/>
<rect x="514.5" y="1102.8" width="17.0" height="1.3" rx="0.7" fill="#4f92e0" opacity="0.45" filter="url(#b06)"/>
<rect x="514.5" y="1107.3" width="17.0" height="1.3" rx="0.7" fill="#4f92e0" opacity="0.45" filter="url(#b06)"/>
<rect x="514.5" y="1111.3" width="17.0" height="1.3" rx="0.7" fill="#4f92e0" opacity="0.45" filter="url(#b06)"/>
<rect x="514.5" y="1119.3" width="17.0" height="1.3" rx="0.7" fill="#4f92e0" opacity="0.45" filter="url(#b06)"/>
<rect x="514.5" y="1125.3" width="17.0" height="1.3" rx="0.7" fill="#4f92e0" opacity="0.45" filter="url(#b06)"/>
<rect x="514.5" y="1134.3" width="17.0" height="1.3" rx="0.7" fill="#4f92e0" opacity="0.45" filter="url(#b06)"/>
<rect x="514.5" y="1138.3" width="17.0" height="1.3" rx="0.7" fill="#4f92e0" opacity="0.45" filter="url(#b06)"/>
<rect x="514.5" y="1142.3" width="17.0" height="1.3" rx="0.7" fill="#4f92e0" opacity="0.45" filter="url(#b06)"/>
<rect x="514.5" y="1146.3" width="17.0" height="1.3" rx="0.7" fill="#4f92e0" opacity="0.45" filter="url(#b06)"/>
<rect x="514.5" y="1150.3" width="17.0" height="1.3" rx="0.7" fill="#4f92e0" opacity="0.45" filter="url(#b06)"/>
<rect x="514.5" y="1154.3" width="17.0" height="1.3" rx="0.7" fill="#4f92e0" opacity="0.45" filter="url(#b06)"/>
<rect x="514.5" y="1160.3" width="17.0" height="1.3" rx="0.7" fill="#4f92e0" opacity="0.45" filter="url(#b06)"/>
<rect x="535.7" y="1091.3" width="17.0" height="1.3" rx="0.7" fill="#4f92e0" opacity="0.45" filter="url(#b06)"/>
<rect x="535.7" y="1095.3" width="17.0" height="1.3" rx="0.7" fill="#4f92e0" opacity="0.45" filter="url(#b06)"/>
<rect x="535.7" y="1099.3" width="17.0" height="1.3" rx="0.7" fill="#4f92e0" opacity="0.45" filter="url(#b06)"/>
<rect x="535.7" y="1102.8" width="17.0" height="1.3" rx="0.7" fill="#4f92e0" opacity="0.45" filter="url(#b06)"/>
<rect x="535.7" y="1107.3" width="17.0" height="1.3" rx="0.7" fill="#4f92e0" opacity="0.45" filter="url(#b06)"/>
<rect x="535.7" y="1111.3" width="17.0" height="1.3" rx="0.7" fill="#4f92e0" opacity="0.45" filter="url(#b06)"/>
<rect x="535.7" y="1119.3" width="17.0" height="1.3" rx="0.7" fill="#4f92e0" opacity="0.45" filter="url(#b06)"/>
<rect x="535.7" y="1125.3" width="17.0" height="1.3" rx="0.7" fill="#4f92e0" opacity="0.45" filter="url(#b06)"/>
<rect x="535.7" y="1134.3" width="17.0" height="1.3" rx="0.7" fill="#4f92e0" opacity="0.45" filter="url(#b06)"/>
<rect x="535.7" y="1138.3" width="17.0" height="1.3" rx="0.7" fill="#4f92e0" opacity="0.45" filter="url(#b06)"/>
<rect x="535.7" y="1142.3" width="17.0" height="1.3" rx="0.7" fill="#4f92e0" opacity="0.45" filter="url(#b06)"/>
<rect x="535.7" y="1146.3" width="17.0" height="1.3" rx="0.7" fill="#4f92e0" opacity="0.45" filter="url(#b06)"/>
<rect x="535.7" y="1150.3" width="17.0" height="1.3" rx="0.7" fill="#4f92e0" opacity="0.45" filter="url(#b06)"/>
<rect x="535.7" y="1154.3" width="17.0" height="1.3" rx="0.7" fill="#4f92e0" opacity="0.45" filter="url(#b06)"/>
<rect x="535.7" y="1160.3" width="17.0" height="1.3" rx="0.7" fill="#4f92e0" opacity="0.45" filter="url(#b06)"/>
<rect x="377.9" y="1115.0" width="17.0" height="2.9" rx="1.5" fill="#2a72d4" opacity="0.68" filter="url(#b08)"/>
<rect x="399.9" y="1115.0" width="17.0" height="2.9" rx="1.5" fill="#2a72d4" opacity="0.595" filter="url(#b08)"/>
<rect x="422.1" y="1115.0" width="17.0" height="2.9" rx="1.5" fill="#2a72d4" opacity="0.7224999999999999" filter="url(#b08)"/>
<rect x="444.2" y="1115.0" width="17.0" height="2.9" rx="1.5" fill="#2a72d4" opacity="0.765" filter="url(#b08)"/>
<rect x="467.0" y="1115.0" width="17.0" height="2.9" rx="1.5" fill="#2a72d4" opacity="0.85" filter="url(#b08)"/>
<rect x="491.4" y="1115.0" width="17.0" height="2.9" rx="1.5" fill="#2a72d4" opacity="0.68" filter="url(#b08)"/>
<rect x="514.5" y="1115.0" width="17.0" height="2.9" rx="1.5" fill="#2a72d4" opacity="0.85" filter="url(#b08)"/>
<rect x="534.7" y="1115.0" width="17.0" height="2.9" rx="1.5" fill="#2a72d4" opacity="0.595" filter="url(#b08)"/>
<rect x="377.9" y="1122.0" width="17.0" height="2.9" rx="1.5" fill="#2a72d4" opacity="0.425" filter="url(#b08)"/>
<rect x="399.9" y="1122.0" width="17.0" height="2.9" rx="1.5" fill="#2a72d4" opacity="0.425" filter="url(#b08)"/>
<rect x="422.1" y="1122.0" width="17.0" height="2.9" rx="1.5" fill="#2a72d4" opacity="0.425" filter="url(#b08)"/>
<rect x="444.2" y="1122.0" width="17.0" height="2.9" rx="1.5" fill="#2a72d4" opacity="0.68" filter="url(#b08)"/>
<rect x="491.4" y="1122.0" width="17.0" height="2.9" rx="1.5" fill="#2a72d4" opacity="0.51" filter="url(#b08)"/>
<rect x="514.5" y="1122.0" width="17.0" height="2.9" rx="1.5" fill="#2a72d4" opacity="0.34" filter="url(#b08)"/>
<rect x="377.9" y="1129.8" width="17.0" height="2.9" rx="1.5" fill="#2a72d4" opacity="0.68" filter="url(#b08)"/>
<rect x="399.9" y="1129.8" width="17.0" height="2.9" rx="1.5" fill="#2a72d4" opacity="0.595" filter="url(#b08)"/>
<rect x="422.1" y="1129.8" width="17.0" height="2.9" rx="1.5" fill="#2a72d4" opacity="0.6375" filter="url(#b08)"/>
<rect x="444.2" y="1129.8" width="17.0" height="2.9" rx="1.5" fill="#2a72d4" opacity="0.85" filter="url(#b08)"/>
<rect x="467.0" y="1129.8" width="17.0" height="2.9" rx="1.5" fill="#2a72d4" opacity="0.51" filter="url(#b08)"/>
<rect x="491.4" y="1129.8" width="17.0" height="2.9" rx="1.5" fill="#2a72d4" opacity="0.7224999999999999" filter="url(#b08)"/>
<rect x="514.5" y="1129.8" width="17.0" height="2.9" rx="1.5" fill="#2a72d4" opacity="0.51" filter="url(#b08)"/>
<rect x="534.7" y="1129.8" width="17.0" height="2.9" rx="1.5" fill="#2a72d4" opacity="0.425" filter="url(#b08)"/>
<rect x="444.2" y="1158.5" width="17.0" height="2.9" rx="1.5" fill="#2a72d4" opacity="0.85" filter="url(#b08)"/>
<rect x="534.7" y="1143.2" width="17.0" height="2.9" rx="1.5" fill="#2a72d4" opacity="0.68" filter="url(#b08)"/>
<rect x="444.2" y="1102.0" width="17.0" height="2.9" rx="1.5" fill="#2a72d4" opacity="0.51" filter="url(#b08)"/>
<rect x="377.9" y="1102.0" width="17.0" height="2.9" rx="1.5" fill="#2a72d4" opacity="0.34" filter="url(#b08)"/>
<rect x="491.4" y="1102.0" width="17.0" height="2.9" rx="1.5" fill="#2a72d4" opacity="0.34" filter="url(#b08)"/>
<rect x="376.50" y="1086.50" width="180.50" height="80.10" fill="none" stroke="#222" stroke-width="1.3"/>
<text x="375.15" y="1126.80" font-size="8.5" text-anchor="middle" fill="#000" transform="rotate(-90 375.15 1126.80)">GelCode™Blue Stain</text>
</g>
</svg></body></html>
